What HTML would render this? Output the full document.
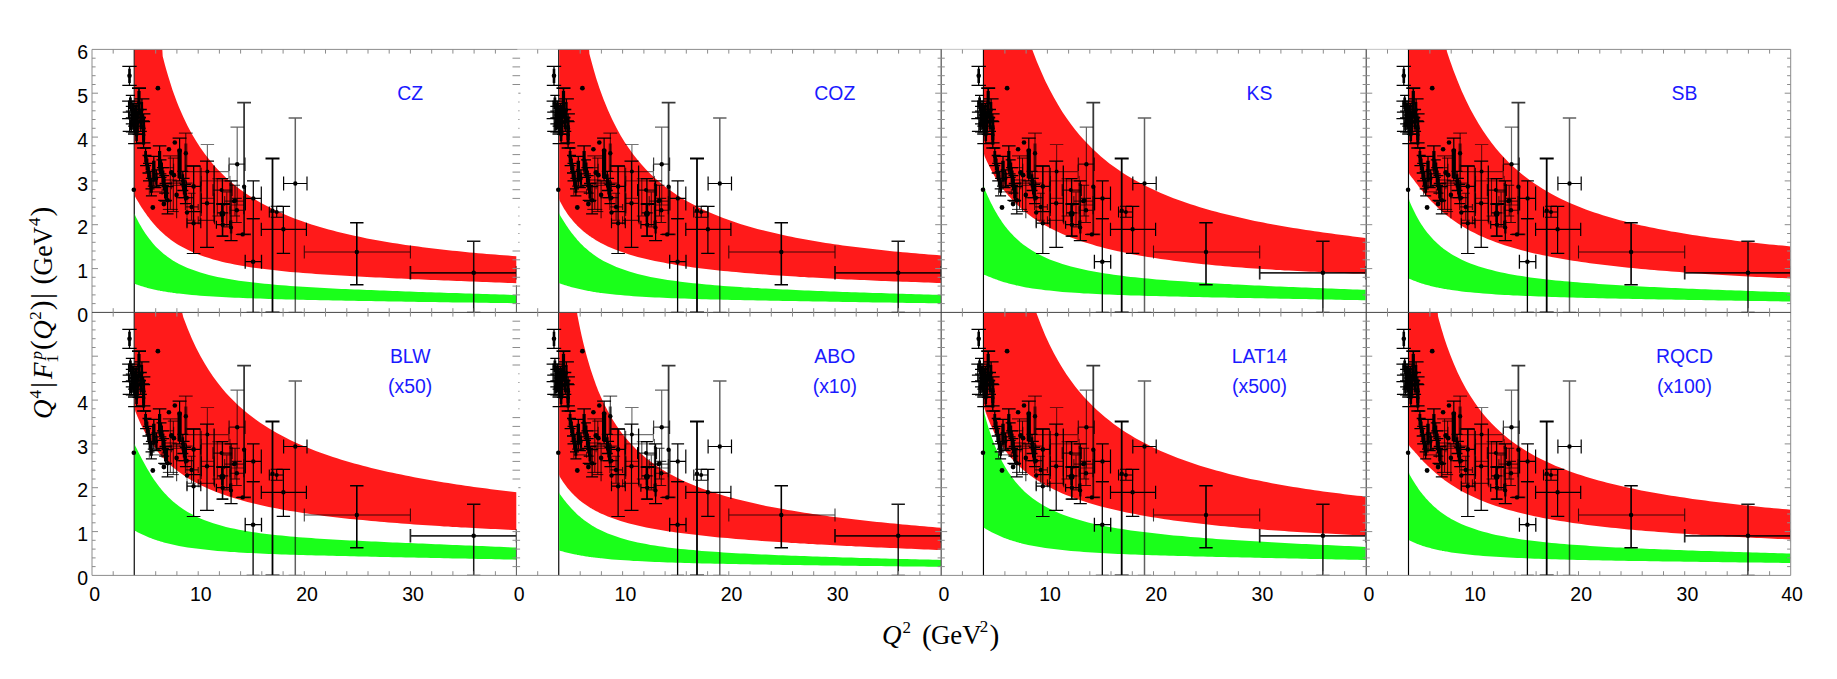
<!DOCTYPE html>
<html><head><meta charset="utf-8"><title>Q4 F1p form factor</title>
<style>html,body{margin:0;padding:0;background:#fff}svg{display:block}text{font-family:"Liberation Sans",sans-serif}.s{font-family:"Liberation Serif",serif}</style></head><body>
<svg width="1837" height="679" viewBox="0 0 1837 679">
<rect width="1837" height="679" fill="#fff"/>
<defs>
<clipPath id="cp00"><rect x="92.0" y="49.4" width="424.50" height="263.00"/></clipPath>
<clipPath id="cp01"><rect x="516.5" y="49.4" width="424.70" height="263.00"/></clipPath>
<clipPath id="cp02"><rect x="941.2" y="49.4" width="424.55" height="263.00"/></clipPath>
<clipPath id="cp03"><rect x="1366.25" y="49.4" width="423.95" height="263.00"/></clipPath>
<clipPath id="cp10"><rect x="92.0" y="312.4" width="424.50" height="263.00"/></clipPath>
<clipPath id="cp11"><rect x="516.5" y="312.4" width="424.70" height="263.00"/></clipPath>
<clipPath id="cp12"><rect x="941.2" y="312.4" width="424.55" height="263.00"/></clipPath>
<clipPath id="cp13"><rect x="1366.25" y="312.4" width="423.95" height="263.00"/></clipPath>
</defs>
<line x1="134.25" y1="49.4" x2="134.25" y2="312.4" stroke="#000" stroke-width="1.15"/>
<line x1="558.75" y1="49.4" x2="558.75" y2="312.4" stroke="#000" stroke-width="1.15"/>
<line x1="983.45" y1="49.4" x2="983.45" y2="312.4" stroke="#000" stroke-width="1.15"/>
<line x1="1408.50" y1="49.4" x2="1408.50" y2="312.4" stroke="#000" stroke-width="1.15"/>
<line x1="134.25" y1="312.4" x2="134.25" y2="575.4" stroke="#000" stroke-width="1.15"/>
<line x1="558.75" y1="312.4" x2="558.75" y2="575.4" stroke="#000" stroke-width="1.15"/>
<line x1="983.45" y1="312.4" x2="983.45" y2="575.4" stroke="#000" stroke-width="1.15"/>
<line x1="1408.50" y1="312.4" x2="1408.50" y2="575.4" stroke="#000" stroke-width="1.15"/>
<g clip-path="url(#cp00)">
<path d="M134.7,213.5 L135.3,215.8 L136.4,218.0 L137.5,220.1 L138.6,222.2 L139.7,224.2 L140.8,226.1 L141.9,228.0 L143.0,229.8 L144.1,231.5 L145.2,233.2 L146.3,234.8 L147.4,236.3 L148.5,237.8 L149.6,239.2 L150.7,240.6 L151.8,242.0 L152.8,243.3 L153.9,244.5 L155.0,245.7 L156.1,246.9 L157.2,248.0 L158.3,249.1 L159.4,250.1 L160.5,251.1 L161.6,252.1 L162.7,253.0 L163.8,253.9 L164.9,254.8 L166.0,255.6 L167.1,256.5 L168.2,257.3 L169.3,258.0 L170.4,258.8 L171.4,259.5 L172.5,260.2 L173.6,260.9 L174.7,261.5 L175.8,262.2 L176.9,262.8 L179.0,263.9 L183.3,266.0 L187.6,267.9 L191.9,269.6 L196.1,271.1 L200.4,272.5 L204.7,273.8 L209.0,274.9 L213.2,275.9 L217.5,276.9 L221.8,277.8 L226.0,278.6 L230.3,279.3 L234.6,280.0 L238.9,280.7 L243.1,281.3 L247.4,281.8 L251.7,282.3 L256.0,282.8 L260.2,283.3 L264.5,283.7 L268.8,284.1 L273.0,284.5 L277.3,284.9 L281.6,285.2 L285.9,285.6 L290.1,285.9 L294.4,286.2 L298.7,286.5 L303.0,286.8 L307.2,287.0 L311.5,287.3 L315.8,287.5 L320.0,287.8 L324.3,288.0 L328.6,288.2 L332.9,288.4 L337.1,288.7 L341.4,288.9 L345.7,289.1 L350.0,289.2 L354.2,289.4 L358.5,289.6 L362.8,289.8 L367.0,290.0 L371.3,290.1 L375.6,290.3 L379.9,290.5 L384.1,290.6 L388.4,290.8 L392.7,291.0 L397.0,291.1 L401.2,291.3 L405.5,291.4 L409.8,291.6 L414.1,291.7 L418.3,291.9 L422.6,292.0 L426.9,292.2 L431.1,292.3 L435.4,292.5 L439.7,292.6 L444.0,292.7 L448.2,292.9 L452.5,293.0 L456.8,293.1 L461.1,293.3 L465.3,293.4 L469.6,293.6 L473.9,293.7 L478.1,293.8 L482.4,294.0 L486.7,294.1 L491.0,294.2 L495.2,294.3 L499.5,294.5 L503.8,294.6 L508.1,294.7 L512.3,294.9 L516.6,295.0 L516.6,303.2 L512.3,303.2 L508.1,303.1 L503.8,303.1 L499.5,303.0 L495.2,302.9 L491.0,302.9 L486.7,302.8 L482.4,302.8 L478.1,302.7 L473.9,302.6 L469.6,302.6 L465.3,302.5 L461.1,302.5 L456.8,302.4 L452.5,302.4 L448.2,302.3 L444.0,302.2 L439.7,302.2 L435.4,302.1 L431.1,302.0 L426.9,302.0 L422.6,301.9 L418.3,301.9 L414.1,301.8 L409.8,301.7 L405.5,301.7 L401.2,301.6 L397.0,301.5 L392.7,301.5 L388.4,301.4 L384.1,301.3 L379.9,301.3 L375.6,301.2 L371.3,301.1 L367.0,301.0 L362.8,301.0 L358.5,300.9 L354.2,300.8 L350.0,300.8 L345.7,300.7 L341.4,300.6 L337.1,300.5 L332.9,300.4 L328.6,300.3 L324.3,300.3 L320.0,300.2 L315.8,300.1 L311.5,300.0 L307.2,299.9 L303.0,299.8 L298.7,299.7 L294.4,299.6 L290.1,299.5 L285.9,299.4 L281.6,299.3 L277.3,299.2 L273.0,299.0 L268.8,298.9 L264.5,298.8 L260.2,298.6 L256.0,298.5 L251.7,298.3 L247.4,298.2 L243.1,298.0 L238.9,297.8 L234.6,297.7 L230.3,297.5 L226.0,297.2 L221.8,297.0 L217.5,296.8 L213.2,296.5 L209.0,296.3 L204.7,296.0 L200.4,295.7 L196.1,295.3 L191.9,294.9 L187.6,294.5 L183.3,294.1 L179.0,293.6 L176.9,293.4 L175.8,293.2 L174.7,293.1 L173.6,292.9 L172.5,292.8 L171.4,292.6 L170.4,292.5 L169.3,292.3 L168.2,292.2 L167.1,292.0 L166.0,291.8 L164.9,291.6 L163.8,291.4 L162.7,291.3 L161.6,291.1 L160.5,290.9 L159.4,290.6 L158.3,290.4 L157.2,290.2 L156.1,290.0 L155.0,289.8 L153.9,289.5 L152.8,289.3 L151.8,289.0 L150.7,288.7 L149.6,288.5 L148.5,288.2 L147.4,287.9 L146.3,287.6 L145.2,287.3 L144.1,287.0 L143.0,286.6 L141.9,286.3 L140.8,285.9 L139.7,285.6 L138.6,285.2 L137.5,284.8 L136.4,284.4 L135.3,284.0 L134.7,283.5Z" fill="#1aff1a"/>
<path d="M134.7,-168.9 L135.3,-152.4 L136.4,-137.0 L137.5,-122.7 L138.6,-109.3 L139.7,-96.8 L140.8,-85.0 L141.9,-73.9 L143.0,-63.5 L144.1,-53.7 L145.2,-44.4 L146.3,-35.6 L147.4,-27.2 L148.5,-19.3 L149.6,-11.8 L150.7,-4.6 L151.8,2.2 L152.8,8.8 L153.9,15.0 L155.0,20.9 L156.1,26.6 L157.2,32.1 L158.3,36.2 L159.4,36.2 L160.5,36.2 L161.6,36.2 L162.7,56.2 L163.8,60.5 L164.9,64.7 L166.0,68.7 L167.1,72.5 L168.2,76.2 L169.3,79.8 L170.4,83.3 L171.4,86.6 L172.5,89.9 L173.6,93.0 L174.7,96.1 L175.8,99.0 L176.9,101.9 L179.0,107.2 L183.3,117.1 L187.6,125.9 L191.9,133.9 L196.1,141.1 L200.4,147.7 L204.7,153.7 L209.0,159.3 L213.2,164.4 L217.5,169.2 L221.8,173.6 L226.0,177.7 L230.3,181.5 L234.6,185.1 L238.9,188.4 L243.1,191.6 L247.4,194.5 L251.7,197.3 L256.0,200.0 L260.2,202.5 L264.5,204.8 L268.8,207.1 L273.0,209.2 L277.3,211.2 L281.6,213.1 L285.9,215.0 L290.1,216.7 L294.4,218.4 L298.7,220.0 L303.0,221.5 L307.2,223.0 L311.5,224.4 L315.8,225.7 L320.0,227.0 L324.3,228.3 L328.6,229.5 L332.9,230.6 L337.1,231.7 L341.4,232.8 L345.7,233.8 L350.0,234.8 L354.2,235.7 L358.5,236.6 L362.8,237.5 L367.0,238.4 L371.3,239.2 L375.6,240.0 L379.9,240.7 L384.1,241.5 L388.4,242.2 L392.7,242.9 L397.0,243.6 L401.2,244.2 L405.5,244.9 L409.8,245.5 L414.1,246.1 L418.3,246.6 L422.6,247.2 L426.9,247.7 L431.1,248.3 L435.4,248.8 L439.7,249.3 L444.0,249.8 L448.2,250.2 L452.5,250.7 L456.8,251.1 L461.1,251.6 L465.3,252.0 L469.6,252.4 L473.9,252.8 L478.1,253.2 L482.4,253.5 L486.7,253.9 L491.0,254.2 L495.2,254.6 L499.5,254.9 L503.8,255.2 L508.1,255.6 L512.3,255.9 L516.6,256.2 L516.6,283.2 L512.3,283.1 L508.1,282.9 L503.8,282.7 L499.5,282.6 L495.2,282.4 L491.0,282.2 L486.7,282.1 L482.4,281.9 L478.1,281.8 L473.9,281.6 L469.6,281.4 L465.3,281.3 L461.1,281.1 L456.8,280.9 L452.5,280.7 L448.2,280.6 L444.0,280.4 L439.7,280.2 L435.4,280.1 L431.1,279.9 L426.9,279.7 L422.6,279.5 L418.3,279.3 L414.1,279.2 L409.8,279.0 L405.5,278.8 L401.2,278.6 L397.0,278.4 L392.7,278.2 L388.4,278.0 L384.1,277.8 L379.9,277.6 L375.6,277.4 L371.3,277.2 L367.0,277.0 L362.8,276.8 L358.5,276.5 L354.2,276.3 L350.0,276.1 L345.7,275.8 L341.4,275.6 L337.1,275.3 L332.9,275.1 L328.6,274.8 L324.3,274.5 L320.0,274.2 L315.8,273.9 L311.5,273.6 L307.2,273.3 L303.0,273.0 L298.7,272.6 L294.4,272.2 L290.1,271.9 L285.9,271.5 L281.6,271.0 L277.3,270.6 L273.0,270.1 L268.8,269.6 L264.5,269.1 L260.2,268.6 L256.0,268.0 L251.7,267.4 L247.4,266.7 L243.1,266.0 L238.9,265.3 L234.6,264.4 L230.3,263.6 L226.0,262.7 L221.8,261.7 L217.5,260.6 L213.2,259.4 L209.0,258.1 L204.7,256.8 L200.4,255.2 L196.1,253.6 L191.9,251.8 L187.6,249.8 L183.3,247.6 L179.0,245.2 L176.9,243.9 L175.8,243.2 L174.7,242.4 L173.6,241.7 L172.5,241.0 L171.4,240.2 L170.4,239.4 L169.3,238.5 L168.2,237.7 L167.1,236.8 L166.0,235.9 L164.9,235.0 L163.8,234.0 L162.7,233.1 L161.6,232.1 L160.5,231.0 L159.4,229.9 L158.3,228.8 L157.2,227.7 L156.1,226.5 L155.0,225.3 L153.9,224.1 L152.8,222.8 L151.8,221.5 L150.7,220.2 L149.6,218.8 L148.5,217.3 L147.4,215.9 L146.3,214.3 L145.2,212.8 L144.1,211.2 L143.0,209.6 L141.9,207.9 L140.8,206.2 L139.7,204.4 L138.6,202.6 L137.5,200.8 L136.4,198.9 L135.3,197.0 L134.7,195.1Z" fill="#ff1a1a"/>
</g>
<g clip-path="url(#cp01)">
<path d="M559.2,212.9 L559.8,214.8 L560.9,216.7 L562.0,218.5 L563.1,220.3 L564.2,222.1 L565.3,223.8 L566.4,225.5 L567.5,227.1 L568.6,228.7 L569.7,230.3 L570.8,231.8 L571.9,233.2 L573.0,234.6 L574.1,236.0 L575.2,237.3 L576.3,238.6 L577.3,239.9 L578.4,241.1 L579.5,242.3 L580.6,243.4 L581.7,244.5 L582.8,245.6 L583.9,246.7 L585.0,247.7 L586.1,248.6 L587.2,249.6 L588.3,250.5 L589.4,251.4 L590.5,252.3 L591.6,253.1 L592.7,253.9 L593.8,254.7 L594.9,255.5 L595.9,256.2 L597.0,257.0 L598.1,257.7 L599.2,258.4 L600.3,259.0 L601.4,259.7 L603.5,260.9 L607.8,263.1 L612.1,265.1 L616.4,267.0 L620.6,268.6 L624.9,270.1 L629.2,271.5 L633.5,272.8 L637.7,273.9 L642.0,275.0 L646.3,276.0 L650.5,276.9 L654.8,277.7 L659.1,278.5 L663.4,279.2 L667.6,279.9 L671.9,280.5 L676.2,281.1 L680.5,281.7 L684.7,282.2 L689.0,282.7 L693.3,283.2 L697.5,283.6 L701.8,284.1 L706.1,284.5 L710.4,284.8 L714.6,285.2 L718.9,285.6 L723.2,285.9 L727.5,286.2 L731.7,286.5 L736.0,286.8 L740.3,287.1 L744.5,287.4 L748.8,287.6 L753.1,287.9 L757.4,288.1 L761.6,288.4 L765.9,288.6 L770.2,288.8 L774.5,289.0 L778.7,289.2 L783.0,289.4 L787.3,289.6 L791.5,289.8 L795.8,290.0 L800.1,290.2 L804.4,290.4 L808.6,290.6 L812.9,290.7 L817.2,290.9 L821.5,291.1 L825.7,291.2 L830.0,291.4 L834.3,291.5 L838.6,291.7 L842.8,291.9 L847.1,292.0 L851.4,292.2 L855.6,292.3 L859.9,292.4 L864.2,292.6 L868.5,292.7 L872.7,292.9 L877.0,293.0 L881.3,293.1 L885.6,293.3 L889.8,293.4 L894.1,293.6 L898.4,293.7 L902.6,293.8 L906.9,293.9 L911.2,294.1 L915.5,294.2 L919.7,294.3 L924.0,294.5 L928.3,294.6 L932.6,294.7 L936.8,294.8 L941.1,295.0 L941.1,303.4 L936.8,303.3 L932.6,303.3 L928.3,303.2 L924.0,303.1 L919.7,303.1 L915.5,303.0 L911.2,303.0 L906.9,302.9 L902.6,302.8 L898.4,302.8 L894.1,302.7 L889.8,302.6 L885.6,302.6 L881.3,302.5 L877.0,302.4 L872.7,302.4 L868.5,302.3 L864.2,302.2 L859.9,302.2 L855.6,302.1 L851.4,302.0 L847.1,302.0 L842.8,301.9 L838.6,301.8 L834.3,301.8 L830.0,301.7 L825.7,301.6 L821.5,301.5 L817.2,301.5 L812.9,301.4 L808.6,301.3 L804.4,301.3 L800.1,301.2 L795.8,301.1 L791.5,301.0 L787.3,301.0 L783.0,300.9 L778.7,300.8 L774.5,300.7 L770.2,300.7 L765.9,300.6 L761.6,300.5 L757.4,300.4 L753.1,300.3 L748.8,300.3 L744.5,300.2 L740.3,300.1 L736.0,300.0 L731.7,299.9 L727.5,299.8 L723.2,299.7 L718.9,299.6 L714.6,299.5 L710.4,299.4 L706.1,299.3 L701.8,299.2 L697.5,299.0 L693.3,298.9 L689.0,298.8 L684.7,298.6 L680.5,298.5 L676.2,298.3 L671.9,298.2 L667.6,298.0 L663.4,297.8 L659.1,297.6 L654.8,297.4 L650.5,297.2 L646.3,297.0 L642.0,296.7 L637.7,296.5 L633.5,296.2 L629.2,295.8 L624.9,295.5 L620.6,295.1 L616.4,294.7 L612.1,294.3 L607.8,293.8 L603.5,293.3 L601.4,293.0 L600.3,292.9 L599.2,292.7 L598.1,292.5 L597.0,292.4 L595.9,292.2 L594.9,292.0 L593.8,291.9 L592.7,291.7 L591.6,291.5 L590.5,291.3 L589.4,291.1 L588.3,290.9 L587.2,290.7 L586.1,290.5 L585.0,290.3 L583.9,290.1 L582.8,289.8 L581.7,289.6 L580.6,289.3 L579.5,289.1 L578.4,288.8 L577.3,288.6 L576.3,288.3 L575.2,288.0 L574.1,287.7 L573.0,287.5 L571.9,287.2 L570.8,286.9 L569.7,286.5 L568.6,286.2 L567.5,285.9 L566.4,285.6 L565.3,285.2 L564.2,284.9 L563.1,284.5 L562.0,284.2 L560.9,283.8 L559.8,283.4 L559.2,283.1Z" fill="#1aff1a"/>
<path d="M559.2,-196.9 L559.8,-179.3 L560.9,-162.9 L562.0,-147.6 L563.1,-133.3 L564.2,-119.9 L565.3,-107.3 L566.4,-95.4 L567.5,-84.2 L568.6,-73.7 L569.7,-63.7 L570.8,-54.2 L571.9,-45.2 L573.0,-36.7 L574.1,-28.6 L575.2,-20.9 L576.3,-13.5 L577.3,-6.5 L578.4,0.2 L579.5,6.6 L580.6,12.7 L581.7,18.6 L582.8,24.2 L583.9,29.7 L585.0,34.8 L586.1,36.2 L587.2,36.2 L588.3,36.2 L589.4,53.7 L590.5,58.0 L591.6,62.1 L592.7,66.1 L593.8,70.0 L594.9,73.7 L595.9,77.3 L597.0,80.8 L598.1,84.1 L599.2,87.4 L600.3,90.6 L601.4,93.6 L603.5,99.3 L607.8,109.8 L612.1,119.3 L616.4,127.8 L620.6,135.4 L624.9,142.4 L629.2,148.8 L633.5,154.7 L637.7,160.1 L642.0,165.1 L646.3,169.7 L650.5,174.0 L654.8,178.0 L659.1,181.8 L663.4,185.3 L667.6,188.6 L671.9,191.6 L676.2,194.5 L680.5,197.3 L684.7,199.9 L689.0,202.3 L693.3,204.6 L697.5,206.8 L701.8,208.9 L706.1,210.9 L710.4,212.8 L714.6,214.6 L718.9,216.3 L723.2,218.0 L727.5,219.6 L731.7,221.1 L736.0,222.5 L740.3,223.9 L744.5,225.2 L748.8,226.5 L753.1,227.7 L757.4,228.9 L761.6,230.0 L765.9,231.1 L770.2,232.1 L774.5,233.1 L778.7,234.1 L783.0,235.1 L787.3,236.0 L791.5,236.8 L795.8,237.7 L800.1,238.5 L804.4,239.3 L808.6,240.1 L812.9,240.8 L817.2,241.5 L821.5,242.2 L825.7,242.9 L830.0,243.6 L834.3,244.2 L838.6,244.8 L842.8,245.4 L847.1,246.0 L851.4,246.5 L855.6,247.1 L859.9,247.6 L864.2,248.1 L868.5,248.6 L872.7,249.1 L877.0,249.6 L881.3,250.1 L885.6,250.5 L889.8,250.9 L894.1,251.4 L898.4,251.8 L902.6,252.2 L906.9,252.6 L911.2,253.0 L915.5,253.3 L919.7,253.7 L924.0,254.1 L928.3,254.4 L932.6,254.7 L936.8,255.1 L941.1,255.4 L941.1,283.0 L936.8,282.9 L932.6,282.7 L928.3,282.6 L924.0,282.4 L919.7,282.3 L915.5,282.1 L911.2,282.0 L906.9,281.8 L902.6,281.7 L898.4,281.5 L894.1,281.4 L889.8,281.2 L885.6,281.0 L881.3,280.9 L877.0,280.7 L872.7,280.5 L868.5,280.3 L864.2,280.1 L859.9,279.9 L855.6,279.8 L851.4,279.6 L847.1,279.4 L842.8,279.2 L838.6,279.0 L834.3,278.7 L830.0,278.5 L825.7,278.3 L821.5,278.1 L817.2,277.8 L812.9,277.6 L808.6,277.4 L804.4,277.1 L800.1,276.9 L795.8,276.6 L791.5,276.3 L787.3,276.1 L783.0,275.8 L778.7,275.5 L774.5,275.2 L770.2,274.9 L765.9,274.6 L761.6,274.3 L757.4,273.9 L753.1,273.6 L748.8,273.2 L744.5,272.9 L740.3,272.5 L736.0,272.1 L731.7,271.7 L727.5,271.3 L723.2,270.9 L718.9,270.4 L714.6,270.0 L710.4,269.5 L706.1,269.0 L701.8,268.5 L697.5,267.9 L693.3,267.4 L689.0,266.8 L684.7,266.2 L680.5,265.5 L676.2,264.9 L671.9,264.1 L667.6,263.4 L663.4,262.6 L659.1,261.8 L654.8,260.9 L650.5,260.0 L646.3,259.0 L642.0,258.0 L637.7,256.9 L633.5,255.7 L629.2,254.4 L624.9,253.0 L620.6,251.6 L616.4,250.0 L612.1,248.3 L607.8,246.4 L603.5,244.3 L601.4,243.2 L600.3,242.7 L599.2,242.1 L598.1,241.4 L597.0,240.8 L595.9,240.2 L594.9,239.5 L593.8,238.8 L592.7,238.1 L591.6,237.4 L590.5,236.6 L589.4,235.9 L588.3,235.1 L587.2,234.3 L586.1,233.4 L585.0,232.6 L583.9,231.7 L582.8,230.8 L581.7,229.8 L580.6,228.8 L579.5,227.8 L578.4,226.8 L577.3,225.7 L576.3,224.6 L575.2,223.4 L574.1,222.2 L573.0,220.9 L571.9,219.6 L570.8,218.3 L569.7,216.9 L568.6,215.4 L567.5,213.9 L566.4,212.3 L565.3,210.6 L564.2,208.9 L563.1,207.0 L562.0,205.1 L560.9,203.1 L559.8,201.0 L559.2,198.8Z" fill="#ff1a1a"/>
</g>
<g clip-path="url(#cp02)">
<path d="M983.9,185.8 L984.5,188.5 L985.6,191.2 L986.7,193.7 L987.8,196.2 L988.9,198.6 L990.0,200.9 L991.1,203.2 L992.2,205.3 L993.3,207.4 L994.4,209.5 L995.5,211.4 L996.6,213.3 L997.7,215.2 L998.8,216.9 L999.9,218.7 L1001.0,220.3 L1002.0,221.9 L1003.1,223.5 L1004.2,225.0 L1005.3,226.4 L1006.4,227.8 L1007.5,229.2 L1008.6,230.5 L1009.7,231.7 L1010.8,233.0 L1011.9,234.1 L1013.0,235.3 L1014.1,236.4 L1015.2,237.5 L1016.3,238.5 L1017.4,239.5 L1018.5,240.5 L1019.6,241.5 L1020.6,242.4 L1021.7,243.3 L1022.8,244.2 L1023.9,245.0 L1025.0,245.8 L1026.1,246.6 L1028.2,248.1 L1032.5,250.8 L1036.8,253.3 L1041.1,255.5 L1045.3,257.6 L1049.6,259.4 L1053.9,261.1 L1058.2,262.6 L1062.4,264.0 L1066.7,265.3 L1071.0,266.5 L1075.2,267.6 L1079.5,268.6 L1083.8,269.6 L1088.1,270.5 L1092.3,271.3 L1096.6,272.1 L1100.9,272.8 L1105.2,273.5 L1109.4,274.1 L1113.7,274.7 L1118.0,275.3 L1122.2,275.8 L1126.5,276.4 L1130.8,276.9 L1135.1,277.3 L1139.3,277.8 L1143.6,278.2 L1147.9,278.6 L1152.2,279.0 L1156.4,279.4 L1160.7,279.7 L1165.0,280.1 L1169.2,280.4 L1173.5,280.7 L1177.8,281.0 L1182.1,281.3 L1186.3,281.6 L1190.6,281.9 L1194.9,282.2 L1199.2,282.5 L1203.4,282.7 L1207.7,283.0 L1212.0,283.2 L1216.2,283.5 L1220.5,283.7 L1224.8,283.9 L1229.1,284.1 L1233.3,284.4 L1237.6,284.6 L1241.9,284.8 L1246.2,285.0 L1250.4,285.2 L1254.7,285.4 L1259.0,285.6 L1263.3,285.8 L1267.5,286.0 L1271.8,286.2 L1276.1,286.4 L1280.3,286.5 L1284.6,286.7 L1288.9,286.9 L1293.2,287.1 L1297.4,287.3 L1301.7,287.4 L1306.0,287.6 L1310.3,287.8 L1314.5,287.9 L1318.8,288.1 L1323.1,288.3 L1327.3,288.4 L1331.6,288.6 L1335.9,288.8 L1340.2,288.9 L1344.4,289.1 L1348.7,289.2 L1353.0,289.4 L1357.3,289.5 L1361.5,289.7 L1365.8,289.8 L1365.8,300.3 L1361.5,300.2 L1357.3,300.1 L1353.0,300.0 L1348.7,299.9 L1344.4,299.9 L1340.2,299.8 L1335.9,299.7 L1331.6,299.6 L1327.3,299.5 L1323.1,299.5 L1318.8,299.4 L1314.5,299.3 L1310.3,299.2 L1306.0,299.1 L1301.7,299.1 L1297.4,299.0 L1293.2,298.9 L1288.9,298.8 L1284.6,298.7 L1280.3,298.7 L1276.1,298.6 L1271.8,298.5 L1267.5,298.4 L1263.3,298.3 L1259.0,298.3 L1254.7,298.2 L1250.4,298.1 L1246.2,298.0 L1241.9,297.9 L1237.6,297.9 L1233.3,297.8 L1229.1,297.7 L1224.8,297.6 L1220.5,297.5 L1216.2,297.4 L1212.0,297.4 L1207.7,297.3 L1203.4,297.2 L1199.2,297.1 L1194.9,297.0 L1190.6,296.9 L1186.3,296.8 L1182.1,296.7 L1177.8,296.6 L1173.5,296.5 L1169.2,296.4 L1165.0,296.3 L1160.7,296.2 L1156.4,296.1 L1152.2,296.0 L1147.9,295.9 L1143.6,295.8 L1139.3,295.6 L1135.1,295.5 L1130.8,295.4 L1126.5,295.2 L1122.2,295.1 L1118.0,294.9 L1113.7,294.8 L1109.4,294.6 L1105.2,294.4 L1100.9,294.2 L1096.6,294.0 L1092.3,293.8 L1088.1,293.6 L1083.8,293.4 L1079.5,293.1 L1075.2,292.8 L1071.0,292.5 L1066.7,292.2 L1062.4,291.9 L1058.2,291.5 L1053.9,291.1 L1049.6,290.6 L1045.3,290.2 L1041.1,289.6 L1036.8,289.1 L1032.5,288.4 L1028.2,287.7 L1026.1,287.4 L1025.0,287.2 L1023.9,286.9 L1022.8,286.7 L1021.7,286.5 L1020.6,286.3 L1019.6,286.1 L1018.5,285.8 L1017.4,285.6 L1016.3,285.4 L1015.2,285.1 L1014.1,284.8 L1013.0,284.6 L1011.9,284.3 L1010.8,284.0 L1009.7,283.7 L1008.6,283.4 L1007.5,283.1 L1006.4,282.8 L1005.3,282.5 L1004.2,282.2 L1003.1,281.9 L1002.0,281.5 L1001.0,281.2 L999.9,280.8 L998.8,280.4 L997.7,280.0 L996.6,279.6 L995.5,279.2 L994.4,278.8 L993.3,278.4 L992.2,278.0 L991.1,277.6 L990.0,277.1 L988.9,276.7 L987.8,276.2 L986.7,275.8 L985.6,275.3 L984.5,274.9 L983.9,274.4Z" fill="#1aff1a"/>
<path d="M983.9,-180.4 L984.5,-173.1 L985.6,-165.8 L986.7,-158.5 L987.8,-151.3 L988.9,-144.1 L990.0,-137.0 L991.1,-130.0 L992.2,-123.1 L993.3,-116.3 L994.4,-109.6 L995.5,-103.1 L996.6,-96.6 L997.7,-90.3 L998.8,-84.2 L999.9,-78.1 L1001.0,-72.2 L1002.0,-66.4 L1003.1,-60.8 L1004.2,-55.3 L1005.3,-49.9 L1006.4,-44.6 L1007.5,-39.4 L1008.6,-34.4 L1009.7,-29.5 L1010.8,-24.7 L1011.9,-20.0 L1013.0,-15.4 L1014.1,-11.0 L1015.2,-6.6 L1016.3,-2.4 L1017.4,1.8 L1018.5,5.8 L1019.6,9.8 L1020.6,13.7 L1021.7,17.4 L1022.8,21.1 L1023.9,24.7 L1025.0,28.3 L1026.1,31.7 L1028.2,36.2 L1032.5,50.3 L1036.8,61.4 L1041.1,71.6 L1045.3,81.0 L1049.6,89.6 L1053.9,97.6 L1058.2,105.0 L1062.4,111.9 L1066.7,118.3 L1071.0,124.2 L1075.2,129.7 L1079.5,134.9 L1083.8,139.8 L1088.1,144.3 L1092.3,148.6 L1096.6,152.6 L1100.9,156.4 L1105.2,160.0 L1109.4,163.4 L1113.7,166.6 L1118.0,169.6 L1122.2,172.5 L1126.5,175.2 L1130.8,177.8 L1135.1,180.3 L1139.3,182.6 L1143.6,184.9 L1147.9,187.0 L1152.2,189.1 L1156.4,191.1 L1160.7,192.9 L1165.0,194.8 L1169.2,196.5 L1173.5,198.2 L1177.8,199.8 L1182.1,201.3 L1186.3,202.8 L1190.6,204.2 L1194.9,205.6 L1199.2,206.9 L1203.4,208.2 L1207.7,209.5 L1212.0,210.7 L1216.2,211.8 L1220.5,213.0 L1224.8,214.1 L1229.1,215.1 L1233.3,216.1 L1237.6,217.1 L1241.9,218.1 L1246.2,219.1 L1250.4,220.0 L1254.7,220.9 L1259.0,221.7 L1263.3,222.6 L1267.5,223.4 L1271.8,224.2 L1276.1,225.0 L1280.3,225.7 L1284.6,226.5 L1288.9,227.2 L1293.2,227.9 L1297.4,228.6 L1301.7,229.3 L1306.0,229.9 L1310.3,230.6 L1314.5,231.2 L1318.8,231.8 L1323.1,232.4 L1327.3,233.0 L1331.6,233.6 L1335.9,234.2 L1340.2,234.7 L1344.4,235.3 L1348.7,235.8 L1353.0,236.4 L1357.3,236.9 L1361.5,237.4 L1365.8,237.9 L1365.8,273.8 L1361.5,273.6 L1357.3,273.5 L1353.0,273.4 L1348.7,273.2 L1344.4,273.1 L1340.2,272.9 L1335.9,272.7 L1331.6,272.6 L1327.3,272.4 L1323.1,272.2 L1318.8,272.0 L1314.5,271.8 L1310.3,271.7 L1306.0,271.5 L1301.7,271.2 L1297.4,271.0 L1293.2,270.8 L1288.9,270.6 L1284.6,270.4 L1280.3,270.1 L1276.1,269.9 L1271.8,269.6 L1267.5,269.3 L1263.3,269.1 L1259.0,268.8 L1254.7,268.5 L1250.4,268.2 L1246.2,267.9 L1241.9,267.6 L1237.6,267.2 L1233.3,266.9 L1229.1,266.5 L1224.8,266.2 L1220.5,265.8 L1216.2,265.4 L1212.0,265.0 L1207.7,264.6 L1203.4,264.2 L1199.2,263.7 L1194.9,263.3 L1190.6,262.8 L1186.3,262.3 L1182.1,261.8 L1177.8,261.3 L1173.5,260.7 L1169.2,260.1 L1165.0,259.5 L1160.7,258.9 L1156.4,258.3 L1152.2,257.6 L1147.9,256.9 L1143.6,256.2 L1139.3,255.5 L1135.1,254.7 L1130.8,253.9 L1126.5,253.0 L1122.2,252.1 L1118.0,251.2 L1113.7,250.2 L1109.4,249.2 L1105.2,248.2 L1100.9,247.0 L1096.6,245.9 L1092.3,244.6 L1088.1,243.3 L1083.8,242.0 L1079.5,240.5 L1075.2,239.0 L1071.0,237.4 L1066.7,235.7 L1062.4,233.9 L1058.2,232.0 L1053.9,230.0 L1049.6,227.8 L1045.3,225.4 L1041.1,223.0 L1036.8,220.3 L1032.5,217.4 L1028.2,214.3 L1026.1,212.6 L1025.0,211.7 L1023.9,210.8 L1022.8,209.9 L1021.7,209.0 L1020.6,208.0 L1019.6,207.1 L1018.5,206.1 L1017.4,205.0 L1016.3,204.0 L1015.2,202.9 L1014.1,201.8 L1013.0,200.7 L1011.9,199.5 L1010.8,198.3 L1009.7,197.1 L1008.6,195.9 L1007.5,194.6 L1006.4,193.3 L1005.3,191.9 L1004.2,190.5 L1003.1,189.1 L1002.0,187.6 L1001.0,186.1 L999.9,184.5 L998.8,182.9 L997.7,181.2 L996.6,179.5 L995.5,177.7 L994.4,175.9 L993.3,174.0 L992.2,172.0 L991.1,169.9 L990.0,167.8 L988.9,165.6 L987.8,163.3 L986.7,160.9 L985.6,158.5 L984.5,155.9 L983.9,153.2Z" fill="#ff1a1a"/>
</g>
<g clip-path="url(#cp03)">
<path d="M1409.0,198.8 L1409.6,201.4 L1410.7,204.0 L1411.8,206.5 L1412.9,208.8 L1414.0,211.1 L1415.1,213.3 L1416.2,215.4 L1417.3,217.4 L1418.3,219.3 L1419.4,221.2 L1420.5,223.0 L1421.6,224.7 L1422.7,226.3 L1423.8,227.9 L1424.9,229.5 L1426.0,230.9 L1427.1,232.4 L1428.2,233.7 L1429.3,235.1 L1430.4,236.3 L1431.5,237.6 L1432.6,238.8 L1433.7,239.9 L1434.8,241.0 L1435.9,242.1 L1436.9,243.1 L1438.0,244.1 L1439.1,245.1 L1440.2,246.0 L1441.3,246.9 L1442.4,247.8 L1443.5,248.7 L1444.6,249.5 L1445.7,250.3 L1446.8,251.1 L1447.9,251.8 L1449.0,252.6 L1450.1,253.3 L1451.2,254.0 L1453.3,255.2 L1457.6,257.6 L1461.8,259.8 L1466.1,261.7 L1470.4,263.4 L1474.7,265.0 L1478.9,266.5 L1483.2,267.8 L1487.5,269.0 L1491.7,270.1 L1496.0,271.2 L1500.3,272.2 L1504.6,273.1 L1508.8,273.9 L1513.1,274.7 L1517.4,275.4 L1521.7,276.1 L1525.9,276.7 L1530.2,277.4 L1534.5,277.9 L1538.8,278.5 L1543.0,279.0 L1547.3,279.5 L1551.6,279.9 L1555.8,280.4 L1560.1,280.8 L1564.4,281.2 L1568.7,281.6 L1572.9,282.0 L1577.2,282.3 L1581.5,282.7 L1585.8,283.0 L1590.0,283.3 L1594.3,283.6 L1598.6,283.9 L1602.8,284.2 L1607.1,284.5 L1611.4,284.8 L1615.7,285.0 L1619.9,285.3 L1624.2,285.5 L1628.5,285.8 L1632.8,286.0 L1637.0,286.2 L1641.3,286.5 L1645.6,286.7 L1649.8,286.9 L1654.1,287.1 L1658.4,287.3 L1662.7,287.5 L1666.9,287.7 L1671.2,287.9 L1675.5,288.1 L1679.8,288.3 L1684.0,288.5 L1688.3,288.7 L1692.6,288.8 L1696.8,289.0 L1701.1,289.2 L1705.4,289.3 L1709.7,289.5 L1713.9,289.7 L1718.2,289.8 L1722.5,290.0 L1726.8,290.2 L1731.0,290.3 L1735.3,290.5 L1739.6,290.6 L1743.8,290.8 L1748.1,290.9 L1752.4,291.1 L1756.7,291.2 L1760.9,291.4 L1765.2,291.5 L1769.5,291.7 L1773.8,291.8 L1778.0,292.0 L1782.3,292.1 L1786.6,292.2 L1790.8,292.4 L1790.8,301.5 L1786.6,301.4 L1782.3,301.4 L1778.0,301.3 L1773.8,301.2 L1769.5,301.2 L1765.2,301.1 L1760.9,301.1 L1756.7,301.0 L1752.4,300.9 L1748.1,300.9 L1743.8,300.8 L1739.6,300.7 L1735.3,300.7 L1731.0,300.6 L1726.8,300.5 L1722.5,300.5 L1718.2,300.4 L1713.9,300.3 L1709.7,300.3 L1705.4,300.2 L1701.1,300.1 L1696.8,300.1 L1692.6,300.0 L1688.3,299.9 L1684.0,299.8 L1679.8,299.8 L1675.5,299.7 L1671.2,299.6 L1666.9,299.6 L1662.7,299.5 L1658.4,299.4 L1654.1,299.3 L1649.8,299.2 L1645.6,299.2 L1641.3,299.1 L1637.0,299.0 L1632.8,298.9 L1628.5,298.8 L1624.2,298.8 L1619.9,298.7 L1615.7,298.6 L1611.4,298.5 L1607.1,298.4 L1602.8,298.3 L1598.6,298.2 L1594.3,298.1 L1590.0,298.0 L1585.8,297.9 L1581.5,297.8 L1577.2,297.7 L1572.9,297.6 L1568.7,297.4 L1564.4,297.3 L1560.1,297.2 L1555.8,297.1 L1551.6,296.9 L1547.3,296.8 L1543.0,296.6 L1538.8,296.5 L1534.5,296.3 L1530.2,296.1 L1525.9,296.0 L1521.7,295.8 L1517.4,295.6 L1513.1,295.4 L1508.8,295.1 L1504.6,294.9 L1500.3,294.7 L1496.0,294.4 L1491.7,294.1 L1487.5,293.8 L1483.2,293.5 L1478.9,293.1 L1474.7,292.7 L1470.4,292.3 L1466.1,291.9 L1461.8,291.4 L1457.6,290.8 L1453.3,290.3 L1451.2,289.9 L1450.1,289.8 L1449.0,289.6 L1447.9,289.4 L1446.8,289.3 L1445.7,289.1 L1444.6,288.9 L1443.5,288.7 L1442.4,288.5 L1441.3,288.3 L1440.2,288.1 L1439.1,287.9 L1438.0,287.6 L1436.9,287.4 L1435.9,287.2 L1434.8,286.9 L1433.7,286.7 L1432.6,286.4 L1431.5,286.2 L1430.4,285.9 L1429.3,285.6 L1428.2,285.3 L1427.1,285.0 L1426.0,284.7 L1424.9,284.4 L1423.8,284.1 L1422.7,283.7 L1421.6,283.4 L1420.5,283.1 L1419.4,282.7 L1418.3,282.3 L1417.3,281.9 L1416.2,281.5 L1415.1,281.1 L1414.0,280.7 L1412.9,280.3 L1411.8,279.8 L1410.7,279.3 L1409.6,278.9 L1409.0,278.4Z" fill="#1aff1a"/>
<path d="M1409.0,-124.1 L1409.6,-118.1 L1410.7,-112.0 L1411.8,-105.8 L1412.9,-99.7 L1414.0,-93.6 L1415.1,-87.5 L1416.2,-81.4 L1417.3,-75.4 L1418.3,-69.4 L1419.4,-63.5 L1420.5,-57.8 L1421.6,-52.1 L1422.7,-46.5 L1423.8,-40.9 L1424.9,-35.5 L1426.0,-30.2 L1427.1,-25.0 L1428.2,-20.0 L1429.3,-15.0 L1430.4,-10.1 L1431.5,-5.3 L1432.6,-0.7 L1433.7,3.9 L1434.8,8.4 L1435.9,12.7 L1436.9,17.0 L1438.0,21.1 L1439.1,25.2 L1440.2,29.2 L1441.3,33.0 L1442.4,36.2 L1443.5,36.2 L1444.6,36.2 L1445.7,36.2 L1446.8,51.1 L1447.9,54.5 L1449.0,57.8 L1450.1,61.0 L1451.2,64.1 L1453.3,70.0 L1457.6,81.1 L1461.8,91.3 L1466.1,100.6 L1470.4,109.2 L1474.7,117.1 L1478.9,124.3 L1483.2,131.0 L1487.5,137.3 L1491.7,143.0 L1496.0,148.4 L1500.3,153.4 L1504.6,158.1 L1508.8,162.4 L1513.1,166.5 L1517.4,170.3 L1521.7,173.9 L1525.9,177.3 L1530.2,180.5 L1534.5,183.5 L1538.8,186.3 L1543.0,189.0 L1547.3,191.5 L1551.6,193.9 L1555.8,196.2 L1560.1,198.4 L1564.4,200.4 L1568.7,202.4 L1572.9,204.3 L1577.2,206.0 L1581.5,207.7 L1585.8,209.4 L1590.0,210.9 L1594.3,212.4 L1598.6,213.8 L1602.8,215.2 L1607.1,216.5 L1611.4,217.8 L1615.7,219.0 L1619.9,220.2 L1624.2,221.3 L1628.5,222.4 L1632.8,223.4 L1637.0,224.4 L1641.3,225.4 L1645.6,226.3 L1649.8,227.3 L1654.1,228.1 L1658.4,229.0 L1662.7,229.8 L1666.9,230.6 L1671.2,231.4 L1675.5,232.1 L1679.8,232.8 L1684.0,233.6 L1688.3,234.2 L1692.6,234.9 L1696.8,235.5 L1701.1,236.2 L1705.4,236.8 L1709.7,237.4 L1713.9,238.0 L1718.2,238.5 L1722.5,239.1 L1726.8,239.6 L1731.0,240.1 L1735.3,240.7 L1739.6,241.2 L1743.8,241.6 L1748.1,242.1 L1752.4,242.6 L1756.7,243.0 L1760.9,243.5 L1765.2,243.9 L1769.5,244.4 L1773.8,244.8 L1778.0,245.2 L1782.3,245.6 L1786.6,246.0 L1790.8,246.4 L1790.8,278.5 L1786.6,278.3 L1782.3,278.1 L1778.0,277.9 L1773.8,277.7 L1769.5,277.5 L1765.2,277.3 L1760.9,277.1 L1756.7,276.9 L1752.4,276.7 L1748.1,276.4 L1743.8,276.2 L1739.6,276.0 L1735.3,275.7 L1731.0,275.5 L1726.8,275.2 L1722.5,275.0 L1718.2,274.7 L1713.9,274.4 L1709.7,274.2 L1705.4,273.9 L1701.1,273.6 L1696.8,273.3 L1692.6,273.0 L1688.3,272.7 L1684.0,272.4 L1679.8,272.1 L1675.5,271.8 L1671.2,271.5 L1666.9,271.1 L1662.7,270.8 L1658.4,270.4 L1654.1,270.1 L1649.8,269.7 L1645.6,269.3 L1641.3,268.9 L1637.0,268.5 L1632.8,268.1 L1628.5,267.7 L1624.2,267.2 L1619.9,266.8 L1615.7,266.3 L1611.4,265.8 L1607.1,265.3 L1602.8,264.8 L1598.6,264.3 L1594.3,263.7 L1590.0,263.2 L1585.8,262.6 L1581.5,262.0 L1577.2,261.3 L1572.9,260.7 L1568.7,260.0 L1564.4,259.3 L1560.1,258.5 L1555.8,257.8 L1551.6,257.0 L1547.3,256.1 L1543.0,255.3 L1538.8,254.3 L1534.5,253.4 L1530.2,252.4 L1525.9,251.3 L1521.7,250.2 L1517.4,249.1 L1513.1,247.8 L1508.8,246.6 L1504.6,245.2 L1500.3,243.8 L1496.0,242.2 L1491.7,240.6 L1487.5,238.9 L1483.2,237.1 L1478.9,235.2 L1474.7,233.1 L1470.4,230.9 L1466.1,228.5 L1461.8,226.0 L1457.6,223.2 L1453.3,220.3 L1451.2,218.8 L1450.1,218.0 L1449.0,217.1 L1447.9,216.3 L1446.8,215.4 L1445.7,214.5 L1444.6,213.6 L1443.5,212.7 L1442.4,211.8 L1441.3,210.8 L1440.2,209.9 L1439.1,208.9 L1438.0,207.9 L1436.9,206.8 L1435.9,205.8 L1434.8,204.7 L1433.7,203.6 L1432.6,202.5 L1431.5,201.4 L1430.4,200.2 L1429.3,199.0 L1428.2,197.8 L1427.1,196.6 L1426.0,195.4 L1424.9,194.1 L1423.8,192.8 L1422.7,191.5 L1421.6,190.2 L1420.5,188.8 L1419.4,187.4 L1418.3,186.0 L1417.3,184.6 L1416.2,183.2 L1415.1,181.8 L1414.0,180.3 L1412.9,178.8 L1411.8,177.4 L1410.7,175.9 L1409.6,174.4 L1409.0,172.9Z" fill="#ff1a1a"/>
</g>
<g clip-path="url(#cp10)">
<path d="M134.7,443.8 L135.3,446.0 L136.4,448.1 L137.5,450.3 L138.6,452.5 L139.7,454.7 L140.8,456.8 L141.9,458.9 L143.0,461.0 L144.1,463.1 L145.2,465.1 L146.3,467.0 L147.4,468.9 L148.5,470.8 L149.6,472.6 L150.7,474.4 L151.8,476.2 L152.8,477.8 L153.9,479.5 L155.0,481.1 L156.1,482.6 L157.2,484.1 L158.3,485.6 L159.4,487.0 L160.5,488.3 L161.6,489.7 L162.7,491.0 L163.8,492.2 L164.9,493.4 L166.0,494.6 L167.1,495.7 L168.2,496.9 L169.3,497.9 L170.4,499.0 L171.4,500.0 L172.5,501.0 L173.6,501.9 L174.7,502.8 L175.8,503.7 L176.9,504.6 L179.0,506.2 L183.3,509.2 L187.6,511.9 L191.9,514.3 L196.1,516.5 L200.4,518.4 L204.7,520.2 L209.0,521.8 L213.2,523.2 L217.5,524.6 L221.8,525.8 L226.0,526.9 L230.3,527.9 L234.6,528.8 L238.9,529.7 L243.1,530.5 L247.4,531.3 L251.7,531.9 L256.0,532.6 L260.2,533.2 L264.5,533.7 L268.8,534.3 L273.0,534.8 L277.3,535.2 L281.6,535.6 L285.9,536.1 L290.1,536.4 L294.4,536.8 L298.7,537.2 L303.0,537.5 L307.2,537.8 L311.5,538.1 L315.8,538.4 L320.0,538.7 L324.3,538.9 L328.6,539.2 L332.9,539.5 L337.1,539.7 L341.4,539.9 L345.7,540.2 L350.0,540.4 L354.2,540.6 L358.5,540.8 L362.8,541.0 L367.0,541.2 L371.3,541.4 L375.6,541.6 L379.9,541.8 L384.1,542.0 L388.4,542.2 L392.7,542.4 L397.0,542.5 L401.2,542.7 L405.5,542.9 L409.8,543.1 L414.1,543.3 L418.3,543.4 L422.6,543.6 L426.9,543.8 L431.1,544.0 L435.4,544.2 L439.7,544.3 L444.0,544.5 L448.2,544.7 L452.5,544.9 L456.8,545.0 L461.1,545.2 L465.3,545.4 L469.6,545.6 L473.9,545.8 L478.1,545.9 L482.4,546.1 L486.7,546.3 L491.0,546.5 L495.2,546.7 L499.5,546.8 L503.8,547.0 L508.1,547.2 L512.3,547.4 L516.6,547.6 L516.6,559.7 L512.3,559.6 L508.1,559.5 L503.8,559.4 L499.5,559.3 L495.2,559.2 L491.0,559.1 L486.7,559.1 L482.4,559.0 L478.1,558.9 L473.9,558.8 L469.6,558.7 L465.3,558.6 L461.1,558.5 L456.8,558.4 L452.5,558.4 L448.2,558.3 L444.0,558.2 L439.7,558.1 L435.4,558.0 L431.1,557.9 L426.9,557.8 L422.6,557.8 L418.3,557.7 L414.1,557.6 L409.8,557.5 L405.5,557.4 L401.2,557.3 L397.0,557.2 L392.7,557.2 L388.4,557.1 L384.1,557.0 L379.9,556.9 L375.6,556.8 L371.3,556.7 L367.0,556.6 L362.8,556.5 L358.5,556.4 L354.2,556.3 L350.0,556.2 L345.7,556.1 L341.4,556.0 L337.1,555.9 L332.9,555.8 L328.6,555.7 L324.3,555.6 L320.0,555.5 L315.8,555.4 L311.5,555.3 L307.2,555.2 L303.0,555.0 L298.7,554.9 L294.4,554.8 L290.1,554.7 L285.9,554.5 L281.6,554.4 L277.3,554.2 L273.0,554.1 L268.8,553.9 L264.5,553.7 L260.2,553.5 L256.0,553.3 L251.7,553.1 L247.4,552.9 L243.1,552.7 L238.9,552.4 L234.6,552.1 L230.3,551.9 L226.0,551.6 L221.8,551.2 L217.5,550.9 L213.2,550.5 L209.0,550.1 L204.7,549.6 L200.4,549.1 L196.1,548.6 L191.9,548.0 L187.6,547.4 L183.3,546.7 L179.0,545.9 L176.9,545.5 L175.8,545.3 L174.7,545.1 L173.6,544.8 L172.5,544.6 L171.4,544.3 L170.4,544.1 L169.3,543.8 L168.2,543.6 L167.1,543.3 L166.0,543.0 L164.9,542.7 L163.8,542.4 L162.7,542.1 L161.6,541.8 L160.5,541.5 L159.4,541.1 L158.3,540.8 L157.2,540.4 L156.1,540.1 L155.0,539.7 L153.9,539.3 L152.8,538.9 L151.8,538.5 L150.7,538.1 L149.6,537.7 L148.5,537.2 L147.4,536.8 L146.3,536.3 L145.2,535.8 L144.1,535.3 L143.0,534.8 L141.9,534.3 L140.8,533.8 L139.7,533.3 L138.6,532.7 L137.5,532.2 L136.4,531.6 L135.3,531.0 L134.7,530.4Z" fill="#1aff1a"/>
<path d="M134.7,-98.0 L135.3,-72.0 L136.4,-48.0 L137.5,-25.8 L138.6,-5.1 L139.7,14.1 L140.8,32.0 L141.9,48.7 L143.0,64.4 L144.1,79.1 L145.2,92.9 L146.3,105.9 L147.4,118.1 L148.5,129.7 L149.6,140.6 L150.7,151.0 L151.8,160.8 L152.8,170.1 L153.9,178.9 L155.0,187.3 L156.1,195.4 L157.2,203.0 L158.3,210.3 L159.4,217.3 L160.5,223.9 L161.6,230.3 L162.7,236.4 L163.8,242.3 L164.9,247.9 L166.0,253.3 L167.1,258.5 L168.2,263.5 L169.3,268.3 L170.4,273.0 L171.4,277.5 L172.5,281.8 L173.6,285.9 L174.7,289.9 L175.8,293.8 L176.9,297.6 L179.0,299.2 L183.3,317.2 L187.6,328.6 L191.9,338.7 L196.1,347.8 L200.4,356.1 L204.7,363.6 L209.0,370.4 L213.2,376.7 L217.5,382.5 L221.8,387.9 L226.0,392.9 L230.3,397.5 L234.6,401.8 L238.9,405.9 L243.1,409.6 L247.4,413.2 L251.7,416.6 L256.0,419.7 L260.2,422.7 L264.5,425.6 L268.8,428.3 L273.0,430.8 L277.3,433.2 L281.6,435.6 L285.9,437.8 L290.1,439.9 L294.4,441.9 L298.7,443.9 L303.0,445.7 L307.2,447.5 L311.5,449.2 L315.8,450.9 L320.0,452.5 L324.3,454.0 L328.6,455.5 L332.9,456.9 L337.1,458.3 L341.4,459.7 L345.7,460.9 L350.0,462.2 L354.2,463.4 L358.5,464.6 L362.8,465.7 L367.0,466.8 L371.3,467.9 L375.6,468.9 L379.9,470.0 L384.1,470.9 L388.4,471.9 L392.7,472.8 L397.0,473.7 L401.2,474.6 L405.5,475.5 L409.8,476.3 L414.1,477.2 L418.3,478.0 L422.6,478.7 L426.9,479.5 L431.1,480.2 L435.4,481.0 L439.7,481.7 L444.0,482.4 L448.2,483.1 L452.5,483.7 L456.8,484.4 L461.1,485.0 L465.3,485.7 L469.6,486.3 L473.9,486.9 L478.1,487.5 L482.4,488.0 L486.7,488.6 L491.0,489.2 L495.2,489.7 L499.5,490.3 L503.8,490.8 L508.1,491.3 L512.3,491.8 L516.6,492.3 L516.6,530.1 L512.3,529.9 L508.1,529.7 L503.8,529.5 L499.5,529.3 L495.2,529.1 L491.0,528.9 L486.7,528.7 L482.4,528.5 L478.1,528.3 L473.9,528.1 L469.6,527.8 L465.3,527.6 L461.1,527.4 L456.8,527.1 L452.5,526.9 L448.2,526.6 L444.0,526.4 L439.7,526.1 L435.4,525.8 L431.1,525.6 L426.9,525.3 L422.6,525.0 L418.3,524.7 L414.1,524.4 L409.8,524.1 L405.5,523.8 L401.2,523.5 L397.0,523.1 L392.7,522.8 L388.4,522.4 L384.1,522.1 L379.9,521.7 L375.6,521.3 L371.3,520.9 L367.0,520.6 L362.8,520.1 L358.5,519.7 L354.2,519.3 L350.0,518.9 L345.7,518.4 L341.4,517.9 L337.1,517.4 L332.9,516.9 L328.6,516.4 L324.3,515.9 L320.0,515.3 L315.8,514.8 L311.5,514.2 L307.2,513.6 L303.0,512.9 L298.7,512.3 L294.4,511.6 L290.1,510.9 L285.9,510.2 L281.6,509.4 L277.3,508.6 L273.0,507.8 L268.8,506.9 L264.5,506.0 L260.2,505.1 L256.0,504.1 L251.7,503.0 L247.4,501.9 L243.1,500.8 L238.9,499.6 L234.6,498.3 L230.3,497.0 L226.0,495.6 L221.8,494.1 L217.5,492.5 L213.2,490.8 L209.0,489.0 L204.7,487.1 L200.4,485.0 L196.1,482.8 L191.9,480.4 L187.6,477.9 L183.3,475.1 L179.0,472.0 L176.9,470.4 L175.8,469.6 L174.7,468.7 L173.6,467.8 L172.5,466.9 L171.4,465.9 L170.4,464.9 L169.3,463.9 L168.2,462.9 L167.1,461.9 L166.0,460.8 L164.9,459.7 L163.8,458.6 L162.7,457.4 L161.6,456.2 L160.5,454.9 L159.4,453.7 L158.3,452.3 L157.2,451.0 L156.1,449.6 L155.0,448.2 L153.9,446.7 L152.8,445.1 L151.8,443.5 L150.7,441.9 L149.6,440.2 L148.5,438.5 L147.4,436.6 L146.3,434.7 L145.2,432.8 L144.1,430.8 L143.0,428.6 L141.9,426.4 L140.8,424.2 L139.7,421.8 L138.6,419.3 L137.5,416.7 L136.4,414.0 L135.3,411.2 L134.7,408.2Z" fill="#ff1a1a"/>
</g>
<g clip-path="url(#cp11)">
<path d="M559.2,492.6 L559.8,494.1 L560.9,495.6 L562.0,497.1 L563.1,498.5 L564.2,499.9 L565.3,501.3 L566.4,502.7 L567.5,504.0 L568.6,505.3 L569.7,506.5 L570.8,507.8 L571.9,509.0 L573.0,510.1 L574.1,511.2 L575.2,512.3 L576.3,513.4 L577.3,514.4 L578.4,515.4 L579.5,516.3 L580.6,517.3 L581.7,518.2 L582.8,519.0 L583.9,519.9 L585.0,520.7 L586.1,521.5 L587.2,522.3 L588.3,523.1 L589.4,523.8 L590.5,524.5 L591.6,525.2 L592.7,525.9 L593.8,526.5 L594.9,527.2 L595.9,527.8 L597.0,528.4 L598.1,529.0 L599.2,529.5 L600.3,530.1 L601.4,530.6 L603.5,531.6 L607.8,533.4 L612.1,535.1 L616.4,536.6 L620.6,538.0 L624.9,539.3 L629.2,540.4 L633.5,541.4 L637.7,542.4 L642.0,543.3 L646.3,544.1 L650.5,544.9 L654.8,545.6 L659.1,546.2 L663.4,546.8 L667.6,547.4 L671.9,547.9 L676.2,548.4 L680.5,548.9 L684.7,549.3 L689.0,549.7 L693.3,550.1 L697.5,550.5 L701.8,550.9 L706.1,551.2 L710.4,551.5 L714.6,551.8 L718.9,552.1 L723.2,552.4 L727.5,552.7 L731.7,552.9 L736.0,553.2 L740.3,553.4 L744.5,553.6 L748.8,553.8 L753.1,554.0 L757.4,554.2 L761.6,554.4 L765.9,554.6 L770.2,554.8 L774.5,555.0 L778.7,555.2 L783.0,555.3 L787.3,555.5 L791.5,555.7 L795.8,555.8 L800.1,556.0 L804.4,556.1 L808.6,556.3 L812.9,556.4 L817.2,556.6 L821.5,556.7 L825.7,556.8 L830.0,557.0 L834.3,557.1 L838.6,557.2 L842.8,557.4 L847.1,557.5 L851.4,557.6 L855.6,557.7 L859.9,557.9 L864.2,558.0 L868.5,558.1 L872.7,558.2 L877.0,558.3 L881.3,558.4 L885.6,558.6 L889.8,558.7 L894.1,558.8 L898.4,558.9 L902.6,559.0 L906.9,559.1 L911.2,559.2 L915.5,559.3 L919.7,559.4 L924.0,559.5 L928.3,559.6 L932.6,559.7 L936.8,559.8 L941.1,560.0 L941.1,566.8 L936.8,566.8 L932.6,566.7 L928.3,566.7 L924.0,566.6 L919.7,566.6 L915.5,566.5 L911.2,566.5 L906.9,566.4 L902.6,566.4 L898.4,566.3 L894.1,566.3 L889.8,566.2 L885.6,566.2 L881.3,566.1 L877.0,566.1 L872.7,566.0 L868.5,566.0 L864.2,565.9 L859.9,565.9 L855.6,565.8 L851.4,565.8 L847.1,565.7 L842.8,565.7 L838.6,565.6 L834.3,565.6 L830.0,565.5 L825.7,565.4 L821.5,565.4 L817.2,565.3 L812.9,565.3 L808.6,565.2 L804.4,565.2 L800.1,565.1 L795.8,565.0 L791.5,565.0 L787.3,564.9 L783.0,564.9 L778.7,564.8 L774.5,564.7 L770.2,564.7 L765.9,564.6 L761.6,564.5 L757.4,564.5 L753.1,564.4 L748.8,564.3 L744.5,564.2 L740.3,564.2 L736.0,564.1 L731.7,564.0 L727.5,563.9 L723.2,563.8 L718.9,563.8 L714.6,563.7 L710.4,563.6 L706.1,563.5 L701.8,563.4 L697.5,563.3 L693.3,563.2 L689.0,563.1 L684.7,562.9 L680.5,562.8 L676.2,562.7 L671.9,562.5 L667.6,562.4 L663.4,562.2 L659.1,562.1 L654.8,561.9 L650.5,561.7 L646.3,561.5 L642.0,561.3 L637.7,561.1 L633.5,560.9 L629.2,560.6 L624.9,560.3 L620.6,560.0 L616.4,559.7 L612.1,559.4 L607.8,559.0 L603.5,558.6 L601.4,558.3 L600.3,558.2 L599.2,558.1 L598.1,558.0 L597.0,557.8 L595.9,557.7 L594.9,557.6 L593.8,557.4 L592.7,557.3 L591.6,557.2 L590.5,557.0 L589.4,556.9 L588.3,556.7 L587.2,556.5 L586.1,556.4 L585.0,556.2 L583.9,556.0 L582.8,555.8 L581.7,555.7 L580.6,555.5 L579.5,555.3 L578.4,555.1 L577.3,554.9 L576.3,554.6 L575.2,554.4 L574.1,554.2 L573.0,554.0 L571.9,553.7 L570.8,553.5 L569.7,553.2 L568.6,553.0 L567.5,552.7 L566.4,552.4 L565.3,552.2 L564.2,551.9 L563.1,551.6 L562.0,551.3 L560.9,551.0 L559.8,550.7 L559.2,550.3Z" fill="#1aff1a"/>
<path d="M559.2,146.0 L559.8,161.9 L560.9,176.7 L562.0,190.4 L563.1,203.3 L564.2,215.3 L565.3,226.5 L566.4,237.0 L567.5,246.9 L568.6,256.2 L569.7,265.0 L570.8,273.3 L571.9,281.1 L573.0,288.5 L574.1,295.5 L575.2,299.2 L576.3,299.2 L577.3,314.5 L578.4,320.3 L579.5,325.7 L580.6,330.9 L581.7,335.9 L582.8,340.7 L583.9,345.2 L585.0,349.6 L586.1,353.8 L587.2,357.8 L588.3,361.6 L589.4,365.3 L590.5,368.9 L591.6,372.3 L592.7,375.6 L593.8,378.7 L594.9,381.8 L595.9,384.8 L597.0,387.6 L598.1,390.4 L599.2,393.0 L600.3,395.6 L601.4,398.1 L603.5,402.7 L607.8,411.1 L612.1,418.7 L616.4,425.4 L620.6,431.5 L624.9,437.0 L629.2,442.0 L633.5,446.6 L637.7,450.8 L642.0,454.6 L646.3,458.2 L650.5,461.5 L654.8,464.6 L659.1,467.5 L663.4,470.2 L667.6,472.7 L671.9,475.1 L676.2,477.3 L680.5,479.4 L684.7,481.4 L689.0,483.3 L693.3,485.1 L697.5,486.8 L701.8,488.4 L706.1,489.9 L710.4,491.4 L714.6,492.8 L718.9,494.1 L723.2,495.4 L727.5,496.7 L731.7,497.8 L736.0,499.0 L740.3,500.1 L744.5,501.1 L748.8,502.1 L753.1,503.1 L757.4,504.1 L761.6,505.0 L765.9,505.9 L770.2,506.7 L774.5,507.5 L778.7,508.3 L783.0,509.1 L787.3,509.9 L791.5,510.6 L795.8,511.3 L800.1,512.0 L804.4,512.7 L808.6,513.3 L812.9,514.0 L817.2,514.6 L821.5,515.2 L825.7,515.8 L830.0,516.4 L834.3,516.9 L838.6,517.5 L842.8,518.0 L847.1,518.5 L851.4,519.1 L855.6,519.6 L859.9,520.0 L864.2,520.5 L868.5,521.0 L872.7,521.4 L877.0,521.9 L881.3,522.3 L885.6,522.8 L889.8,523.2 L894.1,523.6 L898.4,524.0 L902.6,524.4 L906.9,524.8 L911.2,525.2 L915.5,525.6 L919.7,525.9 L924.0,526.3 L928.3,526.7 L932.6,527.0 L936.8,527.4 L941.1,527.7 L941.1,550.0 L936.8,549.9 L932.6,549.7 L928.3,549.5 L924.0,549.4 L919.7,549.2 L915.5,549.0 L911.2,548.8 L906.9,548.7 L902.6,548.5 L898.4,548.3 L894.1,548.1 L889.8,547.9 L885.6,547.7 L881.3,547.5 L877.0,547.4 L872.7,547.2 L868.5,547.0 L864.2,546.8 L859.9,546.6 L855.6,546.4 L851.4,546.1 L847.1,545.9 L842.8,545.7 L838.6,545.5 L834.3,545.3 L830.0,545.1 L825.7,544.8 L821.5,544.6 L817.2,544.4 L812.9,544.1 L808.6,543.9 L804.4,543.6 L800.1,543.4 L795.8,543.1 L791.5,542.9 L787.3,542.6 L783.0,542.3 L778.7,542.0 L774.5,541.8 L770.2,541.5 L765.9,541.2 L761.6,540.9 L757.4,540.6 L753.1,540.2 L748.8,539.9 L744.5,539.6 L740.3,539.2 L736.0,538.9 L731.7,538.5 L727.5,538.1 L723.2,537.8 L718.9,537.4 L714.6,536.9 L710.4,536.5 L706.1,536.1 L701.8,535.6 L697.5,535.1 L693.3,534.6 L689.0,534.1 L684.7,533.6 L680.5,533.0 L676.2,532.4 L671.9,531.8 L667.6,531.2 L663.4,530.5 L659.1,529.8 L654.8,529.0 L650.5,528.2 L646.3,527.4 L642.0,526.5 L637.7,525.5 L633.5,524.5 L629.2,523.4 L624.9,522.2 L620.6,521.0 L616.4,519.6 L612.1,518.1 L607.8,516.4 L603.5,514.6 L601.4,513.7 L600.3,513.2 L599.2,512.7 L598.1,512.1 L597.0,511.6 L595.9,511.0 L594.9,510.4 L593.8,509.8 L592.7,509.2 L591.6,508.6 L590.5,507.9 L589.4,507.2 L588.3,506.5 L587.2,505.8 L586.1,505.1 L585.0,504.3 L583.9,503.6 L582.8,502.7 L581.7,501.9 L580.6,501.0 L579.5,500.2 L578.4,499.2 L577.3,498.3 L576.3,497.3 L575.2,496.3 L574.1,495.2 L573.0,494.1 L571.9,492.9 L570.8,491.7 L569.7,490.5 L568.6,489.2 L567.5,487.9 L566.4,486.5 L565.3,485.0 L564.2,483.5 L563.1,481.9 L562.0,480.2 L560.9,478.5 L559.8,476.7 L559.2,474.8Z" fill="#ff1a1a"/>
</g>
<g clip-path="url(#cp12)">
<path d="M983.9,409.5 L984.5,413.8 L985.6,417.8 L986.7,421.7 L987.8,425.4 L988.9,428.9 L990.0,432.3 L991.1,435.6 L992.2,438.6 L993.3,441.6 L994.4,444.4 L995.5,447.2 L996.6,449.8 L997.7,452.3 L998.8,454.7 L999.9,457.0 L1001.0,459.2 L1002.0,461.3 L1003.1,463.3 L1004.2,465.3 L1005.3,467.2 L1006.4,469.0 L1007.5,470.8 L1008.6,472.4 L1009.7,474.1 L1010.8,475.6 L1011.9,477.2 L1013.0,478.6 L1014.1,480.0 L1015.2,481.4 L1016.3,482.7 L1017.4,484.0 L1018.5,485.3 L1019.6,486.5 L1020.6,487.6 L1021.7,488.7 L1022.8,489.8 L1023.9,490.9 L1025.0,491.9 L1026.1,492.9 L1028.2,494.7 L1032.5,498.2 L1036.8,501.2 L1041.1,504.0 L1045.3,506.5 L1049.6,508.7 L1053.9,510.8 L1058.2,512.7 L1062.4,514.4 L1066.7,516.0 L1071.0,517.5 L1075.2,518.8 L1079.5,520.1 L1083.8,521.3 L1088.1,522.4 L1092.3,523.4 L1096.6,524.4 L1100.9,525.3 L1105.2,526.2 L1109.4,527.0 L1113.7,527.7 L1118.0,528.5 L1122.2,529.1 L1126.5,529.8 L1130.8,530.4 L1135.1,531.0 L1139.3,531.6 L1143.6,532.1 L1147.9,532.6 L1152.2,533.1 L1156.4,533.6 L1160.7,534.1 L1165.0,534.5 L1169.2,534.9 L1173.5,535.4 L1177.8,535.8 L1182.1,536.1 L1186.3,536.5 L1190.6,536.9 L1194.9,537.2 L1199.2,537.6 L1203.4,537.9 L1207.7,538.2 L1212.0,538.5 L1216.2,538.9 L1220.5,539.2 L1224.8,539.5 L1229.1,539.7 L1233.3,540.0 L1237.6,540.3 L1241.9,540.6 L1246.2,540.8 L1250.4,541.1 L1254.7,541.3 L1259.0,541.6 L1263.3,541.8 L1267.5,542.1 L1271.8,542.3 L1276.1,542.6 L1280.3,542.8 L1284.6,543.0 L1288.9,543.2 L1293.2,543.5 L1297.4,543.7 L1301.7,543.9 L1306.0,544.1 L1310.3,544.3 L1314.5,544.5 L1318.8,544.7 L1323.1,544.9 L1327.3,545.1 L1331.6,545.3 L1335.9,545.5 L1340.2,545.7 L1344.4,545.9 L1348.7,546.1 L1353.0,546.3 L1357.3,546.5 L1361.5,546.7 L1365.8,546.9 L1365.8,560.0 L1361.5,559.9 L1357.3,559.8 L1353.0,559.8 L1348.7,559.7 L1344.4,559.6 L1340.2,559.5 L1335.9,559.4 L1331.6,559.3 L1327.3,559.2 L1323.1,559.1 L1318.8,559.1 L1314.5,559.0 L1310.3,558.9 L1306.0,558.8 L1301.7,558.7 L1297.4,558.6 L1293.2,558.5 L1288.9,558.4 L1284.6,558.3 L1280.3,558.3 L1276.1,558.2 L1271.8,558.1 L1267.5,558.0 L1263.3,557.9 L1259.0,557.8 L1254.7,557.7 L1250.4,557.6 L1246.2,557.5 L1241.9,557.4 L1237.6,557.3 L1233.3,557.3 L1229.1,557.2 L1224.8,557.1 L1220.5,557.0 L1216.2,556.9 L1212.0,556.8 L1207.7,556.7 L1203.4,556.6 L1199.2,556.5 L1194.9,556.4 L1190.6,556.2 L1186.3,556.1 L1182.1,556.0 L1177.8,555.9 L1173.5,555.8 L1169.2,555.7 L1165.0,555.5 L1160.7,555.4 L1156.4,555.3 L1152.2,555.2 L1147.9,555.0 L1143.6,554.9 L1139.3,554.7 L1135.1,554.6 L1130.8,554.4 L1126.5,554.2 L1122.2,554.0 L1118.0,553.9 L1113.7,553.7 L1109.4,553.4 L1105.2,553.2 L1100.9,553.0 L1096.6,552.7 L1092.3,552.5 L1088.1,552.2 L1083.8,551.9 L1079.5,551.6 L1075.2,551.2 L1071.0,550.9 L1066.7,550.5 L1062.4,550.0 L1058.2,549.6 L1053.9,549.1 L1049.6,548.5 L1045.3,547.9 L1041.1,547.3 L1036.8,546.6 L1032.5,545.8 L1028.2,544.9 L1026.1,544.4 L1025.0,544.2 L1023.9,543.9 L1022.8,543.7 L1021.7,543.4 L1020.6,543.1 L1019.6,542.9 L1018.5,542.6 L1017.4,542.3 L1016.3,542.0 L1015.2,541.6 L1014.1,541.3 L1013.0,541.0 L1011.9,540.6 L1010.8,540.3 L1009.7,539.9 L1008.6,539.5 L1007.5,539.1 L1006.4,538.8 L1005.3,538.3 L1004.2,537.9 L1003.1,537.5 L1002.0,537.0 L1001.0,536.6 L999.9,536.1 L998.8,535.6 L997.7,535.1 L996.6,534.6 L995.5,534.1 L994.4,533.6 L993.3,533.0 L992.2,532.4 L991.1,531.9 L990.0,531.3 L988.9,530.7 L987.8,530.0 L986.7,529.4 L985.6,528.7 L984.5,528.1 L983.9,527.4Z" fill="#1aff1a"/>
<path d="M983.9,-143.5 L984.5,-116.1 L985.6,-90.7 L986.7,-67.2 L987.8,-45.4 L988.9,-25.0 L990.0,-6.1 L991.1,11.7 L992.2,28.3 L993.3,43.9 L994.4,58.6 L995.5,72.5 L996.6,85.5 L997.7,97.9 L998.8,109.6 L999.9,120.6 L1001.0,131.1 L1002.0,141.1 L1003.1,150.6 L1004.2,159.7 L1005.3,168.3 L1006.4,176.6 L1007.5,184.5 L1008.6,192.0 L1009.7,199.2 L1010.8,206.1 L1011.9,212.8 L1013.0,219.1 L1014.1,225.3 L1015.2,231.2 L1016.3,236.8 L1017.4,242.3 L1018.5,247.5 L1019.6,252.6 L1020.6,257.5 L1021.7,262.2 L1022.8,266.8 L1023.9,271.2 L1025.0,275.5 L1026.1,279.6 L1028.2,287.3 L1032.5,299.2 L1036.8,314.0 L1041.1,325.3 L1045.3,335.5 L1049.6,344.8 L1053.9,353.2 L1058.2,361.0 L1062.4,368.1 L1066.7,374.7 L1071.0,380.8 L1075.2,386.5 L1079.5,391.8 L1083.8,396.7 L1088.1,401.3 L1092.3,405.6 L1096.6,409.7 L1100.9,413.6 L1105.2,417.2 L1109.4,420.6 L1113.7,423.9 L1118.0,427.0 L1122.2,429.9 L1126.5,432.7 L1130.8,435.3 L1135.1,437.9 L1139.3,440.3 L1143.6,442.6 L1147.9,444.8 L1152.2,446.9 L1156.4,448.9 L1160.7,450.9 L1165.0,452.8 L1169.2,454.6 L1173.5,456.3 L1177.8,457.9 L1182.1,459.5 L1186.3,461.1 L1190.6,462.6 L1194.9,464.0 L1199.2,465.4 L1203.4,466.7 L1207.7,468.0 L1212.0,469.2 L1216.2,470.5 L1220.5,471.6 L1224.8,472.8 L1229.1,473.9 L1233.3,474.9 L1237.6,475.9 L1241.9,476.9 L1246.2,477.9 L1250.4,478.9 L1254.7,479.8 L1259.0,480.6 L1263.3,481.5 L1267.5,482.3 L1271.8,483.2 L1276.1,484.0 L1280.3,484.7 L1284.6,485.5 L1288.9,486.2 L1293.2,486.9 L1297.4,487.6 L1301.7,488.3 L1306.0,488.9 L1310.3,489.6 L1314.5,490.2 L1318.8,490.8 L1323.1,491.4 L1327.3,492.0 L1331.6,492.5 L1335.9,493.1 L1340.2,493.6 L1344.4,494.2 L1348.7,494.7 L1353.0,495.2 L1357.3,495.7 L1361.5,496.1 L1365.8,496.6 L1365.8,535.4 L1361.5,535.2 L1357.3,535.1 L1353.0,534.9 L1348.7,534.7 L1344.4,534.5 L1340.2,534.3 L1335.9,534.1 L1331.6,533.8 L1327.3,533.6 L1323.1,533.4 L1318.8,533.2 L1314.5,532.9 L1310.3,532.7 L1306.0,532.5 L1301.7,532.2 L1297.4,531.9 L1293.2,531.7 L1288.9,531.4 L1284.6,531.1 L1280.3,530.8 L1276.1,530.5 L1271.8,530.2 L1267.5,529.9 L1263.3,529.6 L1259.0,529.3 L1254.7,528.9 L1250.4,528.6 L1246.2,528.3 L1241.9,527.9 L1237.6,527.5 L1233.3,527.1 L1229.1,526.7 L1224.8,526.3 L1220.5,525.9 L1216.2,525.5 L1212.0,525.0 L1207.7,524.6 L1203.4,524.1 L1199.2,523.6 L1194.9,523.1 L1190.6,522.6 L1186.3,522.1 L1182.1,521.5 L1177.8,521.0 L1173.5,520.4 L1169.2,519.8 L1165.0,519.2 L1160.7,518.5 L1156.4,517.8 L1152.2,517.2 L1147.9,516.4 L1143.6,515.7 L1139.3,514.9 L1135.1,514.1 L1130.8,513.3 L1126.5,512.4 L1122.2,511.5 L1118.0,510.6 L1113.7,509.6 L1109.4,508.6 L1105.2,507.5 L1100.9,506.4 L1096.6,505.2 L1092.3,504.0 L1088.1,502.7 L1083.8,501.3 L1079.5,499.9 L1075.2,498.4 L1071.0,496.8 L1066.7,495.2 L1062.4,493.4 L1058.2,491.5 L1053.9,489.5 L1049.6,487.3 L1045.3,485.0 L1041.1,482.6 L1036.8,479.9 L1032.5,477.0 L1028.2,473.9 L1026.1,472.2 L1025.0,471.3 L1023.9,470.4 L1022.8,469.5 L1021.7,468.5 L1020.6,467.6 L1019.6,466.6 L1018.5,465.5 L1017.4,464.5 L1016.3,463.4 L1015.2,462.3 L1014.1,461.2 L1013.0,460.0 L1011.9,458.8 L1010.8,457.5 L1009.7,456.2 L1008.6,454.9 L1007.5,453.5 L1006.4,452.1 L1005.3,450.7 L1004.2,449.2 L1003.1,447.6 L1002.0,446.0 L1001.0,444.3 L999.9,442.6 L998.8,440.8 L997.7,438.9 L996.6,437.0 L995.5,435.0 L994.4,432.9 L993.3,430.6 L992.2,428.3 L991.1,425.9 L990.0,423.4 L988.9,420.8 L987.8,418.0 L986.7,415.1 L985.6,412.0 L984.5,408.7 L983.9,405.3Z" fill="#ff1a1a"/>
</g>
<g clip-path="url(#cp13)">
<path d="M1409.0,472.8 L1409.6,474.7 L1410.7,476.6 L1411.8,478.5 L1412.9,480.3 L1414.0,482.1 L1415.1,483.8 L1416.2,485.5 L1417.3,487.1 L1418.3,488.7 L1419.4,490.2 L1420.5,491.7 L1421.6,493.1 L1422.7,494.5 L1423.8,495.8 L1424.9,497.1 L1426.0,498.4 L1427.1,499.6 L1428.2,500.8 L1429.3,501.9 L1430.4,503.1 L1431.5,504.1 L1432.6,505.2 L1433.7,506.2 L1434.8,507.2 L1435.9,508.1 L1436.9,509.0 L1438.0,509.9 L1439.1,510.8 L1440.2,511.7 L1441.3,512.5 L1442.4,513.3 L1443.5,514.0 L1444.6,514.8 L1445.7,515.5 L1446.8,516.2 L1447.9,516.9 L1449.0,517.6 L1450.1,518.2 L1451.2,518.9 L1453.3,520.0 L1457.6,522.2 L1461.8,524.2 L1466.1,526.0 L1470.4,527.6 L1474.7,529.1 L1478.9,530.5 L1483.2,531.7 L1487.5,532.8 L1491.7,533.9 L1496.0,534.9 L1500.3,535.8 L1504.6,536.6 L1508.8,537.4 L1513.1,538.1 L1517.4,538.8 L1521.7,539.4 L1525.9,540.0 L1530.2,540.6 L1534.5,541.1 L1538.8,541.6 L1543.0,542.1 L1547.3,542.5 L1551.6,542.9 L1555.8,543.3 L1560.1,543.7 L1564.4,544.1 L1568.7,544.4 L1572.9,544.7 L1577.2,545.0 L1581.5,545.3 L1585.8,545.6 L1590.0,545.9 L1594.3,546.2 L1598.6,546.4 L1602.8,546.7 L1607.1,546.9 L1611.4,547.2 L1615.7,547.4 L1619.9,547.6 L1624.2,547.8 L1628.5,548.0 L1632.8,548.2 L1637.0,548.4 L1641.3,548.6 L1645.6,548.8 L1649.8,549.0 L1654.1,549.1 L1658.4,549.3 L1662.7,549.5 L1666.9,549.6 L1671.2,549.8 L1675.5,550.0 L1679.8,550.1 L1684.0,550.3 L1688.3,550.4 L1692.6,550.6 L1696.8,550.7 L1701.1,550.9 L1705.4,551.0 L1709.7,551.1 L1713.9,551.3 L1718.2,551.4 L1722.5,551.6 L1726.8,551.7 L1731.0,551.8 L1735.3,551.9 L1739.6,552.1 L1743.8,552.2 L1748.1,552.3 L1752.4,552.5 L1756.7,552.6 L1760.9,552.7 L1765.2,552.8 L1769.5,552.9 L1773.8,553.1 L1778.0,553.2 L1782.3,553.3 L1786.6,553.4 L1790.8,553.5 L1790.8,563.0 L1786.6,562.9 L1782.3,562.9 L1778.0,562.8 L1773.8,562.8 L1769.5,562.7 L1765.2,562.7 L1760.9,562.6 L1756.7,562.6 L1752.4,562.5 L1748.1,562.5 L1743.8,562.4 L1739.6,562.4 L1735.3,562.3 L1731.0,562.3 L1726.8,562.2 L1722.5,562.2 L1718.2,562.1 L1713.9,562.1 L1709.7,562.0 L1705.4,562.0 L1701.1,561.9 L1696.8,561.8 L1692.6,561.8 L1688.3,561.7 L1684.0,561.7 L1679.8,561.6 L1675.5,561.6 L1671.2,561.5 L1666.9,561.4 L1662.7,561.4 L1658.4,561.3 L1654.1,561.3 L1649.8,561.2 L1645.6,561.1 L1641.3,561.1 L1637.0,561.0 L1632.8,560.9 L1628.5,560.9 L1624.2,560.8 L1619.9,560.7 L1615.7,560.7 L1611.4,560.6 L1607.1,560.5 L1602.8,560.4 L1598.6,560.3 L1594.3,560.3 L1590.0,560.2 L1585.8,560.1 L1581.5,560.0 L1577.2,559.9 L1572.9,559.8 L1568.7,559.7 L1564.4,559.6 L1560.1,559.5 L1555.8,559.3 L1551.6,559.2 L1547.3,559.1 L1543.0,558.9 L1538.8,558.8 L1534.5,558.7 L1530.2,558.5 L1525.9,558.3 L1521.7,558.1 L1517.4,558.0 L1513.1,557.8 L1508.8,557.5 L1504.6,557.3 L1500.3,557.1 L1496.0,556.8 L1491.7,556.5 L1487.5,556.2 L1483.2,555.9 L1478.9,555.6 L1474.7,555.2 L1470.4,554.8 L1466.1,554.3 L1461.8,553.8 L1457.6,553.3 L1453.3,552.7 L1451.2,552.4 L1450.1,552.2 L1449.0,552.0 L1447.9,551.8 L1446.8,551.6 L1445.7,551.5 L1444.6,551.3 L1443.5,551.1 L1442.4,550.9 L1441.3,550.6 L1440.2,550.4 L1439.1,550.2 L1438.0,550.0 L1436.9,549.7 L1435.9,549.5 L1434.8,549.2 L1433.7,549.0 L1432.6,548.7 L1431.5,548.4 L1430.4,548.1 L1429.3,547.8 L1428.2,547.5 L1427.1,547.2 L1426.0,546.9 L1424.9,546.6 L1423.8,546.2 L1422.7,545.9 L1421.6,545.5 L1420.5,545.1 L1419.4,544.7 L1418.3,544.3 L1417.3,543.9 L1416.2,543.5 L1415.1,543.0 L1414.0,542.6 L1412.9,542.1 L1411.8,541.6 L1410.7,541.1 L1409.6,540.6 L1409.0,540.0Z" fill="#1aff1a"/>
<path d="M1409.0,96.4 L1409.6,111.5 L1410.7,125.7 L1411.8,139.0 L1412.9,151.5 L1414.0,163.3 L1415.1,174.4 L1416.2,185.0 L1417.3,194.9 L1418.3,204.4 L1419.4,213.3 L1420.5,221.8 L1421.6,229.9 L1422.7,237.6 L1423.8,245.0 L1424.9,252.0 L1426.0,258.7 L1427.1,265.1 L1428.2,271.2 L1429.3,277.1 L1430.4,282.7 L1431.5,288.1 L1432.6,293.2 L1433.7,298.2 L1434.8,299.2 L1435.9,299.2 L1436.9,299.2 L1438.0,316.3 L1439.1,320.4 L1440.2,324.3 L1441.3,328.2 L1442.4,331.8 L1443.5,335.4 L1444.6,338.9 L1445.7,342.2 L1446.8,345.4 L1447.9,348.5 L1449.0,351.6 L1450.1,354.5 L1451.2,357.3 L1453.3,362.6 L1457.6,372.4 L1461.8,381.1 L1466.1,389.0 L1470.4,396.1 L1474.7,402.6 L1478.9,408.5 L1483.2,413.9 L1487.5,418.9 L1491.7,423.6 L1496.0,427.8 L1500.3,431.8 L1504.6,435.5 L1508.8,438.9 L1513.1,442.2 L1517.4,445.2 L1521.7,448.1 L1525.9,450.7 L1530.2,453.3 L1534.5,455.7 L1538.8,457.9 L1543.0,460.1 L1547.3,462.1 L1551.6,464.0 L1555.8,465.9 L1560.1,467.6 L1564.4,469.3 L1568.7,470.9 L1572.9,472.5 L1577.2,473.9 L1581.5,475.3 L1585.8,476.7 L1590.0,478.0 L1594.3,479.2 L1598.6,480.4 L1602.8,481.6 L1607.1,482.7 L1611.4,483.8 L1615.7,484.8 L1619.9,485.8 L1624.2,486.8 L1628.5,487.7 L1632.8,488.6 L1637.0,489.5 L1641.3,490.4 L1645.6,491.2 L1649.8,492.0 L1654.1,492.8 L1658.4,493.5 L1662.7,494.3 L1666.9,495.0 L1671.2,495.7 L1675.5,496.3 L1679.8,497.0 L1684.0,497.6 L1688.3,498.3 L1692.6,498.9 L1696.8,499.5 L1701.1,500.1 L1705.4,500.6 L1709.7,501.2 L1713.9,501.7 L1718.2,502.2 L1722.5,502.8 L1726.8,503.3 L1731.0,503.8 L1735.3,504.2 L1739.6,504.7 L1743.8,505.2 L1748.1,505.6 L1752.4,506.1 L1756.7,506.5 L1760.9,506.9 L1765.2,507.4 L1769.5,507.8 L1773.8,508.2 L1778.0,508.6 L1782.3,509.0 L1786.6,509.3 L1790.8,509.7 L1790.8,539.4 L1786.6,539.3 L1782.3,539.1 L1778.0,538.9 L1773.8,538.7 L1769.5,538.5 L1765.2,538.3 L1760.9,538.1 L1756.7,537.9 L1752.4,537.7 L1748.1,537.5 L1743.8,537.3 L1739.6,537.1 L1735.3,536.8 L1731.0,536.6 L1726.8,536.4 L1722.5,536.1 L1718.2,535.9 L1713.9,535.7 L1709.7,535.4 L1705.4,535.1 L1701.1,534.9 L1696.8,534.6 L1692.6,534.4 L1688.3,534.1 L1684.0,533.8 L1679.8,533.5 L1675.5,533.2 L1671.2,532.9 L1666.9,532.6 L1662.7,532.3 L1658.4,531.9 L1654.1,531.6 L1649.8,531.3 L1645.6,530.9 L1641.3,530.5 L1637.0,530.2 L1632.8,529.8 L1628.5,529.4 L1624.2,529.0 L1619.9,528.5 L1615.7,528.1 L1611.4,527.7 L1607.1,527.2 L1602.8,526.7 L1598.6,526.2 L1594.3,525.7 L1590.0,525.2 L1585.8,524.7 L1581.5,524.1 L1577.2,523.5 L1572.9,522.9 L1568.7,522.3 L1564.4,521.6 L1560.1,520.9 L1555.8,520.2 L1551.6,519.5 L1547.3,518.7 L1543.0,517.9 L1538.8,517.1 L1534.5,516.2 L1530.2,515.3 L1525.9,514.3 L1521.7,513.3 L1517.4,512.2 L1513.1,511.1 L1508.8,509.9 L1504.6,508.7 L1500.3,507.3 L1496.0,505.9 L1491.7,504.5 L1487.5,502.9 L1483.2,501.3 L1478.9,499.5 L1474.7,497.6 L1470.4,495.6 L1466.1,493.5 L1461.8,491.2 L1457.6,488.7 L1453.3,486.1 L1451.2,484.7 L1450.1,484.0 L1449.0,483.3 L1447.9,482.5 L1446.8,481.7 L1445.7,481.0 L1444.6,480.2 L1443.5,479.3 L1442.4,478.5 L1441.3,477.7 L1440.2,476.8 L1439.1,475.9 L1438.0,475.0 L1436.9,474.1 L1435.9,473.2 L1434.8,472.2 L1433.7,471.3 L1432.6,470.3 L1431.5,469.3 L1430.4,468.3 L1429.3,467.3 L1428.2,466.2 L1427.1,465.2 L1426.0,464.1 L1424.9,463.0 L1423.8,461.9 L1422.7,460.7 L1421.6,459.6 L1420.5,458.4 L1419.4,457.2 L1418.3,456.0 L1417.3,454.8 L1416.2,453.6 L1415.1,452.4 L1414.0,451.1 L1412.9,449.9 L1411.8,448.7 L1410.7,447.4 L1409.6,446.2 L1409.0,445.0Z" fill="#ff1a1a"/>
</g>
<g clip-path="url(#cp00)">
<path d="M410.4,272.8H516.6M410.4,266.1v13.4M516.6,266.1v13.4" stroke="#000" stroke-width="1.7" stroke-opacity="0.85" fill="none"/>
<circle cx="473.7" cy="272.8" r="2.3" fill="#000"/>
<path d="M473.7,312.4V241.2M467.0,241.2h13.4M467.0,312.4h13.4" stroke="#000" stroke-width="1.5" stroke-opacity="0.9" fill="none"/>
<path d="M356.8,284.8V222.7M350.1,222.7h13.4M350.1,284.8h13.4" stroke="#000" stroke-width="1.6" fill="none"/>
<circle cx="356.8" cy="252.0" r="2.2" fill="#000"/>
<path d="M304.3,252.0H410.4M304.3,245.4v13.2M410.4,245.4v13.2" stroke="#000" stroke-width="1.1" stroke-opacity="0.75" fill="none"/>
<path d="M283.4,253.4V206.3M276.7,206.3h13.4M276.7,253.4h13.4" stroke="#000" stroke-width="1.2" fill="none"/>
<path d="M261.3,229.3H306.4M261.3,222.7v13.2M306.4,222.7v13.2" stroke="#000" stroke-width="1.2" fill="none"/>
<circle cx="283.4" cy="229.3" r="2.2" fill="#000"/>
<path d="M272.5,312.4V158.5M265.5,158.5h14.0M265.5,312.4h14.0" stroke="#000" stroke-width="1.8" fill="none"/>
<circle cx="272.5" cy="210.8" r="2.2" fill="#000"/>
<path d="M276.7,217.3V206.3M270.7,206.3h12.0M270.7,217.3h12.0" stroke="#000" stroke-width="1.1" fill="none"/>
<path d="M269.3,212.0H283.4M269.3,206.5v11.0M283.4,206.5v11.0" stroke="#000" stroke-width="1.1" fill="none"/>
<circle cx="276.7" cy="212.0" r="2.0" fill="#000"/>
<path d="M283.6,183.5H307.0M283.6,176.5v14.0M307.0,176.5v14.0" stroke="#000" stroke-width="1.2" fill="none"/>
<circle cx="295.3" cy="183.5" r="2.2" fill="#000"/>
<path d="M295.3,312.4V118.0M288.6,118.0h13.4M288.6,312.4h13.4" stroke="#000" stroke-width="1.5" stroke-opacity="0.62" fill="none"/>
<path d="M253.1,312.4V218.6M246.6,218.6h13.0M246.6,312.4h13.0" stroke="#000" stroke-width="1.3" fill="none"/>
<path d="M245.2,261.7H261.5M245.2,254.7v14.0M261.5,254.7v14.0" stroke="#000" stroke-width="1.3" fill="none"/>
<circle cx="253.1" cy="261.7" r="2.3" fill="#000"/>
<path d="M253.3,218.6V180.9M247.0,180.9h12.6M247.0,218.6h12.6" stroke="#000" stroke-width="1.2" fill="none"/>
<path d="M245.4,198.4H261.3M245.4,186.4v24.0M261.3,186.4v24.0" stroke="#000" stroke-width="1.2" fill="none"/>
<circle cx="253.3" cy="198.4" r="2.2" fill="#000"/>
<path d="M244.1,234.4V102.7M237.2,102.7h13.8M237.2,234.4h13.8" stroke="#000" stroke-width="1.8" stroke-opacity="0.78" fill="none"/>
<circle cx="244.1" cy="186.8" r="2.2" fill="#000"/>
<path d="M229.1,164.2H245.1M229.1,157.4v13.6M245.1,157.4v13.6" stroke="#000" stroke-width="1.2" stroke-opacity="0.75" fill="none"/>
<circle cx="237.2" cy="164.2" r="2.2" fill="#000"/>
<path d="M237.2,205.0V127.1M230.5,127.1h13.4M230.5,205.0h13.4" stroke="#000" stroke-width="1.2" stroke-opacity="0.6" fill="none"/>
<path d="M207.4,198.4V144.5M200.7,144.5h13.4M200.7,198.4h13.4" stroke="#000" stroke-width="1.2" stroke-opacity="0.55" fill="none"/>
<path d="M185.9,171.6H228.9M185.9,164.6v14.0M228.9,164.6v14.0" stroke="#000" stroke-width="1.2" stroke-opacity="0.55" fill="none"/>
<circle cx="207.4" cy="171.6" r="2.0" fill="#000"/>
<path d="M235.8,234.4H249.6M235.8,234.4v0.0M249.6,234.4v0.0" stroke="#000" stroke-width="1.0" fill="none"/>
<circle cx="242.7" cy="234.4" r="2.2" fill="#000"/>
<path d="M193.6,253.5V166.0M186.8,166.0h13.6M186.8,253.5h13.6" stroke="#000" stroke-width="1.2" fill="none"/>
<path d="M187.0,223.2H200.8M187.0,218.2v10.0M200.8,218.2v10.0" stroke="#000" stroke-width="1.2" fill="none"/>
<circle cx="193.6" cy="223.2" r="2.2" fill="#000"/>
<path d="M207.0,247.3V161.2M200.0,161.2h14.0M200.0,247.3h14.0" stroke="#000" stroke-width="1.2" fill="none"/>
<circle cx="207.0" cy="203.3" r="2.2" fill="#000"/>
<circle cx="222.4" cy="213.8" r="3.0" fill="#000"/>
<path d="M222.7,236.1V212.9M217.2,212.9h11.0M217.2,236.1h11.0" stroke="#000" stroke-width="1.2" fill="none"/>
<path d="M216.4,224.7H229.6M216.4,220.7v8.0M229.6,220.7v8.0" stroke="#000" stroke-width="1.2" fill="none"/>
<circle cx="222.7" cy="224.7" r="2.2" fill="#000"/>
<circle cx="235.0" cy="200.6" r="2.2" fill="#000"/>
<circle cx="236.8" cy="210.3" r="2.2" fill="#000"/>
<circle cx="231.1" cy="227.4" r="2.0" fill="#000"/>
<circle cx="221.5" cy="190.1" r="2.0" fill="#000"/>
<path d="M187.0,226.9V198.4M187.0,198.4h0.0M187.0,226.9h0.0" stroke="#000" stroke-width="1.0" stroke-opacity="0.6" fill="none"/>
<circle cx="187.0" cy="212.5" r="2.2" fill="#000"/>
<circle cx="191.6" cy="206.9" r="2.2" fill="#000"/>
<path d="M167.6,213.8V186.6M161.6,186.6h12.0M161.6,213.8h12.0" stroke="#000" stroke-width="1.2" fill="none"/>
<path d="M158.2,200.3H171.9M158.2,200.3v0.0M171.9,200.3v0.0" stroke="#000" stroke-width="1.2" fill="none"/>
<circle cx="167.6" cy="200.3" r="2.3" fill="#000"/>
<circle cx="163.9" cy="204.0" r="2.4" fill="#000"/>
<circle cx="152.8" cy="207.5" r="2.4" fill="#000"/>
<circle cx="133.8" cy="189.7" r="2.3" fill="#000"/>
<circle cx="157.9" cy="88.2" r="2.4" fill="#000"/>
<circle cx="174.8" cy="142.5" r="2.3" fill="#000"/>
<circle cx="168.9" cy="149.2" r="2.3" fill="#000"/>
<path d="M129.5,85.3V66.3M122.3,66.3h14.4M122.3,85.3h14.4" stroke="#000" stroke-width="1.35" fill="none"/>
<path d="M129.5,82.9V68.7" stroke="#000" stroke-width="2.6" stroke-opacity="1" fill="none"/>
<circle cx="129.5" cy="75.7" r="2.3" fill="#000"/>
<path d="M130.4,111.2V95.4M125.8,95.4h9.2M125.8,111.2h9.2" stroke="#000" stroke-width="1.3" fill="none"/>
<path d="M130.4,109.0V97.6" stroke="#000" stroke-width="2.8" stroke-opacity="1" fill="none"/>
<circle cx="130.4" cy="103.3" r="2.0" fill="#000"/>
<path d="M139.0,117.6V88.2M132.0,88.2h14.0M132.0,117.6h14.0" stroke="#000" stroke-width="1.7" fill="none"/>
<path d="M139.0,114.7V91.0" stroke="#000" stroke-width="3.2" stroke-opacity="1" fill="none"/>
<circle cx="139.0" cy="102.9" r="2.0" fill="#000"/>
<path d="M133.8,132.2V105.1M128.3,105.1h11.0M128.3,132.2h11.0" stroke="#000" stroke-width="1.3" fill="none"/>
<path d="M133.8,129.6V107.7" stroke="#000" stroke-width="3.4" stroke-opacity="1" fill="none"/>
<circle cx="133.8" cy="118.7" r="2.0" fill="#000"/>
<path d="M136.1,122.6V103.3M129.6,103.3h13.0M129.6,122.6h13.0" stroke="#000" stroke-width="1.3" fill="none"/>
<path d="M136.1,120.8V105.1" stroke="#000" stroke-width="3.0" stroke-opacity="1" fill="none"/>
<circle cx="136.1" cy="113.0" r="2.0" fill="#000"/>
<path d="M131.8,123.9V106.4M125.8,106.4h12.0M125.8,123.9h12.0" stroke="#000" stroke-width="1.3" fill="none"/>
<path d="M131.8,121.7V108.6" stroke="#000" stroke-width="2.6" stroke-opacity="1" fill="none"/>
<circle cx="131.8" cy="115.1" r="2.0" fill="#000"/>
<path d="M131.3,131.8V117.8M125.8,117.8h11.0M125.8,131.8h11.0" stroke="#000" stroke-width="1.3" fill="none"/>
<path d="M131.3,130.1V119.5" stroke="#000" stroke-width="2.6" stroke-opacity="1" fill="none"/>
<circle cx="131.3" cy="124.8" r="2.0" fill="#000"/>
<path d="M143.6,142.8V113.8M136.8,113.8h13.6M136.8,142.8h13.6" stroke="#000" stroke-width="1.3" fill="none"/>
<path d="M143.6,140.1V116.5" stroke="#000" stroke-width="3.0" stroke-opacity="1" fill="none"/>
<circle cx="143.6" cy="128.3" r="2.0" fill="#000"/>
<path d="M140.8,131.4V109.5M134.8,109.5h12.0M134.8,131.4h12.0" stroke="#000" stroke-width="1.3" fill="none"/>
<path d="M140.8,129.2V111.6" stroke="#000" stroke-width="2.8" stroke-opacity="1" fill="none"/>
<circle cx="140.8" cy="120.4" r="2.0" fill="#000"/>
<path d="M135.0,134.0V118.2M128.0,118.2h14.0M128.0,134.0h14.0" stroke="#000" stroke-width="1.3" fill="none"/>
<path d="M135.0,132.2V120.0" stroke="#000" stroke-width="3.0" stroke-opacity="1" fill="none"/>
<circle cx="135.0" cy="126.1" r="2.0" fill="#000"/>
<path d="M137.6,134.4V111.6M132.6,111.6h10.0M132.6,134.4h10.0" stroke="#000" stroke-width="1.3" fill="none"/>
<path d="M137.6,131.8V114.3" stroke="#000" stroke-width="2.6" stroke-opacity="1" fill="none"/>
<circle cx="137.6" cy="123.0" r="2.0" fill="#000"/>
<path d="M145.6,165.6V148.0M140.1,148.0h11.0M140.1,165.6h11.0" stroke="#000" stroke-width="1.3" fill="none"/>
<path d="M145.6,162.5V151.1" stroke="#000" stroke-width="2.8" stroke-opacity="1" fill="none"/>
<circle cx="145.6" cy="156.8" r="1.8" fill="#000"/>
<path d="M147.0,173.0V155.5M142.5,155.5h9.0M142.5,173.0h9.0" stroke="#000" stroke-width="1.3" fill="none"/>
<path d="M147.0,169.9V158.5" stroke="#000" stroke-width="2.8" stroke-opacity="1" fill="none"/>
<circle cx="147.0" cy="164.2" r="1.8" fill="#000"/>
<path d="M148.5,180.9V163.4M143.0,163.4h11.0M143.0,180.9h11.0" stroke="#000" stroke-width="1.3" fill="none"/>
<path d="M148.5,177.8V166.4" stroke="#000" stroke-width="2.8" stroke-opacity="1" fill="none"/>
<circle cx="148.5" cy="172.1" r="1.8" fill="#000"/>
<path d="M150.0,188.8V171.3M145.5,171.3h9.0M145.5,188.8h9.0" stroke="#000" stroke-width="1.3" fill="none"/>
<path d="M150.0,185.7V174.3" stroke="#000" stroke-width="2.8" stroke-opacity="1" fill="none"/>
<circle cx="150.0" cy="180.0" r="1.8" fill="#000"/>
<path d="M151.4,195.8V178.3M145.9,178.3h11.0M145.9,195.8h11.0" stroke="#000" stroke-width="1.3" fill="none"/>
<path d="M151.4,192.7V181.3" stroke="#000" stroke-width="2.8" stroke-opacity="1" fill="none"/>
<circle cx="151.4" cy="187.0" r="1.8" fill="#000"/>
<path d="M153.8,186.2V156.4M147.8,156.4h12.0M147.8,186.2h12.0" stroke="#000" stroke-width="1.3" fill="none"/>
<path d="M153.8,181.8V160.7" stroke="#000" stroke-width="3.4" stroke-opacity="1" fill="none"/>
<circle cx="153.8" cy="171.3" r="1.8" fill="#000"/>
<path d="M156.4,187.5V169.9M151.4,169.9h10.0M151.4,187.5h10.0" stroke="#000" stroke-width="1.3" fill="none"/>
<path d="M156.4,184.8V172.6" stroke="#000" stroke-width="2.4" stroke-opacity="1" fill="none"/>
<circle cx="156.4" cy="178.7" r="1.8" fill="#000"/>
<path d="M159.6,173.9V145.8M152.8,145.8h13.6M152.8,173.9h13.6" stroke="#000" stroke-width="1.3" fill="none"/>
<path d="M159.6,168.6V151.1" stroke="#000" stroke-width="3.2" stroke-opacity="1" fill="none"/>
<circle cx="159.6" cy="159.9" r="1.8" fill="#000"/>
<path d="M161.5,177.4V159.9M156.5,159.9h10.0M156.5,177.4h10.0" stroke="#000" stroke-width="1.3" fill="none"/>
<path d="M161.5,174.8V162.5" stroke="#000" stroke-width="3.0" stroke-opacity="1" fill="none"/>
<circle cx="161.5" cy="168.6" r="1.8" fill="#000"/>
<path d="M162.9,185.3V167.7M156.9,167.7h12.0M156.9,185.3h12.0" stroke="#000" stroke-width="1.3" fill="none"/>
<path d="M162.9,182.7V170.4" stroke="#000" stroke-width="3.0" stroke-opacity="1" fill="none"/>
<circle cx="162.9" cy="176.5" r="1.8" fill="#000"/>
<path d="M164.2,193.2V175.6M159.2,175.6h10.0M159.2,193.2h10.0" stroke="#000" stroke-width="1.3" fill="none"/>
<path d="M164.2,190.5V178.3" stroke="#000" stroke-width="3.0" stroke-opacity="1" fill="none"/>
<circle cx="164.2" cy="184.4" r="1.8" fill="#000"/>
<path d="M165.5,201.1V183.5M159.5,183.5h12.0M159.5,201.1h12.0" stroke="#000" stroke-width="1.3" fill="none"/>
<path d="M165.5,198.4V186.2" stroke="#000" stroke-width="3.0" stroke-opacity="1" fill="none"/>
<circle cx="165.5" cy="192.3" r="1.8" fill="#000"/>
<path d="M170.3,209.4V155.9M162.8,155.9h15.0M162.8,209.4h15.0" stroke="#000" stroke-width="1.0" stroke-opacity="0.8" fill="none"/>
<path d="M163.1,180.0H176.9M163.1,180.0v0.0M176.9,180.0v0.0" stroke="#000" stroke-width="1.0" stroke-opacity="0.8" fill="none"/>
<path d="M173.3,211.6V158.1M167.8,158.1h11.0M167.8,211.6h11.0" stroke="#000" stroke-width="1.0" stroke-opacity="0.8" fill="none"/>
<path d="M166.3,183.1H181.2M166.3,183.1v0.0M181.2,183.1v0.0" stroke="#000" stroke-width="1.0" stroke-opacity="0.8" fill="none"/>
<circle cx="171.6" cy="172.6" r="2.6" fill="#000"/>
<circle cx="173.9" cy="175.2" r="2.4" fill="#000"/>
<path d="M179.6,180.9V138.1M172.6,138.1h14.0M172.6,180.9h14.0" stroke="#000" stroke-width="1.2" fill="none"/>
<path d="M179.6,178.3V149.3" stroke="#000" stroke-width="4.2" stroke-opacity="1" fill="none"/>
<circle cx="179.6" cy="150.7" r="2.4" fill="#000"/>
<path d="M185.8,183.1V133.1M178.9,133.1h13.8M178.9,183.1h13.8" stroke="#000" stroke-width="1.0" stroke-opacity="0.8" fill="none"/>
<path d="M185.8,172.1V143.6" stroke="#000" stroke-width="3.2" stroke-opacity="0.55" fill="none"/>
<circle cx="185.8" cy="153.3" r="2.2" fill="#000"/>
<path d="M182.8,190.5V171.3M177.3,171.3h11.0M177.3,190.5h11.0" stroke="#000" stroke-width="1.3" fill="none"/>
<path d="M182.8,187.5V174.3" stroke="#000" stroke-width="2.6" stroke-opacity="1" fill="none"/>
<circle cx="182.8" cy="180.9" r="1.8" fill="#000"/>
<path d="M184.1,197.6V178.3M178.6,178.3h11.0M178.6,197.6h11.0" stroke="#000" stroke-width="1.3" fill="none"/>
<path d="M184.1,194.5V181.3" stroke="#000" stroke-width="2.6" stroke-opacity="1" fill="none"/>
<circle cx="184.1" cy="187.9" r="1.8" fill="#000"/>
<path d="M185.4,203.7V184.4M179.9,184.4h11.0M179.9,203.7h11.0" stroke="#000" stroke-width="1.3" fill="none"/>
<path d="M185.4,200.6V187.5" stroke="#000" stroke-width="2.6" stroke-opacity="1" fill="none"/>
<circle cx="185.4" cy="194.0" r="1.8" fill="#000"/>
<path d="M176.6,218.2V180.9M176.6,180.9h0.0M176.6,218.2h0.0" stroke="#000" stroke-width="1.2" stroke-opacity="0.7" fill="none"/>
<circle cx="176.6" cy="194.9" r="2.3" fill="#000"/>
<path d="M175.9,197.8H193.9M175.9,197.8v0.0M193.9,197.8v0.0" stroke="#000" stroke-width="1.1" fill="none"/>
<circle cx="186.6" cy="197.8" r="2.3" fill="#000"/>
<path d="M193.6,211.6V166.0M186.8,166.0h13.6M186.8,211.6h13.6" stroke="#000" stroke-width="1.1" fill="none"/>
<path d="M186.5,186.4H200.8M186.5,181.4v10.0M200.8,181.4v10.0" stroke="#000" stroke-width="1.1" fill="none"/>
<circle cx="193.6" cy="186.4" r="2.3" fill="#000"/>
<path d="M224.7,201.1H243.8M224.7,196.1v10.0M243.8,196.1v10.0" stroke="#000" stroke-width="1.0" stroke-opacity="0.8" fill="none"/>
<circle cx="234.0" cy="201.1" r="2.2" fill="#000"/>
<path d="M201.3,203.3H214.1M201.3,193.3v20.0M214.1,193.3v20.0" stroke="#000" stroke-width="1.0" fill="none"/>
<path d="M214.1,222.5V165.6M214.1,165.6h0.0M214.1,222.5h0.0" stroke="#000" stroke-width="1.3" fill="none"/>
<path d="M201.2,216.0V167.7M201.2,167.7h0.0M201.2,216.0h0.0" stroke="#000" stroke-width="1.0" stroke-opacity="0.8" fill="none"/>
<path d="M216.2,204.1H230.0M216.2,204.1v0.0M230.0,204.1v0.0" stroke="#000" stroke-width="2.0" fill="none"/>
<path d="M222.4,236.1V178.7M216.4,178.7h12.0M216.4,236.1h12.0" stroke="#000" stroke-width="1.3" fill="none"/>
<path d="M222.4,222.5V205.0" stroke="#000" stroke-width="2.6" stroke-opacity="1" fill="none"/>
<path d="M231.1,240.7V180.9M224.6,180.9h13.0M224.6,240.7h13.0" stroke="#000" stroke-width="1.2" fill="none"/>
<path d="M231.1,233.5V220.3" stroke="#000" stroke-width="2.6" stroke-opacity="0.7" fill="none"/>
<path d="M213.0,190.1H232.1M213.0,184.1v12.0M232.1,184.1v12.0" stroke="#000" stroke-width="1.0" fill="none"/>
<path d="M198.2,220.3H214.6M198.2,216.3v8.0M214.6,216.3v8.0" stroke="#000" stroke-width="1.0" stroke-opacity="0.8" fill="none"/>
<path d="M201.3,180.9H230.0M201.3,175.9v10.0M230.0,175.9v10.0" stroke="#000" stroke-width="1.0" stroke-opacity="0.6" fill="none"/>
<path d="M186.5,166.0H200.3M186.5,166.0v0.0M200.3,166.0v0.0" stroke="#000" stroke-width="1.0" stroke-opacity="0.8" fill="none"/>
<path d="M200.2,224.7V166.0M200.2,166.0h0.0M200.2,224.7h0.0" stroke="#000" stroke-width="1.0" stroke-opacity="0.8" fill="none"/>
<path d="M128.6,118.7V101.1M122.1,101.1h13.0M122.1,118.7h13.0" stroke="#000" stroke-width="1.3" fill="none"/>
<path d="M128.6,109.9V109.9" stroke="#000" stroke-width="0" stroke-opacity="1" fill="none"/>
<path d="M129.7,131.4V112.1M122.7,112.1h14.0M122.7,131.4h14.0" stroke="#000" stroke-width="1.3" fill="none"/>
<path d="M129.7,121.7V121.7" stroke="#000" stroke-width="0" stroke-opacity="1" fill="none"/>
<path d="M141.9,120.8V98.9M134.4,98.9h15.0M134.4,120.8h15.0" stroke="#000" stroke-width="1.3" fill="none"/>
<path d="M141.9,117.8V102.0" stroke="#000" stroke-width="2.4" stroke-opacity="1" fill="none"/>
<circle cx="141.9" cy="109.9" r="1.8" fill="#000"/>
<path d="M136.6,143.6V126.1M128.1,126.1h17.0M128.1,143.6h17.0" stroke="#000" stroke-width="1.3" fill="none"/>
<path d="M136.6,141.0V128.7" stroke="#000" stroke-width="2.6" stroke-opacity="1" fill="none"/>
<circle cx="136.6" cy="134.9" r="1.8" fill="#000"/>
<path d="M143.6,148.0V121.7M137.1,121.7h13.0M137.1,148.0h13.0" stroke="#000" stroke-width="1.3" fill="none"/>
<path d="M143.6,144.5V125.2" stroke="#000" stroke-width="3.0" stroke-opacity="1" fill="none"/>
<circle cx="143.6" cy="134.9" r="1.8" fill="#000"/>
<path d="M132.9,118.7V101.1M127.9,101.1h10.0M127.9,118.7h10.0" stroke="#000" stroke-width="1.3" fill="none"/>
<path d="M132.9,116.9V102.9" stroke="#000" stroke-width="3.0" stroke-opacity="1" fill="none"/>
<circle cx="132.9" cy="109.9" r="1.8" fill="#000"/>
<path d="M230.0,224.7V183.1M230.0,183.1h0.0M230.0,224.7h0.0" stroke="#000" stroke-width="1.2" stroke-opacity="0.85" fill="none"/>
<path d="M235.0,216.0V185.3M230.0,185.3h10.0M230.0,216.0h10.0" stroke="#000" stroke-width="1.1" stroke-opacity="0.8" fill="none"/>
<path d="M236.8,222.5V198.4M231.8,198.4h10.0M231.8,222.5h10.0" stroke="#000" stroke-width="1.1" stroke-opacity="0.8" fill="none"/>
<path d="M230.0,210.3H243.8M230.0,206.3v8.0M243.8,206.3v8.0" stroke="#000" stroke-width="1.1" stroke-opacity="0.8" fill="none"/>
<path d="M191.6,220.3V193.2M187.6,193.2h8.0M187.6,220.3h8.0" stroke="#000" stroke-width="1.1" stroke-opacity="0.75" fill="none"/>
<path d="M185.4,206.9H198.2M185.4,203.9v6.0M198.2,203.9v6.0" stroke="#000" stroke-width="1.1" stroke-opacity="0.75" fill="none"/>
<path d="M217.3,216.0V178.7M212.3,178.7h10.0M212.3,216.0h10.0" stroke="#000" stroke-width="1.1" stroke-opacity="0.7" fill="none"/>
<path d="M226.8,226.9V191.9M221.8,191.9h10.0M221.8,226.9h10.0" stroke="#000" stroke-width="1.1" stroke-opacity="0.7" fill="none"/>
<path d="M171.6,185.3H186.5M171.6,181.3v8.0M186.5,181.3v8.0" stroke="#000" stroke-width="1.0" stroke-opacity="0.7" fill="none"/>
<path d="M158.9,167.7H173.7M158.9,163.7v8.0M173.7,163.7v8.0" stroke="#000" stroke-width="1.0" stroke-opacity="0.7" fill="none"/>
<path d="M149.3,191.9H162.1M149.3,188.9v6.0M162.1,188.9v6.0" stroke="#000" stroke-width="1.0" stroke-opacity="0.7" fill="none"/>
</g>
<g clip-path="url(#cp01)">
<path d="M835.0,272.8H941.1M835.0,266.1v13.4M941.1,266.1v13.4" stroke="#000" stroke-width="1.7" stroke-opacity="0.85" fill="none"/>
<circle cx="898.2" cy="272.8" r="2.3" fill="#000"/>
<path d="M898.2,312.4V241.2M891.5,241.2h13.4M891.5,312.4h13.4" stroke="#000" stroke-width="1.5" stroke-opacity="0.9" fill="none"/>
<path d="M781.3,284.8V222.7M774.6,222.7h13.4M774.6,284.8h13.4" stroke="#000" stroke-width="1.6" fill="none"/>
<circle cx="781.3" cy="252.0" r="2.2" fill="#000"/>
<path d="M728.8,252.0H835.0M728.8,245.4v13.2M835.0,245.4v13.2" stroke="#000" stroke-width="1.1" stroke-opacity="0.75" fill="none"/>
<path d="M707.9,253.4V206.3M701.2,206.3h13.4M701.2,253.4h13.4" stroke="#000" stroke-width="1.2" fill="none"/>
<path d="M685.8,229.3H730.9M685.8,222.7v13.2M730.9,222.7v13.2" stroke="#000" stroke-width="1.2" fill="none"/>
<circle cx="707.9" cy="229.3" r="2.2" fill="#000"/>
<path d="M697.0,312.4V158.5M690.0,158.5h14.0M690.0,312.4h14.0" stroke="#000" stroke-width="1.8" fill="none"/>
<circle cx="697.0" cy="210.8" r="2.2" fill="#000"/>
<path d="M701.2,217.3V206.3M695.2,206.3h12.0M695.2,217.3h12.0" stroke="#000" stroke-width="1.1" fill="none"/>
<path d="M693.8,212.0H707.9M693.8,206.5v11.0M707.9,206.5v11.0" stroke="#000" stroke-width="1.1" fill="none"/>
<circle cx="701.2" cy="212.0" r="2.0" fill="#000"/>
<path d="M708.1,183.5H731.5M708.1,176.5v14.0M731.5,176.5v14.0" stroke="#000" stroke-width="1.2" fill="none"/>
<circle cx="719.8" cy="183.5" r="2.2" fill="#000"/>
<path d="M719.8,312.4V118.0M713.1,118.0h13.4M713.1,312.4h13.4" stroke="#000" stroke-width="1.5" stroke-opacity="0.62" fill="none"/>
<path d="M677.6,312.4V218.6M671.1,218.6h13.0M671.1,312.4h13.0" stroke="#000" stroke-width="1.3" fill="none"/>
<path d="M669.7,261.7H686.0M669.7,254.7v14.0M686.0,254.7v14.0" stroke="#000" stroke-width="1.3" fill="none"/>
<circle cx="677.6" cy="261.7" r="2.3" fill="#000"/>
<path d="M677.8,218.6V180.9M671.5,180.9h12.6M671.5,218.6h12.6" stroke="#000" stroke-width="1.2" fill="none"/>
<path d="M669.9,198.4H685.8M669.9,186.4v24.0M685.8,186.4v24.0" stroke="#000" stroke-width="1.2" fill="none"/>
<circle cx="677.8" cy="198.4" r="2.2" fill="#000"/>
<path d="M668.6,234.4V102.7M661.7,102.7h13.8M661.7,234.4h13.8" stroke="#000" stroke-width="1.8" stroke-opacity="0.78" fill="none"/>
<circle cx="668.6" cy="186.8" r="2.2" fill="#000"/>
<path d="M653.6,164.2H669.6M653.6,157.4v13.6M669.6,157.4v13.6" stroke="#000" stroke-width="1.2" stroke-opacity="0.75" fill="none"/>
<circle cx="661.7" cy="164.2" r="2.2" fill="#000"/>
<path d="M661.7,205.0V127.1M655.0,127.1h13.4M655.0,205.0h13.4" stroke="#000" stroke-width="1.2" stroke-opacity="0.6" fill="none"/>
<path d="M631.9,198.4V144.5M625.2,144.5h13.4M625.2,198.4h13.4" stroke="#000" stroke-width="1.2" stroke-opacity="0.55" fill="none"/>
<path d="M610.4,171.6H653.4M610.4,164.6v14.0M653.4,164.6v14.0" stroke="#000" stroke-width="1.2" stroke-opacity="0.55" fill="none"/>
<circle cx="631.9" cy="171.6" r="2.0" fill="#000"/>
<path d="M660.3,234.4H674.1M660.3,234.4v0.0M674.1,234.4v0.0" stroke="#000" stroke-width="1.0" fill="none"/>
<circle cx="667.2" cy="234.4" r="2.2" fill="#000"/>
<path d="M618.1,253.5V166.0M611.3,166.0h13.6M611.3,253.5h13.6" stroke="#000" stroke-width="1.2" fill="none"/>
<path d="M611.5,223.2H625.3M611.5,218.2v10.0M625.3,218.2v10.0" stroke="#000" stroke-width="1.2" fill="none"/>
<circle cx="618.1" cy="223.2" r="2.2" fill="#000"/>
<path d="M631.5,247.3V161.2M624.5,161.2h14.0M624.5,247.3h14.0" stroke="#000" stroke-width="1.2" fill="none"/>
<circle cx="631.5" cy="203.3" r="2.2" fill="#000"/>
<circle cx="646.9" cy="213.8" r="3.0" fill="#000"/>
<path d="M647.2,236.1V212.9M641.7,212.9h11.0M641.7,236.1h11.0" stroke="#000" stroke-width="1.2" fill="none"/>
<path d="M640.9,224.7H654.1M640.9,220.7v8.0M654.1,220.7v8.0" stroke="#000" stroke-width="1.2" fill="none"/>
<circle cx="647.2" cy="224.7" r="2.2" fill="#000"/>
<circle cx="659.5" cy="200.6" r="2.2" fill="#000"/>
<circle cx="661.3" cy="210.3" r="2.2" fill="#000"/>
<circle cx="655.6" cy="227.4" r="2.0" fill="#000"/>
<circle cx="646.0" cy="190.1" r="2.0" fill="#000"/>
<path d="M611.5,226.9V198.4M611.5,198.4h0.0M611.5,226.9h0.0" stroke="#000" stroke-width="1.0" stroke-opacity="0.6" fill="none"/>
<circle cx="611.5" cy="212.5" r="2.2" fill="#000"/>
<circle cx="616.1" cy="206.9" r="2.2" fill="#000"/>
<path d="M592.1,213.8V186.6M586.1,186.6h12.0M586.1,213.8h12.0" stroke="#000" stroke-width="1.2" fill="none"/>
<path d="M582.7,200.3H596.4M582.7,200.3v0.0M596.4,200.3v0.0" stroke="#000" stroke-width="1.2" fill="none"/>
<circle cx="592.1" cy="200.3" r="2.3" fill="#000"/>
<circle cx="588.4" cy="204.0" r="2.4" fill="#000"/>
<circle cx="577.3" cy="207.5" r="2.4" fill="#000"/>
<circle cx="558.3" cy="189.7" r="2.3" fill="#000"/>
<circle cx="582.4" cy="88.2" r="2.4" fill="#000"/>
<circle cx="599.3" cy="142.5" r="2.3" fill="#000"/>
<circle cx="593.4" cy="149.2" r="2.3" fill="#000"/>
<path d="M554.0,85.3V66.3M546.8,66.3h14.4M546.8,85.3h14.4" stroke="#000" stroke-width="1.35" fill="none"/>
<path d="M554.0,82.9V68.7" stroke="#000" stroke-width="2.6" stroke-opacity="1" fill="none"/>
<circle cx="554.0" cy="75.7" r="2.3" fill="#000"/>
<path d="M554.9,111.2V95.4M550.3,95.4h9.2M550.3,111.2h9.2" stroke="#000" stroke-width="1.3" fill="none"/>
<path d="M554.9,109.0V97.6" stroke="#000" stroke-width="2.8" stroke-opacity="1" fill="none"/>
<circle cx="554.9" cy="103.3" r="2.0" fill="#000"/>
<path d="M563.5,117.6V88.2M556.5,88.2h14.0M556.5,117.6h14.0" stroke="#000" stroke-width="1.7" fill="none"/>
<path d="M563.5,114.7V91.0" stroke="#000" stroke-width="3.2" stroke-opacity="1" fill="none"/>
<circle cx="563.5" cy="102.9" r="2.0" fill="#000"/>
<path d="M558.3,132.2V105.1M552.8,105.1h11.0M552.8,132.2h11.0" stroke="#000" stroke-width="1.3" fill="none"/>
<path d="M558.3,129.6V107.7" stroke="#000" stroke-width="3.4" stroke-opacity="1" fill="none"/>
<circle cx="558.3" cy="118.7" r="2.0" fill="#000"/>
<path d="M560.6,122.6V103.3M554.1,103.3h13.0M554.1,122.6h13.0" stroke="#000" stroke-width="1.3" fill="none"/>
<path d="M560.6,120.8V105.1" stroke="#000" stroke-width="3.0" stroke-opacity="1" fill="none"/>
<circle cx="560.6" cy="113.0" r="2.0" fill="#000"/>
<path d="M556.3,123.9V106.4M550.3,106.4h12.0M550.3,123.9h12.0" stroke="#000" stroke-width="1.3" fill="none"/>
<path d="M556.3,121.7V108.6" stroke="#000" stroke-width="2.6" stroke-opacity="1" fill="none"/>
<circle cx="556.3" cy="115.1" r="2.0" fill="#000"/>
<path d="M555.8,131.8V117.8M550.3,117.8h11.0M550.3,131.8h11.0" stroke="#000" stroke-width="1.3" fill="none"/>
<path d="M555.8,130.1V119.5" stroke="#000" stroke-width="2.6" stroke-opacity="1" fill="none"/>
<circle cx="555.8" cy="124.8" r="2.0" fill="#000"/>
<path d="M568.1,142.8V113.8M561.3,113.8h13.6M561.3,142.8h13.6" stroke="#000" stroke-width="1.3" fill="none"/>
<path d="M568.1,140.1V116.5" stroke="#000" stroke-width="3.0" stroke-opacity="1" fill="none"/>
<circle cx="568.1" cy="128.3" r="2.0" fill="#000"/>
<path d="M565.3,131.4V109.5M559.3,109.5h12.0M559.3,131.4h12.0" stroke="#000" stroke-width="1.3" fill="none"/>
<path d="M565.3,129.2V111.6" stroke="#000" stroke-width="2.8" stroke-opacity="1" fill="none"/>
<circle cx="565.3" cy="120.4" r="2.0" fill="#000"/>
<path d="M559.5,134.0V118.2M552.5,118.2h14.0M552.5,134.0h14.0" stroke="#000" stroke-width="1.3" fill="none"/>
<path d="M559.5,132.2V120.0" stroke="#000" stroke-width="3.0" stroke-opacity="1" fill="none"/>
<circle cx="559.5" cy="126.1" r="2.0" fill="#000"/>
<path d="M562.1,134.4V111.6M557.1,111.6h10.0M557.1,134.4h10.0" stroke="#000" stroke-width="1.3" fill="none"/>
<path d="M562.1,131.8V114.3" stroke="#000" stroke-width="2.6" stroke-opacity="1" fill="none"/>
<circle cx="562.1" cy="123.0" r="2.0" fill="#000"/>
<path d="M570.1,165.6V148.0M564.6,148.0h11.0M564.6,165.6h11.0" stroke="#000" stroke-width="1.3" fill="none"/>
<path d="M570.1,162.5V151.1" stroke="#000" stroke-width="2.8" stroke-opacity="1" fill="none"/>
<circle cx="570.1" cy="156.8" r="1.8" fill="#000"/>
<path d="M571.5,173.0V155.5M567.0,155.5h9.0M567.0,173.0h9.0" stroke="#000" stroke-width="1.3" fill="none"/>
<path d="M571.5,169.9V158.5" stroke="#000" stroke-width="2.8" stroke-opacity="1" fill="none"/>
<circle cx="571.5" cy="164.2" r="1.8" fill="#000"/>
<path d="M573.0,180.9V163.4M567.5,163.4h11.0M567.5,180.9h11.0" stroke="#000" stroke-width="1.3" fill="none"/>
<path d="M573.0,177.8V166.4" stroke="#000" stroke-width="2.8" stroke-opacity="1" fill="none"/>
<circle cx="573.0" cy="172.1" r="1.8" fill="#000"/>
<path d="M574.5,188.8V171.3M570.0,171.3h9.0M570.0,188.8h9.0" stroke="#000" stroke-width="1.3" fill="none"/>
<path d="M574.5,185.7V174.3" stroke="#000" stroke-width="2.8" stroke-opacity="1" fill="none"/>
<circle cx="574.5" cy="180.0" r="1.8" fill="#000"/>
<path d="M575.9,195.8V178.3M570.4,178.3h11.0M570.4,195.8h11.0" stroke="#000" stroke-width="1.3" fill="none"/>
<path d="M575.9,192.7V181.3" stroke="#000" stroke-width="2.8" stroke-opacity="1" fill="none"/>
<circle cx="575.9" cy="187.0" r="1.8" fill="#000"/>
<path d="M578.3,186.2V156.4M572.3,156.4h12.0M572.3,186.2h12.0" stroke="#000" stroke-width="1.3" fill="none"/>
<path d="M578.3,181.8V160.7" stroke="#000" stroke-width="3.4" stroke-opacity="1" fill="none"/>
<circle cx="578.3" cy="171.3" r="1.8" fill="#000"/>
<path d="M580.9,187.5V169.9M575.9,169.9h10.0M575.9,187.5h10.0" stroke="#000" stroke-width="1.3" fill="none"/>
<path d="M580.9,184.8V172.6" stroke="#000" stroke-width="2.4" stroke-opacity="1" fill="none"/>
<circle cx="580.9" cy="178.7" r="1.8" fill="#000"/>
<path d="M584.1,173.9V145.8M577.3,145.8h13.6M577.3,173.9h13.6" stroke="#000" stroke-width="1.3" fill="none"/>
<path d="M584.1,168.6V151.1" stroke="#000" stroke-width="3.2" stroke-opacity="1" fill="none"/>
<circle cx="584.1" cy="159.9" r="1.8" fill="#000"/>
<path d="M586.0,177.4V159.9M581.0,159.9h10.0M581.0,177.4h10.0" stroke="#000" stroke-width="1.3" fill="none"/>
<path d="M586.0,174.8V162.5" stroke="#000" stroke-width="3.0" stroke-opacity="1" fill="none"/>
<circle cx="586.0" cy="168.6" r="1.8" fill="#000"/>
<path d="M587.4,185.3V167.7M581.4,167.7h12.0M581.4,185.3h12.0" stroke="#000" stroke-width="1.3" fill="none"/>
<path d="M587.4,182.7V170.4" stroke="#000" stroke-width="3.0" stroke-opacity="1" fill="none"/>
<circle cx="587.4" cy="176.5" r="1.8" fill="#000"/>
<path d="M588.7,193.2V175.6M583.7,175.6h10.0M583.7,193.2h10.0" stroke="#000" stroke-width="1.3" fill="none"/>
<path d="M588.7,190.5V178.3" stroke="#000" stroke-width="3.0" stroke-opacity="1" fill="none"/>
<circle cx="588.7" cy="184.4" r="1.8" fill="#000"/>
<path d="M590.0,201.1V183.5M584.0,183.5h12.0M584.0,201.1h12.0" stroke="#000" stroke-width="1.3" fill="none"/>
<path d="M590.0,198.4V186.2" stroke="#000" stroke-width="3.0" stroke-opacity="1" fill="none"/>
<circle cx="590.0" cy="192.3" r="1.8" fill="#000"/>
<path d="M594.8,209.4V155.9M587.3,155.9h15.0M587.3,209.4h15.0" stroke="#000" stroke-width="1.0" stroke-opacity="0.8" fill="none"/>
<path d="M587.6,180.0H601.4M587.6,180.0v0.0M601.4,180.0v0.0" stroke="#000" stroke-width="1.0" stroke-opacity="0.8" fill="none"/>
<path d="M597.8,211.6V158.1M592.3,158.1h11.0M592.3,211.6h11.0" stroke="#000" stroke-width="1.0" stroke-opacity="0.8" fill="none"/>
<path d="M590.8,183.1H605.7M590.8,183.1v0.0M605.7,183.1v0.0" stroke="#000" stroke-width="1.0" stroke-opacity="0.8" fill="none"/>
<circle cx="596.1" cy="172.6" r="2.6" fill="#000"/>
<circle cx="598.4" cy="175.2" r="2.4" fill="#000"/>
<path d="M604.1,180.9V138.1M597.1,138.1h14.0M597.1,180.9h14.0" stroke="#000" stroke-width="1.2" fill="none"/>
<path d="M604.1,178.3V149.3" stroke="#000" stroke-width="4.2" stroke-opacity="1" fill="none"/>
<circle cx="604.1" cy="150.7" r="2.4" fill="#000"/>
<path d="M610.3,183.1V133.1M603.4,133.1h13.8M603.4,183.1h13.8" stroke="#000" stroke-width="1.0" stroke-opacity="0.8" fill="none"/>
<path d="M610.3,172.1V143.6" stroke="#000" stroke-width="3.2" stroke-opacity="0.55" fill="none"/>
<circle cx="610.3" cy="153.3" r="2.2" fill="#000"/>
<path d="M607.3,190.5V171.3M601.8,171.3h11.0M601.8,190.5h11.0" stroke="#000" stroke-width="1.3" fill="none"/>
<path d="M607.3,187.5V174.3" stroke="#000" stroke-width="2.6" stroke-opacity="1" fill="none"/>
<circle cx="607.3" cy="180.9" r="1.8" fill="#000"/>
<path d="M608.6,197.6V178.3M603.1,178.3h11.0M603.1,197.6h11.0" stroke="#000" stroke-width="1.3" fill="none"/>
<path d="M608.6,194.5V181.3" stroke="#000" stroke-width="2.6" stroke-opacity="1" fill="none"/>
<circle cx="608.6" cy="187.9" r="1.8" fill="#000"/>
<path d="M609.9,203.7V184.4M604.4,184.4h11.0M604.4,203.7h11.0" stroke="#000" stroke-width="1.3" fill="none"/>
<path d="M609.9,200.6V187.5" stroke="#000" stroke-width="2.6" stroke-opacity="1" fill="none"/>
<circle cx="609.9" cy="194.0" r="1.8" fill="#000"/>
<path d="M601.1,218.2V180.9M601.1,180.9h0.0M601.1,218.2h0.0" stroke="#000" stroke-width="1.2" stroke-opacity="0.7" fill="none"/>
<circle cx="601.1" cy="194.9" r="2.3" fill="#000"/>
<path d="M600.4,197.8H618.4M600.4,197.8v0.0M618.4,197.8v0.0" stroke="#000" stroke-width="1.1" fill="none"/>
<circle cx="611.1" cy="197.8" r="2.3" fill="#000"/>
<path d="M618.1,211.6V166.0M611.3,166.0h13.6M611.3,211.6h13.6" stroke="#000" stroke-width="1.1" fill="none"/>
<path d="M611.0,186.4H625.3M611.0,181.4v10.0M625.3,181.4v10.0" stroke="#000" stroke-width="1.1" fill="none"/>
<circle cx="618.1" cy="186.4" r="2.3" fill="#000"/>
<path d="M649.2,201.1H668.3M649.2,196.1v10.0M668.3,196.1v10.0" stroke="#000" stroke-width="1.0" stroke-opacity="0.8" fill="none"/>
<circle cx="658.5" cy="201.1" r="2.2" fill="#000"/>
<path d="M625.8,203.3H638.6M625.8,193.3v20.0M638.6,193.3v20.0" stroke="#000" stroke-width="1.0" fill="none"/>
<path d="M638.6,222.5V165.6M638.6,165.6h0.0M638.6,222.5h0.0" stroke="#000" stroke-width="1.3" fill="none"/>
<path d="M625.7,216.0V167.7M625.7,167.7h0.0M625.7,216.0h0.0" stroke="#000" stroke-width="1.0" stroke-opacity="0.8" fill="none"/>
<path d="M640.7,204.1H654.5M640.7,204.1v0.0M654.5,204.1v0.0" stroke="#000" stroke-width="2.0" fill="none"/>
<path d="M646.9,236.1V178.7M640.9,178.7h12.0M640.9,236.1h12.0" stroke="#000" stroke-width="1.3" fill="none"/>
<path d="M646.9,222.5V205.0" stroke="#000" stroke-width="2.6" stroke-opacity="1" fill="none"/>
<path d="M655.6,240.7V180.9M649.1,180.9h13.0M649.1,240.7h13.0" stroke="#000" stroke-width="1.2" fill="none"/>
<path d="M655.6,233.5V220.3" stroke="#000" stroke-width="2.6" stroke-opacity="0.7" fill="none"/>
<path d="M637.5,190.1H656.6M637.5,184.1v12.0M656.6,184.1v12.0" stroke="#000" stroke-width="1.0" fill="none"/>
<path d="M622.6,220.3H639.1M622.6,216.3v8.0M639.1,216.3v8.0" stroke="#000" stroke-width="1.0" stroke-opacity="0.8" fill="none"/>
<path d="M625.8,180.9H654.5M625.8,175.9v10.0M654.5,175.9v10.0" stroke="#000" stroke-width="1.0" stroke-opacity="0.6" fill="none"/>
<path d="M611.0,166.0H624.8M611.0,166.0v0.0M624.8,166.0v0.0" stroke="#000" stroke-width="1.0" stroke-opacity="0.8" fill="none"/>
<path d="M624.7,224.7V166.0M624.7,166.0h0.0M624.7,224.7h0.0" stroke="#000" stroke-width="1.0" stroke-opacity="0.8" fill="none"/>
<path d="M553.1,118.7V101.1M546.6,101.1h13.0M546.6,118.7h13.0" stroke="#000" stroke-width="1.3" fill="none"/>
<path d="M553.1,109.9V109.9" stroke="#000" stroke-width="0" stroke-opacity="1" fill="none"/>
<path d="M554.2,131.4V112.1M547.2,112.1h14.0M547.2,131.4h14.0" stroke="#000" stroke-width="1.3" fill="none"/>
<path d="M554.2,121.7V121.7" stroke="#000" stroke-width="0" stroke-opacity="1" fill="none"/>
<path d="M566.4,120.8V98.9M558.9,98.9h15.0M558.9,120.8h15.0" stroke="#000" stroke-width="1.3" fill="none"/>
<path d="M566.4,117.8V102.0" stroke="#000" stroke-width="2.4" stroke-opacity="1" fill="none"/>
<circle cx="566.4" cy="109.9" r="1.8" fill="#000"/>
<path d="M561.1,143.6V126.1M552.6,126.1h17.0M552.6,143.6h17.0" stroke="#000" stroke-width="1.3" fill="none"/>
<path d="M561.1,141.0V128.7" stroke="#000" stroke-width="2.6" stroke-opacity="1" fill="none"/>
<circle cx="561.1" cy="134.9" r="1.8" fill="#000"/>
<path d="M568.1,148.0V121.7M561.6,121.7h13.0M561.6,148.0h13.0" stroke="#000" stroke-width="1.3" fill="none"/>
<path d="M568.1,144.5V125.2" stroke="#000" stroke-width="3.0" stroke-opacity="1" fill="none"/>
<circle cx="568.1" cy="134.9" r="1.8" fill="#000"/>
<path d="M557.4,118.7V101.1M552.4,101.1h10.0M552.4,118.7h10.0" stroke="#000" stroke-width="1.3" fill="none"/>
<path d="M557.4,116.9V102.9" stroke="#000" stroke-width="3.0" stroke-opacity="1" fill="none"/>
<circle cx="557.4" cy="109.9" r="1.8" fill="#000"/>
<path d="M654.5,224.7V183.1M654.5,183.1h0.0M654.5,224.7h0.0" stroke="#000" stroke-width="1.2" stroke-opacity="0.85" fill="none"/>
<path d="M659.5,216.0V185.3M654.5,185.3h10.0M654.5,216.0h10.0" stroke="#000" stroke-width="1.1" stroke-opacity="0.8" fill="none"/>
<path d="M661.3,222.5V198.4M656.3,198.4h10.0M656.3,222.5h10.0" stroke="#000" stroke-width="1.1" stroke-opacity="0.8" fill="none"/>
<path d="M654.5,210.3H668.3M654.5,206.3v8.0M668.3,206.3v8.0" stroke="#000" stroke-width="1.1" stroke-opacity="0.8" fill="none"/>
<path d="M616.1,220.3V193.2M612.1,193.2h8.0M612.1,220.3h8.0" stroke="#000" stroke-width="1.1" stroke-opacity="0.75" fill="none"/>
<path d="M609.9,206.9H622.6M609.9,203.9v6.0M622.6,203.9v6.0" stroke="#000" stroke-width="1.1" stroke-opacity="0.75" fill="none"/>
<path d="M641.8,216.0V178.7M636.8,178.7h10.0M636.8,216.0h10.0" stroke="#000" stroke-width="1.1" stroke-opacity="0.7" fill="none"/>
<path d="M651.3,226.9V191.9M646.3,191.9h10.0M646.3,226.9h10.0" stroke="#000" stroke-width="1.1" stroke-opacity="0.7" fill="none"/>
<path d="M596.1,185.3H611.0M596.1,181.3v8.0M611.0,181.3v8.0" stroke="#000" stroke-width="1.0" stroke-opacity="0.7" fill="none"/>
<path d="M583.4,167.7H598.2M583.4,163.7v8.0M598.2,163.7v8.0" stroke="#000" stroke-width="1.0" stroke-opacity="0.7" fill="none"/>
<path d="M573.8,191.9H586.6M573.8,188.9v6.0M586.6,188.9v6.0" stroke="#000" stroke-width="1.0" stroke-opacity="0.7" fill="none"/>
</g>
<g clip-path="url(#cp02)">
<path d="M1259.7,272.8H1365.8M1259.7,266.1v13.4M1365.8,266.1v13.4" stroke="#000" stroke-width="1.7" stroke-opacity="0.85" fill="none"/>
<circle cx="1322.9" cy="272.8" r="2.3" fill="#000"/>
<path d="M1322.9,312.4V241.2M1316.2,241.2h13.4M1316.2,312.4h13.4" stroke="#000" stroke-width="1.5" stroke-opacity="0.9" fill="none"/>
<path d="M1206.0,284.8V222.7M1199.3,222.7h13.4M1199.3,284.8h13.4" stroke="#000" stroke-width="1.6" fill="none"/>
<circle cx="1206.0" cy="252.0" r="2.2" fill="#000"/>
<path d="M1153.5,252.0H1259.7M1153.5,245.4v13.2M1259.7,245.4v13.2" stroke="#000" stroke-width="1.1" stroke-opacity="0.75" fill="none"/>
<path d="M1132.6,253.4V206.3M1125.9,206.3h13.4M1125.9,253.4h13.4" stroke="#000" stroke-width="1.2" fill="none"/>
<path d="M1110.5,229.3H1155.6M1110.5,222.7v13.2M1155.6,222.7v13.2" stroke="#000" stroke-width="1.2" fill="none"/>
<circle cx="1132.6" cy="229.3" r="2.2" fill="#000"/>
<path d="M1121.7,312.4V158.5M1114.7,158.5h14.0M1114.7,312.4h14.0" stroke="#000" stroke-width="1.8" fill="none"/>
<circle cx="1121.7" cy="210.8" r="2.2" fill="#000"/>
<path d="M1125.9,217.3V206.3M1119.9,206.3h12.0M1119.9,217.3h12.0" stroke="#000" stroke-width="1.1" fill="none"/>
<path d="M1118.5,212.0H1132.6M1118.5,206.5v11.0M1132.6,206.5v11.0" stroke="#000" stroke-width="1.1" fill="none"/>
<circle cx="1125.9" cy="212.0" r="2.0" fill="#000"/>
<path d="M1132.8,183.5H1156.2M1132.8,176.5v14.0M1156.2,176.5v14.0" stroke="#000" stroke-width="1.2" fill="none"/>
<circle cx="1144.5" cy="183.5" r="2.2" fill="#000"/>
<path d="M1144.5,312.4V118.0M1137.8,118.0h13.4M1137.8,312.4h13.4" stroke="#000" stroke-width="1.5" stroke-opacity="0.62" fill="none"/>
<path d="M1102.3,312.4V218.6M1095.8,218.6h13.0M1095.8,312.4h13.0" stroke="#000" stroke-width="1.3" fill="none"/>
<path d="M1094.4,261.7H1110.7M1094.4,254.7v14.0M1110.7,254.7v14.0" stroke="#000" stroke-width="1.3" fill="none"/>
<circle cx="1102.3" cy="261.7" r="2.3" fill="#000"/>
<path d="M1102.5,218.6V180.9M1096.2,180.9h12.6M1096.2,218.6h12.6" stroke="#000" stroke-width="1.2" fill="none"/>
<path d="M1094.6,198.4H1110.5M1094.6,186.4v24.0M1110.5,186.4v24.0" stroke="#000" stroke-width="1.2" fill="none"/>
<circle cx="1102.5" cy="198.4" r="2.2" fill="#000"/>
<path d="M1093.3,234.4V102.7M1086.4,102.7h13.8M1086.4,234.4h13.8" stroke="#000" stroke-width="1.8" stroke-opacity="0.78" fill="none"/>
<circle cx="1093.3" cy="186.8" r="2.2" fill="#000"/>
<path d="M1078.3,164.2H1094.3M1078.3,157.4v13.6M1094.3,157.4v13.6" stroke="#000" stroke-width="1.2" stroke-opacity="0.75" fill="none"/>
<circle cx="1086.4" cy="164.2" r="2.2" fill="#000"/>
<path d="M1086.4,205.0V127.1M1079.7,127.1h13.4M1079.7,205.0h13.4" stroke="#000" stroke-width="1.2" stroke-opacity="0.6" fill="none"/>
<path d="M1056.6,198.4V144.5M1049.9,144.5h13.4M1049.9,198.4h13.4" stroke="#000" stroke-width="1.2" stroke-opacity="0.55" fill="none"/>
<path d="M1035.1,171.6H1078.1M1035.1,164.6v14.0M1078.1,164.6v14.0" stroke="#000" stroke-width="1.2" stroke-opacity="0.55" fill="none"/>
<circle cx="1056.6" cy="171.6" r="2.0" fill="#000"/>
<path d="M1085.0,234.4H1098.8M1085.0,234.4v0.0M1098.8,234.4v0.0" stroke="#000" stroke-width="1.0" fill="none"/>
<circle cx="1091.9" cy="234.4" r="2.2" fill="#000"/>
<path d="M1042.8,253.5V166.0M1036.0,166.0h13.6M1036.0,253.5h13.6" stroke="#000" stroke-width="1.2" fill="none"/>
<path d="M1036.2,223.2H1050.0M1036.2,218.2v10.0M1050.0,218.2v10.0" stroke="#000" stroke-width="1.2" fill="none"/>
<circle cx="1042.8" cy="223.2" r="2.2" fill="#000"/>
<path d="M1056.2,247.3V161.2M1049.2,161.2h14.0M1049.2,247.3h14.0" stroke="#000" stroke-width="1.2" fill="none"/>
<circle cx="1056.2" cy="203.3" r="2.2" fill="#000"/>
<circle cx="1071.6" cy="213.8" r="3.0" fill="#000"/>
<path d="M1071.9,236.1V212.9M1066.4,212.9h11.0M1066.4,236.1h11.0" stroke="#000" stroke-width="1.2" fill="none"/>
<path d="M1065.6,224.7H1078.8M1065.6,220.7v8.0M1078.8,220.7v8.0" stroke="#000" stroke-width="1.2" fill="none"/>
<circle cx="1071.9" cy="224.7" r="2.2" fill="#000"/>
<circle cx="1084.2" cy="200.6" r="2.2" fill="#000"/>
<circle cx="1086.0" cy="210.3" r="2.2" fill="#000"/>
<circle cx="1080.3" cy="227.4" r="2.0" fill="#000"/>
<circle cx="1070.7" cy="190.1" r="2.0" fill="#000"/>
<path d="M1036.2,226.9V198.4M1036.2,198.4h0.0M1036.2,226.9h0.0" stroke="#000" stroke-width="1.0" stroke-opacity="0.6" fill="none"/>
<circle cx="1036.2" cy="212.5" r="2.2" fill="#000"/>
<circle cx="1040.8" cy="206.9" r="2.2" fill="#000"/>
<path d="M1016.8,213.8V186.6M1010.8,186.6h12.0M1010.8,213.8h12.0" stroke="#000" stroke-width="1.2" fill="none"/>
<path d="M1007.4,200.3H1021.1M1007.4,200.3v0.0M1021.1,200.3v0.0" stroke="#000" stroke-width="1.2" fill="none"/>
<circle cx="1016.8" cy="200.3" r="2.3" fill="#000"/>
<circle cx="1013.1" cy="204.0" r="2.4" fill="#000"/>
<circle cx="1002.0" cy="207.5" r="2.4" fill="#000"/>
<circle cx="983.0" cy="189.7" r="2.3" fill="#000"/>
<circle cx="1007.1" cy="88.2" r="2.4" fill="#000"/>
<circle cx="1024.0" cy="142.5" r="2.3" fill="#000"/>
<circle cx="1018.1" cy="149.2" r="2.3" fill="#000"/>
<path d="M978.7,85.3V66.3M971.5,66.3h14.4M971.5,85.3h14.4" stroke="#000" stroke-width="1.35" fill="none"/>
<path d="M978.7,82.9V68.7" stroke="#000" stroke-width="2.6" stroke-opacity="1" fill="none"/>
<circle cx="978.7" cy="75.7" r="2.3" fill="#000"/>
<path d="M979.6,111.2V95.4M975.0,95.4h9.2M975.0,111.2h9.2" stroke="#000" stroke-width="1.3" fill="none"/>
<path d="M979.6,109.0V97.6" stroke="#000" stroke-width="2.8" stroke-opacity="1" fill="none"/>
<circle cx="979.6" cy="103.3" r="2.0" fill="#000"/>
<path d="M988.2,117.6V88.2M981.2,88.2h14.0M981.2,117.6h14.0" stroke="#000" stroke-width="1.7" fill="none"/>
<path d="M988.2,114.7V91.0" stroke="#000" stroke-width="3.2" stroke-opacity="1" fill="none"/>
<circle cx="988.2" cy="102.9" r="2.0" fill="#000"/>
<path d="M983.0,132.2V105.1M977.5,105.1h11.0M977.5,132.2h11.0" stroke="#000" stroke-width="1.3" fill="none"/>
<path d="M983.0,129.6V107.7" stroke="#000" stroke-width="3.4" stroke-opacity="1" fill="none"/>
<circle cx="983.0" cy="118.7" r="2.0" fill="#000"/>
<path d="M985.3,122.6V103.3M978.8,103.3h13.0M978.8,122.6h13.0" stroke="#000" stroke-width="1.3" fill="none"/>
<path d="M985.3,120.8V105.1" stroke="#000" stroke-width="3.0" stroke-opacity="1" fill="none"/>
<circle cx="985.3" cy="113.0" r="2.0" fill="#000"/>
<path d="M981.0,123.9V106.4M975.0,106.4h12.0M975.0,123.9h12.0" stroke="#000" stroke-width="1.3" fill="none"/>
<path d="M981.0,121.7V108.6" stroke="#000" stroke-width="2.6" stroke-opacity="1" fill="none"/>
<circle cx="981.0" cy="115.1" r="2.0" fill="#000"/>
<path d="M980.5,131.8V117.8M975.0,117.8h11.0M975.0,131.8h11.0" stroke="#000" stroke-width="1.3" fill="none"/>
<path d="M980.5,130.1V119.5" stroke="#000" stroke-width="2.6" stroke-opacity="1" fill="none"/>
<circle cx="980.5" cy="124.8" r="2.0" fill="#000"/>
<path d="M992.8,142.8V113.8M986.0,113.8h13.6M986.0,142.8h13.6" stroke="#000" stroke-width="1.3" fill="none"/>
<path d="M992.8,140.1V116.5" stroke="#000" stroke-width="3.0" stroke-opacity="1" fill="none"/>
<circle cx="992.8" cy="128.3" r="2.0" fill="#000"/>
<path d="M990.0,131.4V109.5M984.0,109.5h12.0M984.0,131.4h12.0" stroke="#000" stroke-width="1.3" fill="none"/>
<path d="M990.0,129.2V111.6" stroke="#000" stroke-width="2.8" stroke-opacity="1" fill="none"/>
<circle cx="990.0" cy="120.4" r="2.0" fill="#000"/>
<path d="M984.2,134.0V118.2M977.2,118.2h14.0M977.2,134.0h14.0" stroke="#000" stroke-width="1.3" fill="none"/>
<path d="M984.2,132.2V120.0" stroke="#000" stroke-width="3.0" stroke-opacity="1" fill="none"/>
<circle cx="984.2" cy="126.1" r="2.0" fill="#000"/>
<path d="M986.8,134.4V111.6M981.8,111.6h10.0M981.8,134.4h10.0" stroke="#000" stroke-width="1.3" fill="none"/>
<path d="M986.8,131.8V114.3" stroke="#000" stroke-width="2.6" stroke-opacity="1" fill="none"/>
<circle cx="986.8" cy="123.0" r="2.0" fill="#000"/>
<path d="M994.8,165.6V148.0M989.3,148.0h11.0M989.3,165.6h11.0" stroke="#000" stroke-width="1.3" fill="none"/>
<path d="M994.8,162.5V151.1" stroke="#000" stroke-width="2.8" stroke-opacity="1" fill="none"/>
<circle cx="994.8" cy="156.8" r="1.8" fill="#000"/>
<path d="M996.2,173.0V155.5M991.7,155.5h9.0M991.7,173.0h9.0" stroke="#000" stroke-width="1.3" fill="none"/>
<path d="M996.2,169.9V158.5" stroke="#000" stroke-width="2.8" stroke-opacity="1" fill="none"/>
<circle cx="996.2" cy="164.2" r="1.8" fill="#000"/>
<path d="M997.7,180.9V163.4M992.2,163.4h11.0M992.2,180.9h11.0" stroke="#000" stroke-width="1.3" fill="none"/>
<path d="M997.7,177.8V166.4" stroke="#000" stroke-width="2.8" stroke-opacity="1" fill="none"/>
<circle cx="997.7" cy="172.1" r="1.8" fill="#000"/>
<path d="M999.2,188.8V171.3M994.7,171.3h9.0M994.7,188.8h9.0" stroke="#000" stroke-width="1.3" fill="none"/>
<path d="M999.2,185.7V174.3" stroke="#000" stroke-width="2.8" stroke-opacity="1" fill="none"/>
<circle cx="999.2" cy="180.0" r="1.8" fill="#000"/>
<path d="M1000.6,195.8V178.3M995.1,178.3h11.0M995.1,195.8h11.0" stroke="#000" stroke-width="1.3" fill="none"/>
<path d="M1000.6,192.7V181.3" stroke="#000" stroke-width="2.8" stroke-opacity="1" fill="none"/>
<circle cx="1000.6" cy="187.0" r="1.8" fill="#000"/>
<path d="M1003.0,186.2V156.4M997.0,156.4h12.0M997.0,186.2h12.0" stroke="#000" stroke-width="1.3" fill="none"/>
<path d="M1003.0,181.8V160.7" stroke="#000" stroke-width="3.4" stroke-opacity="1" fill="none"/>
<circle cx="1003.0" cy="171.3" r="1.8" fill="#000"/>
<path d="M1005.6,187.5V169.9M1000.6,169.9h10.0M1000.6,187.5h10.0" stroke="#000" stroke-width="1.3" fill="none"/>
<path d="M1005.6,184.8V172.6" stroke="#000" stroke-width="2.4" stroke-opacity="1" fill="none"/>
<circle cx="1005.6" cy="178.7" r="1.8" fill="#000"/>
<path d="M1008.8,173.9V145.8M1002.0,145.8h13.6M1002.0,173.9h13.6" stroke="#000" stroke-width="1.3" fill="none"/>
<path d="M1008.8,168.6V151.1" stroke="#000" stroke-width="3.2" stroke-opacity="1" fill="none"/>
<circle cx="1008.8" cy="159.9" r="1.8" fill="#000"/>
<path d="M1010.7,177.4V159.9M1005.7,159.9h10.0M1005.7,177.4h10.0" stroke="#000" stroke-width="1.3" fill="none"/>
<path d="M1010.7,174.8V162.5" stroke="#000" stroke-width="3.0" stroke-opacity="1" fill="none"/>
<circle cx="1010.7" cy="168.6" r="1.8" fill="#000"/>
<path d="M1012.1,185.3V167.7M1006.1,167.7h12.0M1006.1,185.3h12.0" stroke="#000" stroke-width="1.3" fill="none"/>
<path d="M1012.1,182.7V170.4" stroke="#000" stroke-width="3.0" stroke-opacity="1" fill="none"/>
<circle cx="1012.1" cy="176.5" r="1.8" fill="#000"/>
<path d="M1013.4,193.2V175.6M1008.4,175.6h10.0M1008.4,193.2h10.0" stroke="#000" stroke-width="1.3" fill="none"/>
<path d="M1013.4,190.5V178.3" stroke="#000" stroke-width="3.0" stroke-opacity="1" fill="none"/>
<circle cx="1013.4" cy="184.4" r="1.8" fill="#000"/>
<path d="M1014.7,201.1V183.5M1008.7,183.5h12.0M1008.7,201.1h12.0" stroke="#000" stroke-width="1.3" fill="none"/>
<path d="M1014.7,198.4V186.2" stroke="#000" stroke-width="3.0" stroke-opacity="1" fill="none"/>
<circle cx="1014.7" cy="192.3" r="1.8" fill="#000"/>
<path d="M1019.5,209.4V155.9M1012.0,155.9h15.0M1012.0,209.4h15.0" stroke="#000" stroke-width="1.0" stroke-opacity="0.8" fill="none"/>
<path d="M1012.3,180.0H1026.1M1012.3,180.0v0.0M1026.1,180.0v0.0" stroke="#000" stroke-width="1.0" stroke-opacity="0.8" fill="none"/>
<path d="M1022.5,211.6V158.1M1017.0,158.1h11.0M1017.0,211.6h11.0" stroke="#000" stroke-width="1.0" stroke-opacity="0.8" fill="none"/>
<path d="M1015.5,183.1H1030.4M1015.5,183.1v0.0M1030.4,183.1v0.0" stroke="#000" stroke-width="1.0" stroke-opacity="0.8" fill="none"/>
<circle cx="1020.8" cy="172.6" r="2.6" fill="#000"/>
<circle cx="1023.1" cy="175.2" r="2.4" fill="#000"/>
<path d="M1028.8,180.9V138.1M1021.8,138.1h14.0M1021.8,180.9h14.0" stroke="#000" stroke-width="1.2" fill="none"/>
<path d="M1028.8,178.3V149.3" stroke="#000" stroke-width="4.2" stroke-opacity="1" fill="none"/>
<circle cx="1028.8" cy="150.7" r="2.4" fill="#000"/>
<path d="M1035.0,183.1V133.1M1028.1,133.1h13.8M1028.1,183.1h13.8" stroke="#000" stroke-width="1.0" stroke-opacity="0.8" fill="none"/>
<path d="M1035.0,172.1V143.6" stroke="#000" stroke-width="3.2" stroke-opacity="0.55" fill="none"/>
<circle cx="1035.0" cy="153.3" r="2.2" fill="#000"/>
<path d="M1032.0,190.5V171.3M1026.5,171.3h11.0M1026.5,190.5h11.0" stroke="#000" stroke-width="1.3" fill="none"/>
<path d="M1032.0,187.5V174.3" stroke="#000" stroke-width="2.6" stroke-opacity="1" fill="none"/>
<circle cx="1032.0" cy="180.9" r="1.8" fill="#000"/>
<path d="M1033.3,197.6V178.3M1027.8,178.3h11.0M1027.8,197.6h11.0" stroke="#000" stroke-width="1.3" fill="none"/>
<path d="M1033.3,194.5V181.3" stroke="#000" stroke-width="2.6" stroke-opacity="1" fill="none"/>
<circle cx="1033.3" cy="187.9" r="1.8" fill="#000"/>
<path d="M1034.6,203.7V184.4M1029.1,184.4h11.0M1029.1,203.7h11.0" stroke="#000" stroke-width="1.3" fill="none"/>
<path d="M1034.6,200.6V187.5" stroke="#000" stroke-width="2.6" stroke-opacity="1" fill="none"/>
<circle cx="1034.6" cy="194.0" r="1.8" fill="#000"/>
<path d="M1025.8,218.2V180.9M1025.8,180.9h0.0M1025.8,218.2h0.0" stroke="#000" stroke-width="1.2" stroke-opacity="0.7" fill="none"/>
<circle cx="1025.8" cy="194.9" r="2.3" fill="#000"/>
<path d="M1025.1,197.8H1043.1M1025.1,197.8v0.0M1043.1,197.8v0.0" stroke="#000" stroke-width="1.1" fill="none"/>
<circle cx="1035.8" cy="197.8" r="2.3" fill="#000"/>
<path d="M1042.8,211.6V166.0M1036.0,166.0h13.6M1036.0,211.6h13.6" stroke="#000" stroke-width="1.1" fill="none"/>
<path d="M1035.7,186.4H1050.0M1035.7,181.4v10.0M1050.0,181.4v10.0" stroke="#000" stroke-width="1.1" fill="none"/>
<circle cx="1042.8" cy="186.4" r="2.3" fill="#000"/>
<path d="M1073.9,201.1H1093.0M1073.9,196.1v10.0M1093.0,196.1v10.0" stroke="#000" stroke-width="1.0" stroke-opacity="0.8" fill="none"/>
<circle cx="1083.2" cy="201.1" r="2.2" fill="#000"/>
<path d="M1050.5,203.3H1063.3M1050.5,193.3v20.0M1063.3,193.3v20.0" stroke="#000" stroke-width="1.0" fill="none"/>
<path d="M1063.3,222.5V165.6M1063.3,165.6h0.0M1063.3,222.5h0.0" stroke="#000" stroke-width="1.3" fill="none"/>
<path d="M1050.4,216.0V167.7M1050.4,167.7h0.0M1050.4,216.0h0.0" stroke="#000" stroke-width="1.0" stroke-opacity="0.8" fill="none"/>
<path d="M1065.4,204.1H1079.2M1065.4,204.1v0.0M1079.2,204.1v0.0" stroke="#000" stroke-width="2.0" fill="none"/>
<path d="M1071.6,236.1V178.7M1065.6,178.7h12.0M1065.6,236.1h12.0" stroke="#000" stroke-width="1.3" fill="none"/>
<path d="M1071.6,222.5V205.0" stroke="#000" stroke-width="2.6" stroke-opacity="1" fill="none"/>
<path d="M1080.3,240.7V180.9M1073.8,180.9h13.0M1073.8,240.7h13.0" stroke="#000" stroke-width="1.2" fill="none"/>
<path d="M1080.3,233.5V220.3" stroke="#000" stroke-width="2.6" stroke-opacity="0.7" fill="none"/>
<path d="M1062.2,190.1H1081.3M1062.2,184.1v12.0M1081.3,184.1v12.0" stroke="#000" stroke-width="1.0" fill="none"/>
<path d="M1047.4,220.3H1063.8M1047.4,216.3v8.0M1063.8,216.3v8.0" stroke="#000" stroke-width="1.0" stroke-opacity="0.8" fill="none"/>
<path d="M1050.5,180.9H1079.2M1050.5,175.9v10.0M1079.2,175.9v10.0" stroke="#000" stroke-width="1.0" stroke-opacity="0.6" fill="none"/>
<path d="M1035.7,166.0H1049.5M1035.7,166.0v0.0M1049.5,166.0v0.0" stroke="#000" stroke-width="1.0" stroke-opacity="0.8" fill="none"/>
<path d="M1049.4,224.7V166.0M1049.4,166.0h0.0M1049.4,224.7h0.0" stroke="#000" stroke-width="1.0" stroke-opacity="0.8" fill="none"/>
<path d="M977.8,118.7V101.1M971.3,101.1h13.0M971.3,118.7h13.0" stroke="#000" stroke-width="1.3" fill="none"/>
<path d="M977.8,109.9V109.9" stroke="#000" stroke-width="0" stroke-opacity="1" fill="none"/>
<path d="M978.9,131.4V112.1M971.9,112.1h14.0M971.9,131.4h14.0" stroke="#000" stroke-width="1.3" fill="none"/>
<path d="M978.9,121.7V121.7" stroke="#000" stroke-width="0" stroke-opacity="1" fill="none"/>
<path d="M991.1,120.8V98.9M983.6,98.9h15.0M983.6,120.8h15.0" stroke="#000" stroke-width="1.3" fill="none"/>
<path d="M991.1,117.8V102.0" stroke="#000" stroke-width="2.4" stroke-opacity="1" fill="none"/>
<circle cx="991.1" cy="109.9" r="1.8" fill="#000"/>
<path d="M985.8,143.6V126.1M977.3,126.1h17.0M977.3,143.6h17.0" stroke="#000" stroke-width="1.3" fill="none"/>
<path d="M985.8,141.0V128.7" stroke="#000" stroke-width="2.6" stroke-opacity="1" fill="none"/>
<circle cx="985.8" cy="134.9" r="1.8" fill="#000"/>
<path d="M992.8,148.0V121.7M986.3,121.7h13.0M986.3,148.0h13.0" stroke="#000" stroke-width="1.3" fill="none"/>
<path d="M992.8,144.5V125.2" stroke="#000" stroke-width="3.0" stroke-opacity="1" fill="none"/>
<circle cx="992.8" cy="134.9" r="1.8" fill="#000"/>
<path d="M982.1,118.7V101.1M977.1,101.1h10.0M977.1,118.7h10.0" stroke="#000" stroke-width="1.3" fill="none"/>
<path d="M982.1,116.9V102.9" stroke="#000" stroke-width="3.0" stroke-opacity="1" fill="none"/>
<circle cx="982.1" cy="109.9" r="1.8" fill="#000"/>
<path d="M1079.2,224.7V183.1M1079.2,183.1h0.0M1079.2,224.7h0.0" stroke="#000" stroke-width="1.2" stroke-opacity="0.85" fill="none"/>
<path d="M1084.2,216.0V185.3M1079.2,185.3h10.0M1079.2,216.0h10.0" stroke="#000" stroke-width="1.1" stroke-opacity="0.8" fill="none"/>
<path d="M1086.0,222.5V198.4M1081.0,198.4h10.0M1081.0,222.5h10.0" stroke="#000" stroke-width="1.1" stroke-opacity="0.8" fill="none"/>
<path d="M1079.2,210.3H1093.0M1079.2,206.3v8.0M1093.0,206.3v8.0" stroke="#000" stroke-width="1.1" stroke-opacity="0.8" fill="none"/>
<path d="M1040.8,220.3V193.2M1036.8,193.2h8.0M1036.8,220.3h8.0" stroke="#000" stroke-width="1.1" stroke-opacity="0.75" fill="none"/>
<path d="M1034.6,206.9H1047.4M1034.6,203.9v6.0M1047.4,203.9v6.0" stroke="#000" stroke-width="1.1" stroke-opacity="0.75" fill="none"/>
<path d="M1066.5,216.0V178.7M1061.5,178.7h10.0M1061.5,216.0h10.0" stroke="#000" stroke-width="1.1" stroke-opacity="0.7" fill="none"/>
<path d="M1076.0,226.9V191.9M1071.0,191.9h10.0M1071.0,226.9h10.0" stroke="#000" stroke-width="1.1" stroke-opacity="0.7" fill="none"/>
<path d="M1020.8,185.3H1035.7M1020.8,181.3v8.0M1035.7,181.3v8.0" stroke="#000" stroke-width="1.0" stroke-opacity="0.7" fill="none"/>
<path d="M1008.1,167.7H1022.9M1008.1,163.7v8.0M1022.9,163.7v8.0" stroke="#000" stroke-width="1.0" stroke-opacity="0.7" fill="none"/>
<path d="M998.5,191.9H1011.3M998.5,188.9v6.0M1011.3,188.9v6.0" stroke="#000" stroke-width="1.0" stroke-opacity="0.7" fill="none"/>
</g>
<g clip-path="url(#cp03)">
<path d="M1684.7,272.8H1790.8M1684.7,266.1v13.4M1790.8,266.1v13.4" stroke="#000" stroke-width="1.7" stroke-opacity="0.85" fill="none"/>
<circle cx="1748.0" cy="272.8" r="2.3" fill="#000"/>
<path d="M1748.0,312.4V241.2M1741.3,241.2h13.4M1741.3,312.4h13.4" stroke="#000" stroke-width="1.5" stroke-opacity="0.9" fill="none"/>
<path d="M1631.1,284.8V222.7M1624.4,222.7h13.4M1624.4,284.8h13.4" stroke="#000" stroke-width="1.6" fill="none"/>
<circle cx="1631.1" cy="252.0" r="2.2" fill="#000"/>
<path d="M1578.5,252.0H1684.7M1578.5,245.4v13.2M1684.7,245.4v13.2" stroke="#000" stroke-width="1.1" stroke-opacity="0.75" fill="none"/>
<path d="M1557.6,253.4V206.3M1550.9,206.3h13.4M1550.9,253.4h13.4" stroke="#000" stroke-width="1.2" fill="none"/>
<path d="M1535.6,229.3H1580.7M1535.6,222.7v13.2M1580.7,222.7v13.2" stroke="#000" stroke-width="1.2" fill="none"/>
<circle cx="1557.6" cy="229.3" r="2.2" fill="#000"/>
<path d="M1546.7,312.4V158.5M1539.7,158.5h14.0M1539.7,312.4h14.0" stroke="#000" stroke-width="1.8" fill="none"/>
<circle cx="1546.7" cy="210.8" r="2.2" fill="#000"/>
<path d="M1551.0,217.3V206.3M1545.0,206.3h12.0M1545.0,217.3h12.0" stroke="#000" stroke-width="1.1" fill="none"/>
<path d="M1543.5,212.0H1557.6M1543.5,206.5v11.0M1557.6,206.5v11.0" stroke="#000" stroke-width="1.1" fill="none"/>
<circle cx="1551.0" cy="212.0" r="2.0" fill="#000"/>
<path d="M1557.9,183.5H1581.2M1557.9,176.5v14.0M1581.2,176.5v14.0" stroke="#000" stroke-width="1.2" fill="none"/>
<circle cx="1569.5" cy="183.5" r="2.2" fill="#000"/>
<path d="M1569.5,312.4V118.0M1562.8,118.0h13.4M1562.8,312.4h13.4" stroke="#000" stroke-width="1.5" stroke-opacity="0.62" fill="none"/>
<path d="M1527.4,312.4V218.6M1520.9,218.6h13.0M1520.9,312.4h13.0" stroke="#000" stroke-width="1.3" fill="none"/>
<path d="M1519.4,261.7H1535.8M1519.4,254.7v14.0M1535.8,254.7v14.0" stroke="#000" stroke-width="1.3" fill="none"/>
<circle cx="1527.4" cy="261.7" r="2.3" fill="#000"/>
<path d="M1527.6,218.6V180.9M1521.3,180.9h12.6M1521.3,218.6h12.6" stroke="#000" stroke-width="1.2" fill="none"/>
<path d="M1519.6,198.4H1535.6M1519.6,186.4v24.0M1535.6,186.4v24.0" stroke="#000" stroke-width="1.2" fill="none"/>
<circle cx="1527.6" cy="198.4" r="2.2" fill="#000"/>
<path d="M1518.4,234.4V102.7M1511.5,102.7h13.8M1511.5,234.4h13.8" stroke="#000" stroke-width="1.8" stroke-opacity="0.78" fill="none"/>
<circle cx="1518.4" cy="186.8" r="2.2" fill="#000"/>
<path d="M1503.4,164.2H1519.3M1503.4,157.4v13.6M1519.3,157.4v13.6" stroke="#000" stroke-width="1.2" stroke-opacity="0.75" fill="none"/>
<circle cx="1511.5" cy="164.2" r="2.2" fill="#000"/>
<path d="M1511.5,205.0V127.1M1504.8,127.1h13.4M1504.8,205.0h13.4" stroke="#000" stroke-width="1.2" stroke-opacity="0.6" fill="none"/>
<path d="M1481.6,198.4V144.5M1474.9,144.5h13.4M1474.9,198.4h13.4" stroke="#000" stroke-width="1.2" stroke-opacity="0.55" fill="none"/>
<path d="M1460.2,171.6H1503.2M1460.2,164.6v14.0M1503.2,164.6v14.0" stroke="#000" stroke-width="1.2" stroke-opacity="0.55" fill="none"/>
<circle cx="1481.6" cy="171.6" r="2.0" fill="#000"/>
<path d="M1510.1,234.4H1523.9M1510.1,234.4v0.0M1523.9,234.4v0.0" stroke="#000" stroke-width="1.0" fill="none"/>
<circle cx="1517.0" cy="234.4" r="2.2" fill="#000"/>
<path d="M1467.8,253.5V166.0M1461.0,166.0h13.6M1461.0,253.5h13.6" stroke="#000" stroke-width="1.2" fill="none"/>
<path d="M1461.3,223.2H1475.1M1461.3,218.2v10.0M1475.1,218.2v10.0" stroke="#000" stroke-width="1.2" fill="none"/>
<circle cx="1467.8" cy="223.2" r="2.2" fill="#000"/>
<path d="M1481.2,247.3V161.2M1474.2,161.2h14.0M1474.2,247.3h14.0" stroke="#000" stroke-width="1.2" fill="none"/>
<circle cx="1481.2" cy="203.3" r="2.2" fill="#000"/>
<circle cx="1496.6" cy="213.8" r="3.0" fill="#000"/>
<path d="M1496.9,236.1V212.9M1491.4,212.9h11.0M1491.4,236.1h11.0" stroke="#000" stroke-width="1.2" fill="none"/>
<path d="M1490.7,224.7H1503.8M1490.7,220.7v8.0M1503.8,220.7v8.0" stroke="#000" stroke-width="1.2" fill="none"/>
<circle cx="1496.9" cy="224.7" r="2.2" fill="#000"/>
<circle cx="1509.2" cy="200.6" r="2.2" fill="#000"/>
<circle cx="1511.0" cy="210.3" r="2.2" fill="#000"/>
<circle cx="1505.3" cy="227.4" r="2.0" fill="#000"/>
<circle cx="1495.8" cy="190.1" r="2.0" fill="#000"/>
<path d="M1461.3,226.9V198.4M1461.3,198.4h0.0M1461.3,226.9h0.0" stroke="#000" stroke-width="1.0" stroke-opacity="0.6" fill="none"/>
<circle cx="1461.3" cy="212.5" r="2.2" fill="#000"/>
<circle cx="1465.8" cy="206.9" r="2.2" fill="#000"/>
<path d="M1441.8,213.8V186.6M1435.8,186.6h12.0M1435.8,213.8h12.0" stroke="#000" stroke-width="1.2" fill="none"/>
<path d="M1432.5,200.3H1446.2M1432.5,200.3v0.0M1446.2,200.3v0.0" stroke="#000" stroke-width="1.2" fill="none"/>
<circle cx="1441.8" cy="200.3" r="2.3" fill="#000"/>
<circle cx="1438.1" cy="204.0" r="2.4" fill="#000"/>
<circle cx="1427.1" cy="207.5" r="2.4" fill="#000"/>
<circle cx="1408.1" cy="189.7" r="2.3" fill="#000"/>
<circle cx="1432.2" cy="88.2" r="2.4" fill="#000"/>
<circle cx="1449.0" cy="142.5" r="2.3" fill="#000"/>
<circle cx="1443.1" cy="149.2" r="2.3" fill="#000"/>
<path d="M1403.8,85.3V66.3M1396.6,66.3h14.4M1396.6,85.3h14.4" stroke="#000" stroke-width="1.35" fill="none"/>
<path d="M1403.8,82.9V68.7" stroke="#000" stroke-width="2.6" stroke-opacity="1" fill="none"/>
<circle cx="1403.8" cy="75.7" r="2.3" fill="#000"/>
<path d="M1404.7,111.2V95.4M1400.1,95.4h9.2M1400.1,111.2h9.2" stroke="#000" stroke-width="1.3" fill="none"/>
<path d="M1404.7,109.0V97.6" stroke="#000" stroke-width="2.8" stroke-opacity="1" fill="none"/>
<circle cx="1404.7" cy="103.3" r="2.0" fill="#000"/>
<path d="M1413.3,117.6V88.2M1406.3,88.2h14.0M1406.3,117.6h14.0" stroke="#000" stroke-width="1.7" fill="none"/>
<path d="M1413.3,114.7V91.0" stroke="#000" stroke-width="3.2" stroke-opacity="1" fill="none"/>
<circle cx="1413.3" cy="102.9" r="2.0" fill="#000"/>
<path d="M1408.1,132.2V105.1M1402.6,105.1h11.0M1402.6,132.2h11.0" stroke="#000" stroke-width="1.3" fill="none"/>
<path d="M1408.1,129.6V107.7" stroke="#000" stroke-width="3.4" stroke-opacity="1" fill="none"/>
<circle cx="1408.1" cy="118.7" r="2.0" fill="#000"/>
<path d="M1410.3,122.6V103.3M1403.8,103.3h13.0M1403.8,122.6h13.0" stroke="#000" stroke-width="1.3" fill="none"/>
<path d="M1410.3,120.8V105.1" stroke="#000" stroke-width="3.0" stroke-opacity="1" fill="none"/>
<circle cx="1410.3" cy="113.0" r="2.0" fill="#000"/>
<path d="M1406.1,123.9V106.4M1400.1,106.4h12.0M1400.1,123.9h12.0" stroke="#000" stroke-width="1.3" fill="none"/>
<path d="M1406.1,121.7V108.6" stroke="#000" stroke-width="2.6" stroke-opacity="1" fill="none"/>
<circle cx="1406.1" cy="115.1" r="2.0" fill="#000"/>
<path d="M1405.5,131.8V117.8M1400.0,117.8h11.0M1400.0,131.8h11.0" stroke="#000" stroke-width="1.3" fill="none"/>
<path d="M1405.5,130.1V119.5" stroke="#000" stroke-width="2.6" stroke-opacity="1" fill="none"/>
<circle cx="1405.5" cy="124.8" r="2.0" fill="#000"/>
<path d="M1417.8,142.8V113.8M1411.0,113.8h13.6M1411.0,142.8h13.6" stroke="#000" stroke-width="1.3" fill="none"/>
<path d="M1417.8,140.1V116.5" stroke="#000" stroke-width="3.0" stroke-opacity="1" fill="none"/>
<circle cx="1417.8" cy="128.3" r="2.0" fill="#000"/>
<path d="M1415.1,131.4V109.5M1409.1,109.5h12.0M1409.1,131.4h12.0" stroke="#000" stroke-width="1.3" fill="none"/>
<path d="M1415.1,129.2V111.6" stroke="#000" stroke-width="2.8" stroke-opacity="1" fill="none"/>
<circle cx="1415.1" cy="120.4" r="2.0" fill="#000"/>
<path d="M1409.2,134.0V118.2M1402.2,118.2h14.0M1402.2,134.0h14.0" stroke="#000" stroke-width="1.3" fill="none"/>
<path d="M1409.2,132.2V120.0" stroke="#000" stroke-width="3.0" stroke-opacity="1" fill="none"/>
<circle cx="1409.2" cy="126.1" r="2.0" fill="#000"/>
<path d="M1411.9,134.4V111.6M1406.9,111.6h10.0M1406.9,134.4h10.0" stroke="#000" stroke-width="1.3" fill="none"/>
<path d="M1411.9,131.8V114.3" stroke="#000" stroke-width="2.6" stroke-opacity="1" fill="none"/>
<circle cx="1411.9" cy="123.0" r="2.0" fill="#000"/>
<path d="M1419.9,165.6V148.0M1414.4,148.0h11.0M1414.4,165.6h11.0" stroke="#000" stroke-width="1.3" fill="none"/>
<path d="M1419.9,162.5V151.1" stroke="#000" stroke-width="2.8" stroke-opacity="1" fill="none"/>
<circle cx="1419.9" cy="156.8" r="1.8" fill="#000"/>
<path d="M1421.2,173.0V155.5M1416.7,155.5h9.0M1416.7,173.0h9.0" stroke="#000" stroke-width="1.3" fill="none"/>
<path d="M1421.2,169.9V158.5" stroke="#000" stroke-width="2.8" stroke-opacity="1" fill="none"/>
<circle cx="1421.2" cy="164.2" r="1.8" fill="#000"/>
<path d="M1422.7,180.9V163.4M1417.2,163.4h11.0M1417.2,180.9h11.0" stroke="#000" stroke-width="1.3" fill="none"/>
<path d="M1422.7,177.8V166.4" stroke="#000" stroke-width="2.8" stroke-opacity="1" fill="none"/>
<circle cx="1422.7" cy="172.1" r="1.8" fill="#000"/>
<path d="M1424.2,188.8V171.3M1419.7,171.3h9.0M1419.7,188.8h9.0" stroke="#000" stroke-width="1.3" fill="none"/>
<path d="M1424.2,185.7V174.3" stroke="#000" stroke-width="2.8" stroke-opacity="1" fill="none"/>
<circle cx="1424.2" cy="180.0" r="1.8" fill="#000"/>
<path d="M1425.7,195.8V178.3M1420.2,178.3h11.0M1420.2,195.8h11.0" stroke="#000" stroke-width="1.3" fill="none"/>
<path d="M1425.7,192.7V181.3" stroke="#000" stroke-width="2.8" stroke-opacity="1" fill="none"/>
<circle cx="1425.7" cy="187.0" r="1.8" fill="#000"/>
<path d="M1428.0,186.2V156.4M1422.0,156.4h12.0M1422.0,186.2h12.0" stroke="#000" stroke-width="1.3" fill="none"/>
<path d="M1428.0,181.8V160.7" stroke="#000" stroke-width="3.4" stroke-opacity="1" fill="none"/>
<circle cx="1428.0" cy="171.3" r="1.8" fill="#000"/>
<path d="M1430.7,187.5V169.9M1425.7,169.9h10.0M1425.7,187.5h10.0" stroke="#000" stroke-width="1.3" fill="none"/>
<path d="M1430.7,184.8V172.6" stroke="#000" stroke-width="2.4" stroke-opacity="1" fill="none"/>
<circle cx="1430.7" cy="178.7" r="1.8" fill="#000"/>
<path d="M1433.9,173.9V145.8M1427.1,145.8h13.6M1427.1,173.9h13.6" stroke="#000" stroke-width="1.3" fill="none"/>
<path d="M1433.9,168.6V151.1" stroke="#000" stroke-width="3.2" stroke-opacity="1" fill="none"/>
<circle cx="1433.9" cy="159.9" r="1.8" fill="#000"/>
<path d="M1435.8,177.4V159.9M1430.8,159.9h10.0M1430.8,177.4h10.0" stroke="#000" stroke-width="1.3" fill="none"/>
<path d="M1435.8,174.8V162.5" stroke="#000" stroke-width="3.0" stroke-opacity="1" fill="none"/>
<circle cx="1435.8" cy="168.6" r="1.8" fill="#000"/>
<path d="M1437.2,185.3V167.7M1431.2,167.7h12.0M1431.2,185.3h12.0" stroke="#000" stroke-width="1.3" fill="none"/>
<path d="M1437.2,182.7V170.4" stroke="#000" stroke-width="3.0" stroke-opacity="1" fill="none"/>
<circle cx="1437.2" cy="176.5" r="1.8" fill="#000"/>
<path d="M1438.4,193.2V175.6M1433.4,175.6h10.0M1433.4,193.2h10.0" stroke="#000" stroke-width="1.3" fill="none"/>
<path d="M1438.4,190.5V178.3" stroke="#000" stroke-width="3.0" stroke-opacity="1" fill="none"/>
<circle cx="1438.4" cy="184.4" r="1.8" fill="#000"/>
<path d="M1439.7,201.1V183.5M1433.7,183.5h12.0M1433.7,201.1h12.0" stroke="#000" stroke-width="1.3" fill="none"/>
<path d="M1439.7,198.4V186.2" stroke="#000" stroke-width="3.0" stroke-opacity="1" fill="none"/>
<circle cx="1439.7" cy="192.3" r="1.8" fill="#000"/>
<path d="M1444.6,209.4V155.9M1437.1,155.9h15.0M1437.1,209.4h15.0" stroke="#000" stroke-width="1.0" stroke-opacity="0.8" fill="none"/>
<path d="M1437.4,180.0H1451.2M1437.4,180.0v0.0M1451.2,180.0v0.0" stroke="#000" stroke-width="1.0" stroke-opacity="0.8" fill="none"/>
<path d="M1447.6,211.6V158.1M1442.1,158.1h11.0M1442.1,211.6h11.0" stroke="#000" stroke-width="1.0" stroke-opacity="0.8" fill="none"/>
<path d="M1440.6,183.1H1455.4M1440.6,183.1v0.0M1455.4,183.1v0.0" stroke="#000" stroke-width="1.0" stroke-opacity="0.8" fill="none"/>
<circle cx="1445.9" cy="172.6" r="2.6" fill="#000"/>
<circle cx="1448.2" cy="175.2" r="2.4" fill="#000"/>
<path d="M1453.8,180.9V138.1M1446.8,138.1h14.0M1446.8,180.9h14.0" stroke="#000" stroke-width="1.2" fill="none"/>
<path d="M1453.8,178.3V149.3" stroke="#000" stroke-width="4.2" stroke-opacity="1" fill="none"/>
<circle cx="1453.8" cy="150.7" r="2.4" fill="#000"/>
<path d="M1460.1,183.1V133.1M1453.2,133.1h13.8M1453.2,183.1h13.8" stroke="#000" stroke-width="1.0" stroke-opacity="0.8" fill="none"/>
<path d="M1460.1,172.1V143.6" stroke="#000" stroke-width="3.2" stroke-opacity="0.55" fill="none"/>
<circle cx="1460.1" cy="153.3" r="2.2" fill="#000"/>
<path d="M1457.0,190.5V171.3M1451.5,171.3h11.0M1451.5,190.5h11.0" stroke="#000" stroke-width="1.3" fill="none"/>
<path d="M1457.0,187.5V174.3" stroke="#000" stroke-width="2.6" stroke-opacity="1" fill="none"/>
<circle cx="1457.0" cy="180.9" r="1.8" fill="#000"/>
<path d="M1458.4,197.6V178.3M1452.9,178.3h11.0M1452.9,197.6h11.0" stroke="#000" stroke-width="1.3" fill="none"/>
<path d="M1458.4,194.5V181.3" stroke="#000" stroke-width="2.6" stroke-opacity="1" fill="none"/>
<circle cx="1458.4" cy="187.9" r="1.8" fill="#000"/>
<path d="M1459.7,203.7V184.4M1454.2,184.4h11.0M1454.2,203.7h11.0" stroke="#000" stroke-width="1.3" fill="none"/>
<path d="M1459.7,200.6V187.5" stroke="#000" stroke-width="2.6" stroke-opacity="1" fill="none"/>
<circle cx="1459.7" cy="194.0" r="1.8" fill="#000"/>
<path d="M1450.9,218.2V180.9M1450.9,180.9h0.0M1450.9,218.2h0.0" stroke="#000" stroke-width="1.2" stroke-opacity="0.7" fill="none"/>
<circle cx="1450.9" cy="194.9" r="2.3" fill="#000"/>
<path d="M1450.1,197.8H1468.2M1450.1,197.8v0.0M1468.2,197.8v0.0" stroke="#000" stroke-width="1.1" fill="none"/>
<circle cx="1460.8" cy="197.8" r="2.3" fill="#000"/>
<path d="M1467.8,211.6V166.0M1461.0,166.0h13.6M1461.0,211.6h13.6" stroke="#000" stroke-width="1.1" fill="none"/>
<path d="M1460.7,186.4H1475.1M1460.7,181.4v10.0M1475.1,181.4v10.0" stroke="#000" stroke-width="1.1" fill="none"/>
<circle cx="1467.8" cy="186.4" r="2.3" fill="#000"/>
<path d="M1498.9,201.1H1518.0M1498.9,196.1v10.0M1518.0,196.1v10.0" stroke="#000" stroke-width="1.0" stroke-opacity="0.8" fill="none"/>
<circle cx="1508.3" cy="201.1" r="2.2" fill="#000"/>
<path d="M1475.6,203.3H1488.3M1475.6,193.3v20.0M1488.3,193.3v20.0" stroke="#000" stroke-width="1.0" fill="none"/>
<path d="M1488.3,222.5V165.6M1488.3,165.6h0.0M1488.3,222.5h0.0" stroke="#000" stroke-width="1.3" fill="none"/>
<path d="M1475.5,216.0V167.7M1475.5,167.7h0.0M1475.5,216.0h0.0" stroke="#000" stroke-width="1.0" stroke-opacity="0.8" fill="none"/>
<path d="M1490.4,204.1H1504.2M1490.4,204.1v0.0M1504.2,204.1v0.0" stroke="#000" stroke-width="2.0" fill="none"/>
<path d="M1496.6,236.1V178.7M1490.6,178.7h12.0M1490.6,236.1h12.0" stroke="#000" stroke-width="1.3" fill="none"/>
<path d="M1496.6,222.5V205.0" stroke="#000" stroke-width="2.6" stroke-opacity="1" fill="none"/>
<path d="M1505.3,240.7V180.9M1498.8,180.9h13.0M1498.8,240.7h13.0" stroke="#000" stroke-width="1.2" fill="none"/>
<path d="M1505.3,233.5V220.3" stroke="#000" stroke-width="2.6" stroke-opacity="0.7" fill="none"/>
<path d="M1487.3,190.1H1506.4M1487.3,184.1v12.0M1506.4,184.1v12.0" stroke="#000" stroke-width="1.0" fill="none"/>
<path d="M1472.4,220.3H1488.9M1472.4,216.3v8.0M1488.9,216.3v8.0" stroke="#000" stroke-width="1.0" stroke-opacity="0.8" fill="none"/>
<path d="M1475.6,180.9H1504.2M1475.6,175.9v10.0M1504.2,175.9v10.0" stroke="#000" stroke-width="1.0" stroke-opacity="0.6" fill="none"/>
<path d="M1460.7,166.0H1474.5M1460.7,166.0v0.0M1474.5,166.0v0.0" stroke="#000" stroke-width="1.0" stroke-opacity="0.8" fill="none"/>
<path d="M1474.4,224.7V166.0M1474.4,166.0h0.0M1474.4,224.7h0.0" stroke="#000" stroke-width="1.0" stroke-opacity="0.8" fill="none"/>
<path d="M1402.9,118.7V101.1M1396.4,101.1h13.0M1396.4,118.7h13.0" stroke="#000" stroke-width="1.3" fill="none"/>
<path d="M1402.9,109.9V109.9" stroke="#000" stroke-width="0" stroke-opacity="1" fill="none"/>
<path d="M1403.9,131.4V112.1M1396.9,112.1h14.0M1396.9,131.4h14.0" stroke="#000" stroke-width="1.3" fill="none"/>
<path d="M1403.9,121.7V121.7" stroke="#000" stroke-width="0" stroke-opacity="1" fill="none"/>
<path d="M1416.1,120.8V98.9M1408.6,98.9h15.0M1408.6,120.8h15.0" stroke="#000" stroke-width="1.3" fill="none"/>
<path d="M1416.1,117.8V102.0" stroke="#000" stroke-width="2.4" stroke-opacity="1" fill="none"/>
<circle cx="1416.1" cy="109.9" r="1.8" fill="#000"/>
<path d="M1410.8,143.6V126.1M1402.3,126.1h17.0M1402.3,143.6h17.0" stroke="#000" stroke-width="1.3" fill="none"/>
<path d="M1410.8,141.0V128.7" stroke="#000" stroke-width="2.6" stroke-opacity="1" fill="none"/>
<circle cx="1410.8" cy="134.9" r="1.8" fill="#000"/>
<path d="M1417.8,148.0V121.7M1411.3,121.7h13.0M1411.3,148.0h13.0" stroke="#000" stroke-width="1.3" fill="none"/>
<path d="M1417.8,144.5V125.2" stroke="#000" stroke-width="3.0" stroke-opacity="1" fill="none"/>
<circle cx="1417.8" cy="134.9" r="1.8" fill="#000"/>
<path d="M1407.1,118.7V101.1M1402.1,101.1h10.0M1402.1,118.7h10.0" stroke="#000" stroke-width="1.3" fill="none"/>
<path d="M1407.1,116.9V102.9" stroke="#000" stroke-width="3.0" stroke-opacity="1" fill="none"/>
<circle cx="1407.1" cy="109.9" r="1.8" fill="#000"/>
<path d="M1504.2,224.7V183.1M1504.2,183.1h0.0M1504.2,224.7h0.0" stroke="#000" stroke-width="1.2" stroke-opacity="0.85" fill="none"/>
<path d="M1509.2,216.0V185.3M1504.2,185.3h10.0M1504.2,216.0h10.0" stroke="#000" stroke-width="1.1" stroke-opacity="0.8" fill="none"/>
<path d="M1511.0,222.5V198.4M1506.0,198.4h10.0M1506.0,222.5h10.0" stroke="#000" stroke-width="1.1" stroke-opacity="0.8" fill="none"/>
<path d="M1504.2,210.3H1518.0M1504.2,206.3v8.0M1518.0,206.3v8.0" stroke="#000" stroke-width="1.1" stroke-opacity="0.8" fill="none"/>
<path d="M1465.8,220.3V193.2M1461.8,193.2h8.0M1461.8,220.3h8.0" stroke="#000" stroke-width="1.1" stroke-opacity="0.75" fill="none"/>
<path d="M1459.7,206.9H1472.4M1459.7,203.9v6.0M1472.4,203.9v6.0" stroke="#000" stroke-width="1.1" stroke-opacity="0.75" fill="none"/>
<path d="M1491.5,216.0V178.7M1486.5,178.7h10.0M1486.5,216.0h10.0" stroke="#000" stroke-width="1.1" stroke-opacity="0.7" fill="none"/>
<path d="M1501.1,226.9V191.9M1496.1,191.9h10.0M1496.1,226.9h10.0" stroke="#000" stroke-width="1.1" stroke-opacity="0.7" fill="none"/>
<path d="M1445.9,185.3H1460.7M1445.9,181.3v8.0M1460.7,181.3v8.0" stroke="#000" stroke-width="1.0" stroke-opacity="0.7" fill="none"/>
<path d="M1433.1,167.7H1448.0M1433.1,163.7v8.0M1448.0,163.7v8.0" stroke="#000" stroke-width="1.0" stroke-opacity="0.7" fill="none"/>
<path d="M1423.6,191.9H1436.3M1423.6,188.9v6.0M1436.3,188.9v6.0" stroke="#000" stroke-width="1.0" stroke-opacity="0.7" fill="none"/>
</g>
<g clip-path="url(#cp10)">
<path d="M410.4,535.8H516.6M410.4,529.1v13.4M516.6,529.1v13.4" stroke="#000" stroke-width="1.7" stroke-opacity="0.85" fill="none"/>
<circle cx="473.7" cy="535.8" r="2.3" fill="#000"/>
<path d="M473.7,575.4V504.2M467.0,504.2h13.4M467.0,575.4h13.4" stroke="#000" stroke-width="1.5" stroke-opacity="0.9" fill="none"/>
<path d="M356.8,547.8V485.7M350.1,485.7h13.4M350.1,547.8h13.4" stroke="#000" stroke-width="1.6" fill="none"/>
<circle cx="356.8" cy="515.0" r="2.2" fill="#000"/>
<path d="M304.3,515.0H410.4M304.3,508.4v13.2M410.4,508.4v13.2" stroke="#000" stroke-width="1.1" stroke-opacity="0.75" fill="none"/>
<path d="M283.4,516.4V469.3M276.7,469.3h13.4M276.7,516.4h13.4" stroke="#000" stroke-width="1.2" fill="none"/>
<path d="M261.3,492.3H306.4M261.3,485.7v13.2M306.4,485.7v13.2" stroke="#000" stroke-width="1.2" fill="none"/>
<circle cx="283.4" cy="492.3" r="2.2" fill="#000"/>
<path d="M272.5,575.4V421.5M265.5,421.5h14.0M265.5,575.4h14.0" stroke="#000" stroke-width="1.8" fill="none"/>
<circle cx="272.5" cy="473.8" r="2.2" fill="#000"/>
<path d="M276.7,480.3V469.3M270.7,469.3h12.0M270.7,480.3h12.0" stroke="#000" stroke-width="1.1" fill="none"/>
<path d="M269.3,475.0H283.4M269.3,469.5v11.0M283.4,469.5v11.0" stroke="#000" stroke-width="1.1" fill="none"/>
<circle cx="276.7" cy="475.0" r="2.0" fill="#000"/>
<path d="M283.6,446.5H307.0M283.6,439.5v14.0M307.0,439.5v14.0" stroke="#000" stroke-width="1.2" fill="none"/>
<circle cx="295.3" cy="446.5" r="2.2" fill="#000"/>
<path d="M295.3,575.4V381.0M288.6,381.0h13.4M288.6,575.4h13.4" stroke="#000" stroke-width="1.5" stroke-opacity="0.62" fill="none"/>
<path d="M253.1,575.4V481.6M246.6,481.6h13.0M246.6,575.4h13.0" stroke="#000" stroke-width="1.3" fill="none"/>
<path d="M245.2,524.7H261.5M245.2,517.7v14.0M261.5,517.7v14.0" stroke="#000" stroke-width="1.3" fill="none"/>
<circle cx="253.1" cy="524.7" r="2.3" fill="#000"/>
<path d="M253.3,481.6V443.9M247.0,443.9h12.6M247.0,481.6h12.6" stroke="#000" stroke-width="1.2" fill="none"/>
<path d="M245.4,461.4H261.3M245.4,449.4v24.0M261.3,449.4v24.0" stroke="#000" stroke-width="1.2" fill="none"/>
<circle cx="253.3" cy="461.4" r="2.2" fill="#000"/>
<path d="M244.1,497.4V365.7M237.2,365.7h13.8M237.2,497.4h13.8" stroke="#000" stroke-width="1.8" stroke-opacity="0.78" fill="none"/>
<circle cx="244.1" cy="449.8" r="2.2" fill="#000"/>
<path d="M229.1,427.2H245.1M229.1,420.4v13.6M245.1,420.4v13.6" stroke="#000" stroke-width="1.2" stroke-opacity="0.75" fill="none"/>
<circle cx="237.2" cy="427.2" r="2.2" fill="#000"/>
<path d="M237.2,468.0V390.1M230.5,390.1h13.4M230.5,468.0h13.4" stroke="#000" stroke-width="1.2" stroke-opacity="0.6" fill="none"/>
<path d="M207.4,461.4V407.5M200.7,407.5h13.4M200.7,461.4h13.4" stroke="#000" stroke-width="1.2" stroke-opacity="0.55" fill="none"/>
<path d="M185.9,434.6H228.9M185.9,427.6v14.0M228.9,427.6v14.0" stroke="#000" stroke-width="1.2" stroke-opacity="0.55" fill="none"/>
<circle cx="207.4" cy="434.6" r="2.0" fill="#000"/>
<path d="M235.8,497.4H249.6M235.8,497.4v0.0M249.6,497.4v0.0" stroke="#000" stroke-width="1.0" fill="none"/>
<circle cx="242.7" cy="497.4" r="2.2" fill="#000"/>
<path d="M193.6,516.5V429.0M186.8,429.0h13.6M186.8,516.5h13.6" stroke="#000" stroke-width="1.2" fill="none"/>
<path d="M187.0,486.2H200.8M187.0,481.2v10.0M200.8,481.2v10.0" stroke="#000" stroke-width="1.2" fill="none"/>
<circle cx="193.6" cy="486.2" r="2.2" fill="#000"/>
<path d="M207.0,510.3V424.2M200.0,424.2h14.0M200.0,510.3h14.0" stroke="#000" stroke-width="1.2" fill="none"/>
<circle cx="207.0" cy="466.3" r="2.2" fill="#000"/>
<circle cx="222.4" cy="476.8" r="3.0" fill="#000"/>
<path d="M222.7,499.1V475.9M217.2,475.9h11.0M217.2,499.1h11.0" stroke="#000" stroke-width="1.2" fill="none"/>
<path d="M216.4,487.7H229.6M216.4,483.7v8.0M229.6,483.7v8.0" stroke="#000" stroke-width="1.2" fill="none"/>
<circle cx="222.7" cy="487.7" r="2.2" fill="#000"/>
<circle cx="235.0" cy="463.6" r="2.2" fill="#000"/>
<circle cx="236.8" cy="473.3" r="2.2" fill="#000"/>
<circle cx="231.1" cy="490.4" r="2.0" fill="#000"/>
<circle cx="221.5" cy="453.1" r="2.0" fill="#000"/>
<path d="M187.0,489.9V461.4M187.0,461.4h0.0M187.0,489.9h0.0" stroke="#000" stroke-width="1.0" stroke-opacity="0.6" fill="none"/>
<circle cx="187.0" cy="475.5" r="2.2" fill="#000"/>
<circle cx="191.6" cy="469.9" r="2.2" fill="#000"/>
<path d="M167.6,476.8V449.6M161.6,449.6h12.0M161.6,476.8h12.0" stroke="#000" stroke-width="1.2" fill="none"/>
<path d="M158.2,463.3H171.9M158.2,463.3v0.0M171.9,463.3v0.0" stroke="#000" stroke-width="1.2" fill="none"/>
<circle cx="167.6" cy="463.3" r="2.3" fill="#000"/>
<circle cx="163.9" cy="467.0" r="2.4" fill="#000"/>
<circle cx="152.8" cy="470.5" r="2.4" fill="#000"/>
<circle cx="133.8" cy="452.7" r="2.3" fill="#000"/>
<circle cx="157.9" cy="351.2" r="2.4" fill="#000"/>
<circle cx="174.8" cy="405.5" r="2.3" fill="#000"/>
<circle cx="168.9" cy="412.2" r="2.3" fill="#000"/>
<path d="M129.5,348.3V329.3M122.3,329.3h14.4M122.3,348.3h14.4" stroke="#000" stroke-width="1.35" fill="none"/>
<path d="M129.5,345.9V331.7" stroke="#000" stroke-width="2.6" stroke-opacity="1" fill="none"/>
<circle cx="129.5" cy="338.7" r="2.3" fill="#000"/>
<path d="M130.4,374.2V358.4M125.8,358.4h9.2M125.8,374.2h9.2" stroke="#000" stroke-width="1.3" fill="none"/>
<path d="M130.4,372.0V360.6" stroke="#000" stroke-width="2.8" stroke-opacity="1" fill="none"/>
<circle cx="130.4" cy="366.3" r="2.0" fill="#000"/>
<path d="M139.0,380.6V351.2M132.0,351.2h14.0M132.0,380.6h14.0" stroke="#000" stroke-width="1.7" fill="none"/>
<path d="M139.0,377.7V354.0" stroke="#000" stroke-width="3.2" stroke-opacity="1" fill="none"/>
<circle cx="139.0" cy="365.9" r="2.0" fill="#000"/>
<path d="M133.8,395.2V368.1M128.3,368.1h11.0M128.3,395.2h11.0" stroke="#000" stroke-width="1.3" fill="none"/>
<path d="M133.8,392.6V370.7" stroke="#000" stroke-width="3.4" stroke-opacity="1" fill="none"/>
<circle cx="133.8" cy="381.7" r="2.0" fill="#000"/>
<path d="M136.1,385.6V366.3M129.6,366.3h13.0M129.6,385.6h13.0" stroke="#000" stroke-width="1.3" fill="none"/>
<path d="M136.1,383.8V368.1" stroke="#000" stroke-width="3.0" stroke-opacity="1" fill="none"/>
<circle cx="136.1" cy="376.0" r="2.0" fill="#000"/>
<path d="M131.8,386.9V369.4M125.8,369.4h12.0M125.8,386.9h12.0" stroke="#000" stroke-width="1.3" fill="none"/>
<path d="M131.8,384.7V371.6" stroke="#000" stroke-width="2.6" stroke-opacity="1" fill="none"/>
<circle cx="131.8" cy="378.1" r="2.0" fill="#000"/>
<path d="M131.3,394.8V380.8M125.8,380.8h11.0M125.8,394.8h11.0" stroke="#000" stroke-width="1.3" fill="none"/>
<path d="M131.3,393.1V382.5" stroke="#000" stroke-width="2.6" stroke-opacity="1" fill="none"/>
<circle cx="131.3" cy="387.8" r="2.0" fill="#000"/>
<path d="M143.6,405.8V376.8M136.8,376.8h13.6M136.8,405.8h13.6" stroke="#000" stroke-width="1.3" fill="none"/>
<path d="M143.6,403.1V379.5" stroke="#000" stroke-width="3.0" stroke-opacity="1" fill="none"/>
<circle cx="143.6" cy="391.3" r="2.0" fill="#000"/>
<path d="M140.8,394.4V372.5M134.8,372.5h12.0M134.8,394.4h12.0" stroke="#000" stroke-width="1.3" fill="none"/>
<path d="M140.8,392.2V374.6" stroke="#000" stroke-width="2.8" stroke-opacity="1" fill="none"/>
<circle cx="140.8" cy="383.4" r="2.0" fill="#000"/>
<path d="M135.0,397.0V381.2M128.0,381.2h14.0M128.0,397.0h14.0" stroke="#000" stroke-width="1.3" fill="none"/>
<path d="M135.0,395.2V383.0" stroke="#000" stroke-width="3.0" stroke-opacity="1" fill="none"/>
<circle cx="135.0" cy="389.1" r="2.0" fill="#000"/>
<path d="M137.6,397.4V374.6M132.6,374.6h10.0M132.6,397.4h10.0" stroke="#000" stroke-width="1.3" fill="none"/>
<path d="M137.6,394.8V377.3" stroke="#000" stroke-width="2.6" stroke-opacity="1" fill="none"/>
<circle cx="137.6" cy="386.0" r="2.0" fill="#000"/>
<path d="M145.6,428.6V411.0M140.1,411.0h11.0M140.1,428.6h11.0" stroke="#000" stroke-width="1.3" fill="none"/>
<path d="M145.6,425.5V414.1" stroke="#000" stroke-width="2.8" stroke-opacity="1" fill="none"/>
<circle cx="145.6" cy="419.8" r="1.8" fill="#000"/>
<path d="M147.0,436.0V418.5M142.5,418.5h9.0M142.5,436.0h9.0" stroke="#000" stroke-width="1.3" fill="none"/>
<path d="M147.0,432.9V421.5" stroke="#000" stroke-width="2.8" stroke-opacity="1" fill="none"/>
<circle cx="147.0" cy="427.2" r="1.8" fill="#000"/>
<path d="M148.5,443.9V426.4M143.0,426.4h11.0M143.0,443.9h11.0" stroke="#000" stroke-width="1.3" fill="none"/>
<path d="M148.5,440.8V429.4" stroke="#000" stroke-width="2.8" stroke-opacity="1" fill="none"/>
<circle cx="148.5" cy="435.1" r="1.8" fill="#000"/>
<path d="M150.0,451.8V434.3M145.5,434.3h9.0M145.5,451.8h9.0" stroke="#000" stroke-width="1.3" fill="none"/>
<path d="M150.0,448.7V437.3" stroke="#000" stroke-width="2.8" stroke-opacity="1" fill="none"/>
<circle cx="150.0" cy="443.0" r="1.8" fill="#000"/>
<path d="M151.4,458.8V441.3M145.9,441.3h11.0M145.9,458.8h11.0" stroke="#000" stroke-width="1.3" fill="none"/>
<path d="M151.4,455.7V444.3" stroke="#000" stroke-width="2.8" stroke-opacity="1" fill="none"/>
<circle cx="151.4" cy="450.0" r="1.8" fill="#000"/>
<path d="M153.8,449.2V419.4M147.8,419.4h12.0M147.8,449.2h12.0" stroke="#000" stroke-width="1.3" fill="none"/>
<path d="M153.8,444.8V423.7" stroke="#000" stroke-width="3.4" stroke-opacity="1" fill="none"/>
<circle cx="153.8" cy="434.3" r="1.8" fill="#000"/>
<path d="M156.4,450.5V432.9M151.4,432.9h10.0M151.4,450.5h10.0" stroke="#000" stroke-width="1.3" fill="none"/>
<path d="M156.4,447.8V435.6" stroke="#000" stroke-width="2.4" stroke-opacity="1" fill="none"/>
<circle cx="156.4" cy="441.7" r="1.8" fill="#000"/>
<path d="M159.6,436.9V408.8M152.8,408.8h13.6M152.8,436.9h13.6" stroke="#000" stroke-width="1.3" fill="none"/>
<path d="M159.6,431.6V414.1" stroke="#000" stroke-width="3.2" stroke-opacity="1" fill="none"/>
<circle cx="159.6" cy="422.9" r="1.8" fill="#000"/>
<path d="M161.5,440.4V422.9M156.5,422.9h10.0M156.5,440.4h10.0" stroke="#000" stroke-width="1.3" fill="none"/>
<path d="M161.5,437.8V425.5" stroke="#000" stroke-width="3.0" stroke-opacity="1" fill="none"/>
<circle cx="161.5" cy="431.6" r="1.8" fill="#000"/>
<path d="M162.9,448.3V430.8M156.9,430.8h12.0M156.9,448.3h12.0" stroke="#000" stroke-width="1.3" fill="none"/>
<path d="M162.9,445.7V433.4" stroke="#000" stroke-width="3.0" stroke-opacity="1" fill="none"/>
<circle cx="162.9" cy="439.5" r="1.8" fill="#000"/>
<path d="M164.2,456.2V438.6M159.2,438.6h10.0M159.2,456.2h10.0" stroke="#000" stroke-width="1.3" fill="none"/>
<path d="M164.2,453.5V441.3" stroke="#000" stroke-width="3.0" stroke-opacity="1" fill="none"/>
<circle cx="164.2" cy="447.4" r="1.8" fill="#000"/>
<path d="M165.5,464.1V446.5M159.5,446.5h12.0M159.5,464.1h12.0" stroke="#000" stroke-width="1.3" fill="none"/>
<path d="M165.5,461.4V449.2" stroke="#000" stroke-width="3.0" stroke-opacity="1" fill="none"/>
<circle cx="165.5" cy="455.3" r="1.8" fill="#000"/>
<path d="M170.3,472.4V418.9M162.8,418.9h15.0M162.8,472.4h15.0" stroke="#000" stroke-width="1.0" stroke-opacity="0.8" fill="none"/>
<path d="M163.1,443.0H176.9M163.1,443.0v0.0M176.9,443.0v0.0" stroke="#000" stroke-width="1.0" stroke-opacity="0.8" fill="none"/>
<path d="M173.3,474.6V421.1M167.8,421.1h11.0M167.8,474.6h11.0" stroke="#000" stroke-width="1.0" stroke-opacity="0.8" fill="none"/>
<path d="M166.3,446.1H181.2M166.3,446.1v0.0M181.2,446.1v0.0" stroke="#000" stroke-width="1.0" stroke-opacity="0.8" fill="none"/>
<circle cx="171.6" cy="435.6" r="2.6" fill="#000"/>
<circle cx="173.9" cy="438.2" r="2.4" fill="#000"/>
<path d="M179.6,443.9V401.1M172.6,401.1h14.0M172.6,443.9h14.0" stroke="#000" stroke-width="1.2" fill="none"/>
<path d="M179.6,441.3V412.3" stroke="#000" stroke-width="4.2" stroke-opacity="1" fill="none"/>
<circle cx="179.6" cy="413.7" r="2.4" fill="#000"/>
<path d="M185.8,446.1V396.1M178.9,396.1h13.8M178.9,446.1h13.8" stroke="#000" stroke-width="1.0" stroke-opacity="0.8" fill="none"/>
<path d="M185.8,435.1V406.6" stroke="#000" stroke-width="3.2" stroke-opacity="0.55" fill="none"/>
<circle cx="185.8" cy="416.3" r="2.2" fill="#000"/>
<path d="M182.8,453.5V434.3M177.3,434.3h11.0M177.3,453.5h11.0" stroke="#000" stroke-width="1.3" fill="none"/>
<path d="M182.8,450.5V437.3" stroke="#000" stroke-width="2.6" stroke-opacity="1" fill="none"/>
<circle cx="182.8" cy="443.9" r="1.8" fill="#000"/>
<path d="M184.1,460.6V441.3M178.6,441.3h11.0M178.6,460.6h11.0" stroke="#000" stroke-width="1.3" fill="none"/>
<path d="M184.1,457.5V444.3" stroke="#000" stroke-width="2.6" stroke-opacity="1" fill="none"/>
<circle cx="184.1" cy="450.9" r="1.8" fill="#000"/>
<path d="M185.4,466.7V447.4M179.9,447.4h11.0M179.9,466.7h11.0" stroke="#000" stroke-width="1.3" fill="none"/>
<path d="M185.4,463.6V450.5" stroke="#000" stroke-width="2.6" stroke-opacity="1" fill="none"/>
<circle cx="185.4" cy="457.0" r="1.8" fill="#000"/>
<path d="M176.6,481.2V443.9M176.6,443.9h0.0M176.6,481.2h0.0" stroke="#000" stroke-width="1.2" stroke-opacity="0.7" fill="none"/>
<circle cx="176.6" cy="457.9" r="2.3" fill="#000"/>
<path d="M175.9,460.8H193.9M175.9,460.8v0.0M193.9,460.8v0.0" stroke="#000" stroke-width="1.1" fill="none"/>
<circle cx="186.6" cy="460.8" r="2.3" fill="#000"/>
<path d="M193.6,474.6V429.0M186.8,429.0h13.6M186.8,474.6h13.6" stroke="#000" stroke-width="1.1" fill="none"/>
<path d="M186.5,449.4H200.8M186.5,444.4v10.0M200.8,444.4v10.0" stroke="#000" stroke-width="1.1" fill="none"/>
<circle cx="193.6" cy="449.4" r="2.3" fill="#000"/>
<path d="M224.7,464.1H243.8M224.7,459.1v10.0M243.8,459.1v10.0" stroke="#000" stroke-width="1.0" stroke-opacity="0.8" fill="none"/>
<circle cx="234.0" cy="464.1" r="2.2" fill="#000"/>
<path d="M201.3,466.3H214.1M201.3,456.3v20.0M214.1,456.3v20.0" stroke="#000" stroke-width="1.0" fill="none"/>
<path d="M214.1,485.5V428.6M214.1,428.6h0.0M214.1,485.5h0.0" stroke="#000" stroke-width="1.3" fill="none"/>
<path d="M201.2,479.0V430.8M201.2,430.8h0.0M201.2,479.0h0.0" stroke="#000" stroke-width="1.0" stroke-opacity="0.8" fill="none"/>
<path d="M216.2,467.1H230.0M216.2,467.1v0.0M230.0,467.1v0.0" stroke="#000" stroke-width="2.0" fill="none"/>
<path d="M222.4,499.1V441.7M216.4,441.7h12.0M216.4,499.1h12.0" stroke="#000" stroke-width="1.3" fill="none"/>
<path d="M222.4,485.5V468.0" stroke="#000" stroke-width="2.6" stroke-opacity="1" fill="none"/>
<path d="M231.1,503.7V443.9M224.6,443.9h13.0M224.6,503.7h13.0" stroke="#000" stroke-width="1.2" fill="none"/>
<path d="M231.1,496.5V483.3" stroke="#000" stroke-width="2.6" stroke-opacity="0.7" fill="none"/>
<path d="M213.0,453.1H232.1M213.0,447.1v12.0M232.1,447.1v12.0" stroke="#000" stroke-width="1.0" fill="none"/>
<path d="M198.2,483.3H214.6M198.2,479.3v8.0M214.6,479.3v8.0" stroke="#000" stroke-width="1.0" stroke-opacity="0.8" fill="none"/>
<path d="M201.3,443.9H230.0M201.3,438.9v10.0M230.0,438.9v10.0" stroke="#000" stroke-width="1.0" stroke-opacity="0.6" fill="none"/>
<path d="M186.5,429.0H200.3M186.5,429.0v0.0M200.3,429.0v0.0" stroke="#000" stroke-width="1.0" stroke-opacity="0.8" fill="none"/>
<path d="M200.2,487.7V429.0M200.2,429.0h0.0M200.2,487.7h0.0" stroke="#000" stroke-width="1.0" stroke-opacity="0.8" fill="none"/>
<path d="M128.6,381.7V364.1M122.1,364.1h13.0M122.1,381.7h13.0" stroke="#000" stroke-width="1.3" fill="none"/>
<path d="M128.6,372.9V372.9" stroke="#000" stroke-width="0" stroke-opacity="1" fill="none"/>
<path d="M129.7,394.4V375.1M122.7,375.1h14.0M122.7,394.4h14.0" stroke="#000" stroke-width="1.3" fill="none"/>
<path d="M129.7,384.7V384.7" stroke="#000" stroke-width="0" stroke-opacity="1" fill="none"/>
<path d="M141.9,383.8V361.9M134.4,361.9h15.0M134.4,383.8h15.0" stroke="#000" stroke-width="1.3" fill="none"/>
<path d="M141.9,380.8V365.0" stroke="#000" stroke-width="2.4" stroke-opacity="1" fill="none"/>
<circle cx="141.9" cy="372.9" r="1.8" fill="#000"/>
<path d="M136.6,406.6V389.1M128.1,389.1h17.0M128.1,406.6h17.0" stroke="#000" stroke-width="1.3" fill="none"/>
<path d="M136.6,404.0V391.7" stroke="#000" stroke-width="2.6" stroke-opacity="1" fill="none"/>
<circle cx="136.6" cy="397.9" r="1.8" fill="#000"/>
<path d="M143.6,411.0V384.7M137.1,384.7h13.0M137.1,411.0h13.0" stroke="#000" stroke-width="1.3" fill="none"/>
<path d="M143.6,407.5V388.2" stroke="#000" stroke-width="3.0" stroke-opacity="1" fill="none"/>
<circle cx="143.6" cy="397.9" r="1.8" fill="#000"/>
<path d="M132.9,381.7V364.1M127.9,364.1h10.0M127.9,381.7h10.0" stroke="#000" stroke-width="1.3" fill="none"/>
<path d="M132.9,379.9V365.9" stroke="#000" stroke-width="3.0" stroke-opacity="1" fill="none"/>
<circle cx="132.9" cy="372.9" r="1.8" fill="#000"/>
<path d="M230.0,487.7V446.1M230.0,446.1h0.0M230.0,487.7h0.0" stroke="#000" stroke-width="1.2" stroke-opacity="0.85" fill="none"/>
<path d="M235.0,479.0V448.3M230.0,448.3h10.0M230.0,479.0h10.0" stroke="#000" stroke-width="1.1" stroke-opacity="0.8" fill="none"/>
<path d="M236.8,485.5V461.4M231.8,461.4h10.0M231.8,485.5h10.0" stroke="#000" stroke-width="1.1" stroke-opacity="0.8" fill="none"/>
<path d="M230.0,473.3H243.8M230.0,469.3v8.0M243.8,469.3v8.0" stroke="#000" stroke-width="1.1" stroke-opacity="0.8" fill="none"/>
<path d="M191.6,483.3V456.2M187.6,456.2h8.0M187.6,483.3h8.0" stroke="#000" stroke-width="1.1" stroke-opacity="0.75" fill="none"/>
<path d="M185.4,469.9H198.2M185.4,466.9v6.0M198.2,466.9v6.0" stroke="#000" stroke-width="1.1" stroke-opacity="0.75" fill="none"/>
<path d="M217.3,479.0V441.7M212.3,441.7h10.0M212.3,479.0h10.0" stroke="#000" stroke-width="1.1" stroke-opacity="0.7" fill="none"/>
<path d="M226.8,489.9V454.9M221.8,454.9h10.0M221.8,489.9h10.0" stroke="#000" stroke-width="1.1" stroke-opacity="0.7" fill="none"/>
<path d="M171.6,448.3H186.5M171.6,444.3v8.0M186.5,444.3v8.0" stroke="#000" stroke-width="1.0" stroke-opacity="0.7" fill="none"/>
<path d="M158.9,430.8H173.7M158.9,426.8v8.0M173.7,426.8v8.0" stroke="#000" stroke-width="1.0" stroke-opacity="0.7" fill="none"/>
<path d="M149.3,454.9H162.1M149.3,451.9v6.0M162.1,451.9v6.0" stroke="#000" stroke-width="1.0" stroke-opacity="0.7" fill="none"/>
</g>
<g clip-path="url(#cp11)">
<path d="M835.0,535.8H941.1M835.0,529.1v13.4M941.1,529.1v13.4" stroke="#000" stroke-width="1.7" stroke-opacity="0.85" fill="none"/>
<circle cx="898.2" cy="535.8" r="2.3" fill="#000"/>
<path d="M898.2,575.4V504.2M891.5,504.2h13.4M891.5,575.4h13.4" stroke="#000" stroke-width="1.5" stroke-opacity="0.9" fill="none"/>
<path d="M781.3,547.8V485.7M774.6,485.7h13.4M774.6,547.8h13.4" stroke="#000" stroke-width="1.6" fill="none"/>
<circle cx="781.3" cy="515.0" r="2.2" fill="#000"/>
<path d="M728.8,515.0H835.0M728.8,508.4v13.2M835.0,508.4v13.2" stroke="#000" stroke-width="1.1" stroke-opacity="0.75" fill="none"/>
<path d="M707.9,516.4V469.3M701.2,469.3h13.4M701.2,516.4h13.4" stroke="#000" stroke-width="1.2" fill="none"/>
<path d="M685.8,492.3H730.9M685.8,485.7v13.2M730.9,485.7v13.2" stroke="#000" stroke-width="1.2" fill="none"/>
<circle cx="707.9" cy="492.3" r="2.2" fill="#000"/>
<path d="M697.0,575.4V421.5M690.0,421.5h14.0M690.0,575.4h14.0" stroke="#000" stroke-width="1.8" fill="none"/>
<circle cx="697.0" cy="473.8" r="2.2" fill="#000"/>
<path d="M701.2,480.3V469.3M695.2,469.3h12.0M695.2,480.3h12.0" stroke="#000" stroke-width="1.1" fill="none"/>
<path d="M693.8,475.0H707.9M693.8,469.5v11.0M707.9,469.5v11.0" stroke="#000" stroke-width="1.1" fill="none"/>
<circle cx="701.2" cy="475.0" r="2.0" fill="#000"/>
<path d="M708.1,446.5H731.5M708.1,439.5v14.0M731.5,439.5v14.0" stroke="#000" stroke-width="1.2" fill="none"/>
<circle cx="719.8" cy="446.5" r="2.2" fill="#000"/>
<path d="M719.8,575.4V381.0M713.1,381.0h13.4M713.1,575.4h13.4" stroke="#000" stroke-width="1.5" stroke-opacity="0.62" fill="none"/>
<path d="M677.6,575.4V481.6M671.1,481.6h13.0M671.1,575.4h13.0" stroke="#000" stroke-width="1.3" fill="none"/>
<path d="M669.7,524.7H686.0M669.7,517.7v14.0M686.0,517.7v14.0" stroke="#000" stroke-width="1.3" fill="none"/>
<circle cx="677.6" cy="524.7" r="2.3" fill="#000"/>
<path d="M677.8,481.6V443.9M671.5,443.9h12.6M671.5,481.6h12.6" stroke="#000" stroke-width="1.2" fill="none"/>
<path d="M669.9,461.4H685.8M669.9,449.4v24.0M685.8,449.4v24.0" stroke="#000" stroke-width="1.2" fill="none"/>
<circle cx="677.8" cy="461.4" r="2.2" fill="#000"/>
<path d="M668.6,497.4V365.7M661.7,365.7h13.8M661.7,497.4h13.8" stroke="#000" stroke-width="1.8" stroke-opacity="0.78" fill="none"/>
<circle cx="668.6" cy="449.8" r="2.2" fill="#000"/>
<path d="M653.6,427.2H669.6M653.6,420.4v13.6M669.6,420.4v13.6" stroke="#000" stroke-width="1.2" stroke-opacity="0.75" fill="none"/>
<circle cx="661.7" cy="427.2" r="2.2" fill="#000"/>
<path d="M661.7,468.0V390.1M655.0,390.1h13.4M655.0,468.0h13.4" stroke="#000" stroke-width="1.2" stroke-opacity="0.6" fill="none"/>
<path d="M631.9,461.4V407.5M625.2,407.5h13.4M625.2,461.4h13.4" stroke="#000" stroke-width="1.2" stroke-opacity="0.55" fill="none"/>
<path d="M610.4,434.6H653.4M610.4,427.6v14.0M653.4,427.6v14.0" stroke="#000" stroke-width="1.2" stroke-opacity="0.55" fill="none"/>
<circle cx="631.9" cy="434.6" r="2.0" fill="#000"/>
<path d="M660.3,497.4H674.1M660.3,497.4v0.0M674.1,497.4v0.0" stroke="#000" stroke-width="1.0" fill="none"/>
<circle cx="667.2" cy="497.4" r="2.2" fill="#000"/>
<path d="M618.1,516.5V429.0M611.3,429.0h13.6M611.3,516.5h13.6" stroke="#000" stroke-width="1.2" fill="none"/>
<path d="M611.5,486.2H625.3M611.5,481.2v10.0M625.3,481.2v10.0" stroke="#000" stroke-width="1.2" fill="none"/>
<circle cx="618.1" cy="486.2" r="2.2" fill="#000"/>
<path d="M631.5,510.3V424.2M624.5,424.2h14.0M624.5,510.3h14.0" stroke="#000" stroke-width="1.2" fill="none"/>
<circle cx="631.5" cy="466.3" r="2.2" fill="#000"/>
<circle cx="646.9" cy="476.8" r="3.0" fill="#000"/>
<path d="M647.2,499.1V475.9M641.7,475.9h11.0M641.7,499.1h11.0" stroke="#000" stroke-width="1.2" fill="none"/>
<path d="M640.9,487.7H654.1M640.9,483.7v8.0M654.1,483.7v8.0" stroke="#000" stroke-width="1.2" fill="none"/>
<circle cx="647.2" cy="487.7" r="2.2" fill="#000"/>
<circle cx="659.5" cy="463.6" r="2.2" fill="#000"/>
<circle cx="661.3" cy="473.3" r="2.2" fill="#000"/>
<circle cx="655.6" cy="490.4" r="2.0" fill="#000"/>
<circle cx="646.0" cy="453.1" r="2.0" fill="#000"/>
<path d="M611.5,489.9V461.4M611.5,461.4h0.0M611.5,489.9h0.0" stroke="#000" stroke-width="1.0" stroke-opacity="0.6" fill="none"/>
<circle cx="611.5" cy="475.5" r="2.2" fill="#000"/>
<circle cx="616.1" cy="469.9" r="2.2" fill="#000"/>
<path d="M592.1,476.8V449.6M586.1,449.6h12.0M586.1,476.8h12.0" stroke="#000" stroke-width="1.2" fill="none"/>
<path d="M582.7,463.3H596.4M582.7,463.3v0.0M596.4,463.3v0.0" stroke="#000" stroke-width="1.2" fill="none"/>
<circle cx="592.1" cy="463.3" r="2.3" fill="#000"/>
<circle cx="588.4" cy="467.0" r="2.4" fill="#000"/>
<circle cx="577.3" cy="470.5" r="2.4" fill="#000"/>
<circle cx="558.3" cy="452.7" r="2.3" fill="#000"/>
<circle cx="582.4" cy="351.2" r="2.4" fill="#000"/>
<circle cx="599.3" cy="405.5" r="2.3" fill="#000"/>
<circle cx="593.4" cy="412.2" r="2.3" fill="#000"/>
<path d="M554.0,348.3V329.3M546.8,329.3h14.4M546.8,348.3h14.4" stroke="#000" stroke-width="1.35" fill="none"/>
<path d="M554.0,345.9V331.7" stroke="#000" stroke-width="2.6" stroke-opacity="1" fill="none"/>
<circle cx="554.0" cy="338.7" r="2.3" fill="#000"/>
<path d="M554.9,374.2V358.4M550.3,358.4h9.2M550.3,374.2h9.2" stroke="#000" stroke-width="1.3" fill="none"/>
<path d="M554.9,372.0V360.6" stroke="#000" stroke-width="2.8" stroke-opacity="1" fill="none"/>
<circle cx="554.9" cy="366.3" r="2.0" fill="#000"/>
<path d="M563.5,380.6V351.2M556.5,351.2h14.0M556.5,380.6h14.0" stroke="#000" stroke-width="1.7" fill="none"/>
<path d="M563.5,377.7V354.0" stroke="#000" stroke-width="3.2" stroke-opacity="1" fill="none"/>
<circle cx="563.5" cy="365.9" r="2.0" fill="#000"/>
<path d="M558.3,395.2V368.1M552.8,368.1h11.0M552.8,395.2h11.0" stroke="#000" stroke-width="1.3" fill="none"/>
<path d="M558.3,392.6V370.7" stroke="#000" stroke-width="3.4" stroke-opacity="1" fill="none"/>
<circle cx="558.3" cy="381.7" r="2.0" fill="#000"/>
<path d="M560.6,385.6V366.3M554.1,366.3h13.0M554.1,385.6h13.0" stroke="#000" stroke-width="1.3" fill="none"/>
<path d="M560.6,383.8V368.1" stroke="#000" stroke-width="3.0" stroke-opacity="1" fill="none"/>
<circle cx="560.6" cy="376.0" r="2.0" fill="#000"/>
<path d="M556.3,386.9V369.4M550.3,369.4h12.0M550.3,386.9h12.0" stroke="#000" stroke-width="1.3" fill="none"/>
<path d="M556.3,384.7V371.6" stroke="#000" stroke-width="2.6" stroke-opacity="1" fill="none"/>
<circle cx="556.3" cy="378.1" r="2.0" fill="#000"/>
<path d="M555.8,394.8V380.8M550.3,380.8h11.0M550.3,394.8h11.0" stroke="#000" stroke-width="1.3" fill="none"/>
<path d="M555.8,393.1V382.5" stroke="#000" stroke-width="2.6" stroke-opacity="1" fill="none"/>
<circle cx="555.8" cy="387.8" r="2.0" fill="#000"/>
<path d="M568.1,405.8V376.8M561.3,376.8h13.6M561.3,405.8h13.6" stroke="#000" stroke-width="1.3" fill="none"/>
<path d="M568.1,403.1V379.5" stroke="#000" stroke-width="3.0" stroke-opacity="1" fill="none"/>
<circle cx="568.1" cy="391.3" r="2.0" fill="#000"/>
<path d="M565.3,394.4V372.5M559.3,372.5h12.0M559.3,394.4h12.0" stroke="#000" stroke-width="1.3" fill="none"/>
<path d="M565.3,392.2V374.6" stroke="#000" stroke-width="2.8" stroke-opacity="1" fill="none"/>
<circle cx="565.3" cy="383.4" r="2.0" fill="#000"/>
<path d="M559.5,397.0V381.2M552.5,381.2h14.0M552.5,397.0h14.0" stroke="#000" stroke-width="1.3" fill="none"/>
<path d="M559.5,395.2V383.0" stroke="#000" stroke-width="3.0" stroke-opacity="1" fill="none"/>
<circle cx="559.5" cy="389.1" r="2.0" fill="#000"/>
<path d="M562.1,397.4V374.6M557.1,374.6h10.0M557.1,397.4h10.0" stroke="#000" stroke-width="1.3" fill="none"/>
<path d="M562.1,394.8V377.3" stroke="#000" stroke-width="2.6" stroke-opacity="1" fill="none"/>
<circle cx="562.1" cy="386.0" r="2.0" fill="#000"/>
<path d="M570.1,428.6V411.0M564.6,411.0h11.0M564.6,428.6h11.0" stroke="#000" stroke-width="1.3" fill="none"/>
<path d="M570.1,425.5V414.1" stroke="#000" stroke-width="2.8" stroke-opacity="1" fill="none"/>
<circle cx="570.1" cy="419.8" r="1.8" fill="#000"/>
<path d="M571.5,436.0V418.5M567.0,418.5h9.0M567.0,436.0h9.0" stroke="#000" stroke-width="1.3" fill="none"/>
<path d="M571.5,432.9V421.5" stroke="#000" stroke-width="2.8" stroke-opacity="1" fill="none"/>
<circle cx="571.5" cy="427.2" r="1.8" fill="#000"/>
<path d="M573.0,443.9V426.4M567.5,426.4h11.0M567.5,443.9h11.0" stroke="#000" stroke-width="1.3" fill="none"/>
<path d="M573.0,440.8V429.4" stroke="#000" stroke-width="2.8" stroke-opacity="1" fill="none"/>
<circle cx="573.0" cy="435.1" r="1.8" fill="#000"/>
<path d="M574.5,451.8V434.3M570.0,434.3h9.0M570.0,451.8h9.0" stroke="#000" stroke-width="1.3" fill="none"/>
<path d="M574.5,448.7V437.3" stroke="#000" stroke-width="2.8" stroke-opacity="1" fill="none"/>
<circle cx="574.5" cy="443.0" r="1.8" fill="#000"/>
<path d="M575.9,458.8V441.3M570.4,441.3h11.0M570.4,458.8h11.0" stroke="#000" stroke-width="1.3" fill="none"/>
<path d="M575.9,455.7V444.3" stroke="#000" stroke-width="2.8" stroke-opacity="1" fill="none"/>
<circle cx="575.9" cy="450.0" r="1.8" fill="#000"/>
<path d="M578.3,449.2V419.4M572.3,419.4h12.0M572.3,449.2h12.0" stroke="#000" stroke-width="1.3" fill="none"/>
<path d="M578.3,444.8V423.7" stroke="#000" stroke-width="3.4" stroke-opacity="1" fill="none"/>
<circle cx="578.3" cy="434.3" r="1.8" fill="#000"/>
<path d="M580.9,450.5V432.9M575.9,432.9h10.0M575.9,450.5h10.0" stroke="#000" stroke-width="1.3" fill="none"/>
<path d="M580.9,447.8V435.6" stroke="#000" stroke-width="2.4" stroke-opacity="1" fill="none"/>
<circle cx="580.9" cy="441.7" r="1.8" fill="#000"/>
<path d="M584.1,436.9V408.8M577.3,408.8h13.6M577.3,436.9h13.6" stroke="#000" stroke-width="1.3" fill="none"/>
<path d="M584.1,431.6V414.1" stroke="#000" stroke-width="3.2" stroke-opacity="1" fill="none"/>
<circle cx="584.1" cy="422.9" r="1.8" fill="#000"/>
<path d="M586.0,440.4V422.9M581.0,422.9h10.0M581.0,440.4h10.0" stroke="#000" stroke-width="1.3" fill="none"/>
<path d="M586.0,437.8V425.5" stroke="#000" stroke-width="3.0" stroke-opacity="1" fill="none"/>
<circle cx="586.0" cy="431.6" r="1.8" fill="#000"/>
<path d="M587.4,448.3V430.8M581.4,430.8h12.0M581.4,448.3h12.0" stroke="#000" stroke-width="1.3" fill="none"/>
<path d="M587.4,445.7V433.4" stroke="#000" stroke-width="3.0" stroke-opacity="1" fill="none"/>
<circle cx="587.4" cy="439.5" r="1.8" fill="#000"/>
<path d="M588.7,456.2V438.6M583.7,438.6h10.0M583.7,456.2h10.0" stroke="#000" stroke-width="1.3" fill="none"/>
<path d="M588.7,453.5V441.3" stroke="#000" stroke-width="3.0" stroke-opacity="1" fill="none"/>
<circle cx="588.7" cy="447.4" r="1.8" fill="#000"/>
<path d="M590.0,464.1V446.5M584.0,446.5h12.0M584.0,464.1h12.0" stroke="#000" stroke-width="1.3" fill="none"/>
<path d="M590.0,461.4V449.2" stroke="#000" stroke-width="3.0" stroke-opacity="1" fill="none"/>
<circle cx="590.0" cy="455.3" r="1.8" fill="#000"/>
<path d="M594.8,472.4V418.9M587.3,418.9h15.0M587.3,472.4h15.0" stroke="#000" stroke-width="1.0" stroke-opacity="0.8" fill="none"/>
<path d="M587.6,443.0H601.4M587.6,443.0v0.0M601.4,443.0v0.0" stroke="#000" stroke-width="1.0" stroke-opacity="0.8" fill="none"/>
<path d="M597.8,474.6V421.1M592.3,421.1h11.0M592.3,474.6h11.0" stroke="#000" stroke-width="1.0" stroke-opacity="0.8" fill="none"/>
<path d="M590.8,446.1H605.7M590.8,446.1v0.0M605.7,446.1v0.0" stroke="#000" stroke-width="1.0" stroke-opacity="0.8" fill="none"/>
<circle cx="596.1" cy="435.6" r="2.6" fill="#000"/>
<circle cx="598.4" cy="438.2" r="2.4" fill="#000"/>
<path d="M604.1,443.9V401.1M597.1,401.1h14.0M597.1,443.9h14.0" stroke="#000" stroke-width="1.2" fill="none"/>
<path d="M604.1,441.3V412.3" stroke="#000" stroke-width="4.2" stroke-opacity="1" fill="none"/>
<circle cx="604.1" cy="413.7" r="2.4" fill="#000"/>
<path d="M610.3,446.1V396.1M603.4,396.1h13.8M603.4,446.1h13.8" stroke="#000" stroke-width="1.0" stroke-opacity="0.8" fill="none"/>
<path d="M610.3,435.1V406.6" stroke="#000" stroke-width="3.2" stroke-opacity="0.55" fill="none"/>
<circle cx="610.3" cy="416.3" r="2.2" fill="#000"/>
<path d="M607.3,453.5V434.3M601.8,434.3h11.0M601.8,453.5h11.0" stroke="#000" stroke-width="1.3" fill="none"/>
<path d="M607.3,450.5V437.3" stroke="#000" stroke-width="2.6" stroke-opacity="1" fill="none"/>
<circle cx="607.3" cy="443.9" r="1.8" fill="#000"/>
<path d="M608.6,460.6V441.3M603.1,441.3h11.0M603.1,460.6h11.0" stroke="#000" stroke-width="1.3" fill="none"/>
<path d="M608.6,457.5V444.3" stroke="#000" stroke-width="2.6" stroke-opacity="1" fill="none"/>
<circle cx="608.6" cy="450.9" r="1.8" fill="#000"/>
<path d="M609.9,466.7V447.4M604.4,447.4h11.0M604.4,466.7h11.0" stroke="#000" stroke-width="1.3" fill="none"/>
<path d="M609.9,463.6V450.5" stroke="#000" stroke-width="2.6" stroke-opacity="1" fill="none"/>
<circle cx="609.9" cy="457.0" r="1.8" fill="#000"/>
<path d="M601.1,481.2V443.9M601.1,443.9h0.0M601.1,481.2h0.0" stroke="#000" stroke-width="1.2" stroke-opacity="0.7" fill="none"/>
<circle cx="601.1" cy="457.9" r="2.3" fill="#000"/>
<path d="M600.4,460.8H618.4M600.4,460.8v0.0M618.4,460.8v0.0" stroke="#000" stroke-width="1.1" fill="none"/>
<circle cx="611.1" cy="460.8" r="2.3" fill="#000"/>
<path d="M618.1,474.6V429.0M611.3,429.0h13.6M611.3,474.6h13.6" stroke="#000" stroke-width="1.1" fill="none"/>
<path d="M611.0,449.4H625.3M611.0,444.4v10.0M625.3,444.4v10.0" stroke="#000" stroke-width="1.1" fill="none"/>
<circle cx="618.1" cy="449.4" r="2.3" fill="#000"/>
<path d="M649.2,464.1H668.3M649.2,459.1v10.0M668.3,459.1v10.0" stroke="#000" stroke-width="1.0" stroke-opacity="0.8" fill="none"/>
<circle cx="658.5" cy="464.1" r="2.2" fill="#000"/>
<path d="M625.8,466.3H638.6M625.8,456.3v20.0M638.6,456.3v20.0" stroke="#000" stroke-width="1.0" fill="none"/>
<path d="M638.6,485.5V428.6M638.6,428.6h0.0M638.6,485.5h0.0" stroke="#000" stroke-width="1.3" fill="none"/>
<path d="M625.7,479.0V430.8M625.7,430.8h0.0M625.7,479.0h0.0" stroke="#000" stroke-width="1.0" stroke-opacity="0.8" fill="none"/>
<path d="M640.7,467.1H654.5M640.7,467.1v0.0M654.5,467.1v0.0" stroke="#000" stroke-width="2.0" fill="none"/>
<path d="M646.9,499.1V441.7M640.9,441.7h12.0M640.9,499.1h12.0" stroke="#000" stroke-width="1.3" fill="none"/>
<path d="M646.9,485.5V468.0" stroke="#000" stroke-width="2.6" stroke-opacity="1" fill="none"/>
<path d="M655.6,503.7V443.9M649.1,443.9h13.0M649.1,503.7h13.0" stroke="#000" stroke-width="1.2" fill="none"/>
<path d="M655.6,496.5V483.3" stroke="#000" stroke-width="2.6" stroke-opacity="0.7" fill="none"/>
<path d="M637.5,453.1H656.6M637.5,447.1v12.0M656.6,447.1v12.0" stroke="#000" stroke-width="1.0" fill="none"/>
<path d="M622.6,483.3H639.1M622.6,479.3v8.0M639.1,479.3v8.0" stroke="#000" stroke-width="1.0" stroke-opacity="0.8" fill="none"/>
<path d="M625.8,443.9H654.5M625.8,438.9v10.0M654.5,438.9v10.0" stroke="#000" stroke-width="1.0" stroke-opacity="0.6" fill="none"/>
<path d="M611.0,429.0H624.8M611.0,429.0v0.0M624.8,429.0v0.0" stroke="#000" stroke-width="1.0" stroke-opacity="0.8" fill="none"/>
<path d="M624.7,487.7V429.0M624.7,429.0h0.0M624.7,487.7h0.0" stroke="#000" stroke-width="1.0" stroke-opacity="0.8" fill="none"/>
<path d="M553.1,381.7V364.1M546.6,364.1h13.0M546.6,381.7h13.0" stroke="#000" stroke-width="1.3" fill="none"/>
<path d="M553.1,372.9V372.9" stroke="#000" stroke-width="0" stroke-opacity="1" fill="none"/>
<path d="M554.2,394.4V375.1M547.2,375.1h14.0M547.2,394.4h14.0" stroke="#000" stroke-width="1.3" fill="none"/>
<path d="M554.2,384.7V384.7" stroke="#000" stroke-width="0" stroke-opacity="1" fill="none"/>
<path d="M566.4,383.8V361.9M558.9,361.9h15.0M558.9,383.8h15.0" stroke="#000" stroke-width="1.3" fill="none"/>
<path d="M566.4,380.8V365.0" stroke="#000" stroke-width="2.4" stroke-opacity="1" fill="none"/>
<circle cx="566.4" cy="372.9" r="1.8" fill="#000"/>
<path d="M561.1,406.6V389.1M552.6,389.1h17.0M552.6,406.6h17.0" stroke="#000" stroke-width="1.3" fill="none"/>
<path d="M561.1,404.0V391.7" stroke="#000" stroke-width="2.6" stroke-opacity="1" fill="none"/>
<circle cx="561.1" cy="397.9" r="1.8" fill="#000"/>
<path d="M568.1,411.0V384.7M561.6,384.7h13.0M561.6,411.0h13.0" stroke="#000" stroke-width="1.3" fill="none"/>
<path d="M568.1,407.5V388.2" stroke="#000" stroke-width="3.0" stroke-opacity="1" fill="none"/>
<circle cx="568.1" cy="397.9" r="1.8" fill="#000"/>
<path d="M557.4,381.7V364.1M552.4,364.1h10.0M552.4,381.7h10.0" stroke="#000" stroke-width="1.3" fill="none"/>
<path d="M557.4,379.9V365.9" stroke="#000" stroke-width="3.0" stroke-opacity="1" fill="none"/>
<circle cx="557.4" cy="372.9" r="1.8" fill="#000"/>
<path d="M654.5,487.7V446.1M654.5,446.1h0.0M654.5,487.7h0.0" stroke="#000" stroke-width="1.2" stroke-opacity="0.85" fill="none"/>
<path d="M659.5,479.0V448.3M654.5,448.3h10.0M654.5,479.0h10.0" stroke="#000" stroke-width="1.1" stroke-opacity="0.8" fill="none"/>
<path d="M661.3,485.5V461.4M656.3,461.4h10.0M656.3,485.5h10.0" stroke="#000" stroke-width="1.1" stroke-opacity="0.8" fill="none"/>
<path d="M654.5,473.3H668.3M654.5,469.3v8.0M668.3,469.3v8.0" stroke="#000" stroke-width="1.1" stroke-opacity="0.8" fill="none"/>
<path d="M616.1,483.3V456.2M612.1,456.2h8.0M612.1,483.3h8.0" stroke="#000" stroke-width="1.1" stroke-opacity="0.75" fill="none"/>
<path d="M609.9,469.9H622.6M609.9,466.9v6.0M622.6,466.9v6.0" stroke="#000" stroke-width="1.1" stroke-opacity="0.75" fill="none"/>
<path d="M641.8,479.0V441.7M636.8,441.7h10.0M636.8,479.0h10.0" stroke="#000" stroke-width="1.1" stroke-opacity="0.7" fill="none"/>
<path d="M651.3,489.9V454.9M646.3,454.9h10.0M646.3,489.9h10.0" stroke="#000" stroke-width="1.1" stroke-opacity="0.7" fill="none"/>
<path d="M596.1,448.3H611.0M596.1,444.3v8.0M611.0,444.3v8.0" stroke="#000" stroke-width="1.0" stroke-opacity="0.7" fill="none"/>
<path d="M583.4,430.8H598.2M583.4,426.8v8.0M598.2,426.8v8.0" stroke="#000" stroke-width="1.0" stroke-opacity="0.7" fill="none"/>
<path d="M573.8,454.9H586.6M573.8,451.9v6.0M586.6,451.9v6.0" stroke="#000" stroke-width="1.0" stroke-opacity="0.7" fill="none"/>
</g>
<g clip-path="url(#cp12)">
<path d="M1259.7,535.8H1365.8M1259.7,529.1v13.4M1365.8,529.1v13.4" stroke="#000" stroke-width="1.7" stroke-opacity="0.85" fill="none"/>
<circle cx="1322.9" cy="535.8" r="2.3" fill="#000"/>
<path d="M1322.9,575.4V504.2M1316.2,504.2h13.4M1316.2,575.4h13.4" stroke="#000" stroke-width="1.5" stroke-opacity="0.9" fill="none"/>
<path d="M1206.0,547.8V485.7M1199.3,485.7h13.4M1199.3,547.8h13.4" stroke="#000" stroke-width="1.6" fill="none"/>
<circle cx="1206.0" cy="515.0" r="2.2" fill="#000"/>
<path d="M1153.5,515.0H1259.7M1153.5,508.4v13.2M1259.7,508.4v13.2" stroke="#000" stroke-width="1.1" stroke-opacity="0.75" fill="none"/>
<path d="M1132.6,516.4V469.3M1125.9,469.3h13.4M1125.9,516.4h13.4" stroke="#000" stroke-width="1.2" fill="none"/>
<path d="M1110.5,492.3H1155.6M1110.5,485.7v13.2M1155.6,485.7v13.2" stroke="#000" stroke-width="1.2" fill="none"/>
<circle cx="1132.6" cy="492.3" r="2.2" fill="#000"/>
<path d="M1121.7,575.4V421.5M1114.7,421.5h14.0M1114.7,575.4h14.0" stroke="#000" stroke-width="1.8" fill="none"/>
<circle cx="1121.7" cy="473.8" r="2.2" fill="#000"/>
<path d="M1125.9,480.3V469.3M1119.9,469.3h12.0M1119.9,480.3h12.0" stroke="#000" stroke-width="1.1" fill="none"/>
<path d="M1118.5,475.0H1132.6M1118.5,469.5v11.0M1132.6,469.5v11.0" stroke="#000" stroke-width="1.1" fill="none"/>
<circle cx="1125.9" cy="475.0" r="2.0" fill="#000"/>
<path d="M1132.8,446.5H1156.2M1132.8,439.5v14.0M1156.2,439.5v14.0" stroke="#000" stroke-width="1.2" fill="none"/>
<circle cx="1144.5" cy="446.5" r="2.2" fill="#000"/>
<path d="M1144.5,575.4V381.0M1137.8,381.0h13.4M1137.8,575.4h13.4" stroke="#000" stroke-width="1.5" stroke-opacity="0.62" fill="none"/>
<path d="M1102.3,575.4V481.6M1095.8,481.6h13.0M1095.8,575.4h13.0" stroke="#000" stroke-width="1.3" fill="none"/>
<path d="M1094.4,524.7H1110.7M1094.4,517.7v14.0M1110.7,517.7v14.0" stroke="#000" stroke-width="1.3" fill="none"/>
<circle cx="1102.3" cy="524.7" r="2.3" fill="#000"/>
<path d="M1102.5,481.6V443.9M1096.2,443.9h12.6M1096.2,481.6h12.6" stroke="#000" stroke-width="1.2" fill="none"/>
<path d="M1094.6,461.4H1110.5M1094.6,449.4v24.0M1110.5,449.4v24.0" stroke="#000" stroke-width="1.2" fill="none"/>
<circle cx="1102.5" cy="461.4" r="2.2" fill="#000"/>
<path d="M1093.3,497.4V365.7M1086.4,365.7h13.8M1086.4,497.4h13.8" stroke="#000" stroke-width="1.8" stroke-opacity="0.78" fill="none"/>
<circle cx="1093.3" cy="449.8" r="2.2" fill="#000"/>
<path d="M1078.3,427.2H1094.3M1078.3,420.4v13.6M1094.3,420.4v13.6" stroke="#000" stroke-width="1.2" stroke-opacity="0.75" fill="none"/>
<circle cx="1086.4" cy="427.2" r="2.2" fill="#000"/>
<path d="M1086.4,468.0V390.1M1079.7,390.1h13.4M1079.7,468.0h13.4" stroke="#000" stroke-width="1.2" stroke-opacity="0.6" fill="none"/>
<path d="M1056.6,461.4V407.5M1049.9,407.5h13.4M1049.9,461.4h13.4" stroke="#000" stroke-width="1.2" stroke-opacity="0.55" fill="none"/>
<path d="M1035.1,434.6H1078.1M1035.1,427.6v14.0M1078.1,427.6v14.0" stroke="#000" stroke-width="1.2" stroke-opacity="0.55" fill="none"/>
<circle cx="1056.6" cy="434.6" r="2.0" fill="#000"/>
<path d="M1085.0,497.4H1098.8M1085.0,497.4v0.0M1098.8,497.4v0.0" stroke="#000" stroke-width="1.0" fill="none"/>
<circle cx="1091.9" cy="497.4" r="2.2" fill="#000"/>
<path d="M1042.8,516.5V429.0M1036.0,429.0h13.6M1036.0,516.5h13.6" stroke="#000" stroke-width="1.2" fill="none"/>
<path d="M1036.2,486.2H1050.0M1036.2,481.2v10.0M1050.0,481.2v10.0" stroke="#000" stroke-width="1.2" fill="none"/>
<circle cx="1042.8" cy="486.2" r="2.2" fill="#000"/>
<path d="M1056.2,510.3V424.2M1049.2,424.2h14.0M1049.2,510.3h14.0" stroke="#000" stroke-width="1.2" fill="none"/>
<circle cx="1056.2" cy="466.3" r="2.2" fill="#000"/>
<circle cx="1071.6" cy="476.8" r="3.0" fill="#000"/>
<path d="M1071.9,499.1V475.9M1066.4,475.9h11.0M1066.4,499.1h11.0" stroke="#000" stroke-width="1.2" fill="none"/>
<path d="M1065.6,487.7H1078.8M1065.6,483.7v8.0M1078.8,483.7v8.0" stroke="#000" stroke-width="1.2" fill="none"/>
<circle cx="1071.9" cy="487.7" r="2.2" fill="#000"/>
<circle cx="1084.2" cy="463.6" r="2.2" fill="#000"/>
<circle cx="1086.0" cy="473.3" r="2.2" fill="#000"/>
<circle cx="1080.3" cy="490.4" r="2.0" fill="#000"/>
<circle cx="1070.7" cy="453.1" r="2.0" fill="#000"/>
<path d="M1036.2,489.9V461.4M1036.2,461.4h0.0M1036.2,489.9h0.0" stroke="#000" stroke-width="1.0" stroke-opacity="0.6" fill="none"/>
<circle cx="1036.2" cy="475.5" r="2.2" fill="#000"/>
<circle cx="1040.8" cy="469.9" r="2.2" fill="#000"/>
<path d="M1016.8,476.8V449.6M1010.8,449.6h12.0M1010.8,476.8h12.0" stroke="#000" stroke-width="1.2" fill="none"/>
<path d="M1007.4,463.3H1021.1M1007.4,463.3v0.0M1021.1,463.3v0.0" stroke="#000" stroke-width="1.2" fill="none"/>
<circle cx="1016.8" cy="463.3" r="2.3" fill="#000"/>
<circle cx="1013.1" cy="467.0" r="2.4" fill="#000"/>
<circle cx="1002.0" cy="470.5" r="2.4" fill="#000"/>
<circle cx="983.0" cy="452.7" r="2.3" fill="#000"/>
<circle cx="1007.1" cy="351.2" r="2.4" fill="#000"/>
<circle cx="1024.0" cy="405.5" r="2.3" fill="#000"/>
<circle cx="1018.1" cy="412.2" r="2.3" fill="#000"/>
<path d="M978.7,348.3V329.3M971.5,329.3h14.4M971.5,348.3h14.4" stroke="#000" stroke-width="1.35" fill="none"/>
<path d="M978.7,345.9V331.7" stroke="#000" stroke-width="2.6" stroke-opacity="1" fill="none"/>
<circle cx="978.7" cy="338.7" r="2.3" fill="#000"/>
<path d="M979.6,374.2V358.4M975.0,358.4h9.2M975.0,374.2h9.2" stroke="#000" stroke-width="1.3" fill="none"/>
<path d="M979.6,372.0V360.6" stroke="#000" stroke-width="2.8" stroke-opacity="1" fill="none"/>
<circle cx="979.6" cy="366.3" r="2.0" fill="#000"/>
<path d="M988.2,380.6V351.2M981.2,351.2h14.0M981.2,380.6h14.0" stroke="#000" stroke-width="1.7" fill="none"/>
<path d="M988.2,377.7V354.0" stroke="#000" stroke-width="3.2" stroke-opacity="1" fill="none"/>
<circle cx="988.2" cy="365.9" r="2.0" fill="#000"/>
<path d="M983.0,395.2V368.1M977.5,368.1h11.0M977.5,395.2h11.0" stroke="#000" stroke-width="1.3" fill="none"/>
<path d="M983.0,392.6V370.7" stroke="#000" stroke-width="3.4" stroke-opacity="1" fill="none"/>
<circle cx="983.0" cy="381.7" r="2.0" fill="#000"/>
<path d="M985.3,385.6V366.3M978.8,366.3h13.0M978.8,385.6h13.0" stroke="#000" stroke-width="1.3" fill="none"/>
<path d="M985.3,383.8V368.1" stroke="#000" stroke-width="3.0" stroke-opacity="1" fill="none"/>
<circle cx="985.3" cy="376.0" r="2.0" fill="#000"/>
<path d="M981.0,386.9V369.4M975.0,369.4h12.0M975.0,386.9h12.0" stroke="#000" stroke-width="1.3" fill="none"/>
<path d="M981.0,384.7V371.6" stroke="#000" stroke-width="2.6" stroke-opacity="1" fill="none"/>
<circle cx="981.0" cy="378.1" r="2.0" fill="#000"/>
<path d="M980.5,394.8V380.8M975.0,380.8h11.0M975.0,394.8h11.0" stroke="#000" stroke-width="1.3" fill="none"/>
<path d="M980.5,393.1V382.5" stroke="#000" stroke-width="2.6" stroke-opacity="1" fill="none"/>
<circle cx="980.5" cy="387.8" r="2.0" fill="#000"/>
<path d="M992.8,405.8V376.8M986.0,376.8h13.6M986.0,405.8h13.6" stroke="#000" stroke-width="1.3" fill="none"/>
<path d="M992.8,403.1V379.5" stroke="#000" stroke-width="3.0" stroke-opacity="1" fill="none"/>
<circle cx="992.8" cy="391.3" r="2.0" fill="#000"/>
<path d="M990.0,394.4V372.5M984.0,372.5h12.0M984.0,394.4h12.0" stroke="#000" stroke-width="1.3" fill="none"/>
<path d="M990.0,392.2V374.6" stroke="#000" stroke-width="2.8" stroke-opacity="1" fill="none"/>
<circle cx="990.0" cy="383.4" r="2.0" fill="#000"/>
<path d="M984.2,397.0V381.2M977.2,381.2h14.0M977.2,397.0h14.0" stroke="#000" stroke-width="1.3" fill="none"/>
<path d="M984.2,395.2V383.0" stroke="#000" stroke-width="3.0" stroke-opacity="1" fill="none"/>
<circle cx="984.2" cy="389.1" r="2.0" fill="#000"/>
<path d="M986.8,397.4V374.6M981.8,374.6h10.0M981.8,397.4h10.0" stroke="#000" stroke-width="1.3" fill="none"/>
<path d="M986.8,394.8V377.3" stroke="#000" stroke-width="2.6" stroke-opacity="1" fill="none"/>
<circle cx="986.8" cy="386.0" r="2.0" fill="#000"/>
<path d="M994.8,428.6V411.0M989.3,411.0h11.0M989.3,428.6h11.0" stroke="#000" stroke-width="1.3" fill="none"/>
<path d="M994.8,425.5V414.1" stroke="#000" stroke-width="2.8" stroke-opacity="1" fill="none"/>
<circle cx="994.8" cy="419.8" r="1.8" fill="#000"/>
<path d="M996.2,436.0V418.5M991.7,418.5h9.0M991.7,436.0h9.0" stroke="#000" stroke-width="1.3" fill="none"/>
<path d="M996.2,432.9V421.5" stroke="#000" stroke-width="2.8" stroke-opacity="1" fill="none"/>
<circle cx="996.2" cy="427.2" r="1.8" fill="#000"/>
<path d="M997.7,443.9V426.4M992.2,426.4h11.0M992.2,443.9h11.0" stroke="#000" stroke-width="1.3" fill="none"/>
<path d="M997.7,440.8V429.4" stroke="#000" stroke-width="2.8" stroke-opacity="1" fill="none"/>
<circle cx="997.7" cy="435.1" r="1.8" fill="#000"/>
<path d="M999.2,451.8V434.3M994.7,434.3h9.0M994.7,451.8h9.0" stroke="#000" stroke-width="1.3" fill="none"/>
<path d="M999.2,448.7V437.3" stroke="#000" stroke-width="2.8" stroke-opacity="1" fill="none"/>
<circle cx="999.2" cy="443.0" r="1.8" fill="#000"/>
<path d="M1000.6,458.8V441.3M995.1,441.3h11.0M995.1,458.8h11.0" stroke="#000" stroke-width="1.3" fill="none"/>
<path d="M1000.6,455.7V444.3" stroke="#000" stroke-width="2.8" stroke-opacity="1" fill="none"/>
<circle cx="1000.6" cy="450.0" r="1.8" fill="#000"/>
<path d="M1003.0,449.2V419.4M997.0,419.4h12.0M997.0,449.2h12.0" stroke="#000" stroke-width="1.3" fill="none"/>
<path d="M1003.0,444.8V423.7" stroke="#000" stroke-width="3.4" stroke-opacity="1" fill="none"/>
<circle cx="1003.0" cy="434.3" r="1.8" fill="#000"/>
<path d="M1005.6,450.5V432.9M1000.6,432.9h10.0M1000.6,450.5h10.0" stroke="#000" stroke-width="1.3" fill="none"/>
<path d="M1005.6,447.8V435.6" stroke="#000" stroke-width="2.4" stroke-opacity="1" fill="none"/>
<circle cx="1005.6" cy="441.7" r="1.8" fill="#000"/>
<path d="M1008.8,436.9V408.8M1002.0,408.8h13.6M1002.0,436.9h13.6" stroke="#000" stroke-width="1.3" fill="none"/>
<path d="M1008.8,431.6V414.1" stroke="#000" stroke-width="3.2" stroke-opacity="1" fill="none"/>
<circle cx="1008.8" cy="422.9" r="1.8" fill="#000"/>
<path d="M1010.7,440.4V422.9M1005.7,422.9h10.0M1005.7,440.4h10.0" stroke="#000" stroke-width="1.3" fill="none"/>
<path d="M1010.7,437.8V425.5" stroke="#000" stroke-width="3.0" stroke-opacity="1" fill="none"/>
<circle cx="1010.7" cy="431.6" r="1.8" fill="#000"/>
<path d="M1012.1,448.3V430.8M1006.1,430.8h12.0M1006.1,448.3h12.0" stroke="#000" stroke-width="1.3" fill="none"/>
<path d="M1012.1,445.7V433.4" stroke="#000" stroke-width="3.0" stroke-opacity="1" fill="none"/>
<circle cx="1012.1" cy="439.5" r="1.8" fill="#000"/>
<path d="M1013.4,456.2V438.6M1008.4,438.6h10.0M1008.4,456.2h10.0" stroke="#000" stroke-width="1.3" fill="none"/>
<path d="M1013.4,453.5V441.3" stroke="#000" stroke-width="3.0" stroke-opacity="1" fill="none"/>
<circle cx="1013.4" cy="447.4" r="1.8" fill="#000"/>
<path d="M1014.7,464.1V446.5M1008.7,446.5h12.0M1008.7,464.1h12.0" stroke="#000" stroke-width="1.3" fill="none"/>
<path d="M1014.7,461.4V449.2" stroke="#000" stroke-width="3.0" stroke-opacity="1" fill="none"/>
<circle cx="1014.7" cy="455.3" r="1.8" fill="#000"/>
<path d="M1019.5,472.4V418.9M1012.0,418.9h15.0M1012.0,472.4h15.0" stroke="#000" stroke-width="1.0" stroke-opacity="0.8" fill="none"/>
<path d="M1012.3,443.0H1026.1M1012.3,443.0v0.0M1026.1,443.0v0.0" stroke="#000" stroke-width="1.0" stroke-opacity="0.8" fill="none"/>
<path d="M1022.5,474.6V421.1M1017.0,421.1h11.0M1017.0,474.6h11.0" stroke="#000" stroke-width="1.0" stroke-opacity="0.8" fill="none"/>
<path d="M1015.5,446.1H1030.4M1015.5,446.1v0.0M1030.4,446.1v0.0" stroke="#000" stroke-width="1.0" stroke-opacity="0.8" fill="none"/>
<circle cx="1020.8" cy="435.6" r="2.6" fill="#000"/>
<circle cx="1023.1" cy="438.2" r="2.4" fill="#000"/>
<path d="M1028.8,443.9V401.1M1021.8,401.1h14.0M1021.8,443.9h14.0" stroke="#000" stroke-width="1.2" fill="none"/>
<path d="M1028.8,441.3V412.3" stroke="#000" stroke-width="4.2" stroke-opacity="1" fill="none"/>
<circle cx="1028.8" cy="413.7" r="2.4" fill="#000"/>
<path d="M1035.0,446.1V396.1M1028.1,396.1h13.8M1028.1,446.1h13.8" stroke="#000" stroke-width="1.0" stroke-opacity="0.8" fill="none"/>
<path d="M1035.0,435.1V406.6" stroke="#000" stroke-width="3.2" stroke-opacity="0.55" fill="none"/>
<circle cx="1035.0" cy="416.3" r="2.2" fill="#000"/>
<path d="M1032.0,453.5V434.3M1026.5,434.3h11.0M1026.5,453.5h11.0" stroke="#000" stroke-width="1.3" fill="none"/>
<path d="M1032.0,450.5V437.3" stroke="#000" stroke-width="2.6" stroke-opacity="1" fill="none"/>
<circle cx="1032.0" cy="443.9" r="1.8" fill="#000"/>
<path d="M1033.3,460.6V441.3M1027.8,441.3h11.0M1027.8,460.6h11.0" stroke="#000" stroke-width="1.3" fill="none"/>
<path d="M1033.3,457.5V444.3" stroke="#000" stroke-width="2.6" stroke-opacity="1" fill="none"/>
<circle cx="1033.3" cy="450.9" r="1.8" fill="#000"/>
<path d="M1034.6,466.7V447.4M1029.1,447.4h11.0M1029.1,466.7h11.0" stroke="#000" stroke-width="1.3" fill="none"/>
<path d="M1034.6,463.6V450.5" stroke="#000" stroke-width="2.6" stroke-opacity="1" fill="none"/>
<circle cx="1034.6" cy="457.0" r="1.8" fill="#000"/>
<path d="M1025.8,481.2V443.9M1025.8,443.9h0.0M1025.8,481.2h0.0" stroke="#000" stroke-width="1.2" stroke-opacity="0.7" fill="none"/>
<circle cx="1025.8" cy="457.9" r="2.3" fill="#000"/>
<path d="M1025.1,460.8H1043.1M1025.1,460.8v0.0M1043.1,460.8v0.0" stroke="#000" stroke-width="1.1" fill="none"/>
<circle cx="1035.8" cy="460.8" r="2.3" fill="#000"/>
<path d="M1042.8,474.6V429.0M1036.0,429.0h13.6M1036.0,474.6h13.6" stroke="#000" stroke-width="1.1" fill="none"/>
<path d="M1035.7,449.4H1050.0M1035.7,444.4v10.0M1050.0,444.4v10.0" stroke="#000" stroke-width="1.1" fill="none"/>
<circle cx="1042.8" cy="449.4" r="2.3" fill="#000"/>
<path d="M1073.9,464.1H1093.0M1073.9,459.1v10.0M1093.0,459.1v10.0" stroke="#000" stroke-width="1.0" stroke-opacity="0.8" fill="none"/>
<circle cx="1083.2" cy="464.1" r="2.2" fill="#000"/>
<path d="M1050.5,466.3H1063.3M1050.5,456.3v20.0M1063.3,456.3v20.0" stroke="#000" stroke-width="1.0" fill="none"/>
<path d="M1063.3,485.5V428.6M1063.3,428.6h0.0M1063.3,485.5h0.0" stroke="#000" stroke-width="1.3" fill="none"/>
<path d="M1050.4,479.0V430.8M1050.4,430.8h0.0M1050.4,479.0h0.0" stroke="#000" stroke-width="1.0" stroke-opacity="0.8" fill="none"/>
<path d="M1065.4,467.1H1079.2M1065.4,467.1v0.0M1079.2,467.1v0.0" stroke="#000" stroke-width="2.0" fill="none"/>
<path d="M1071.6,499.1V441.7M1065.6,441.7h12.0M1065.6,499.1h12.0" stroke="#000" stroke-width="1.3" fill="none"/>
<path d="M1071.6,485.5V468.0" stroke="#000" stroke-width="2.6" stroke-opacity="1" fill="none"/>
<path d="M1080.3,503.7V443.9M1073.8,443.9h13.0M1073.8,503.7h13.0" stroke="#000" stroke-width="1.2" fill="none"/>
<path d="M1080.3,496.5V483.3" stroke="#000" stroke-width="2.6" stroke-opacity="0.7" fill="none"/>
<path d="M1062.2,453.1H1081.3M1062.2,447.1v12.0M1081.3,447.1v12.0" stroke="#000" stroke-width="1.0" fill="none"/>
<path d="M1047.4,483.3H1063.8M1047.4,479.3v8.0M1063.8,479.3v8.0" stroke="#000" stroke-width="1.0" stroke-opacity="0.8" fill="none"/>
<path d="M1050.5,443.9H1079.2M1050.5,438.9v10.0M1079.2,438.9v10.0" stroke="#000" stroke-width="1.0" stroke-opacity="0.6" fill="none"/>
<path d="M1035.7,429.0H1049.5M1035.7,429.0v0.0M1049.5,429.0v0.0" stroke="#000" stroke-width="1.0" stroke-opacity="0.8" fill="none"/>
<path d="M1049.4,487.7V429.0M1049.4,429.0h0.0M1049.4,487.7h0.0" stroke="#000" stroke-width="1.0" stroke-opacity="0.8" fill="none"/>
<path d="M977.8,381.7V364.1M971.3,364.1h13.0M971.3,381.7h13.0" stroke="#000" stroke-width="1.3" fill="none"/>
<path d="M977.8,372.9V372.9" stroke="#000" stroke-width="0" stroke-opacity="1" fill="none"/>
<path d="M978.9,394.4V375.1M971.9,375.1h14.0M971.9,394.4h14.0" stroke="#000" stroke-width="1.3" fill="none"/>
<path d="M978.9,384.7V384.7" stroke="#000" stroke-width="0" stroke-opacity="1" fill="none"/>
<path d="M991.1,383.8V361.9M983.6,361.9h15.0M983.6,383.8h15.0" stroke="#000" stroke-width="1.3" fill="none"/>
<path d="M991.1,380.8V365.0" stroke="#000" stroke-width="2.4" stroke-opacity="1" fill="none"/>
<circle cx="991.1" cy="372.9" r="1.8" fill="#000"/>
<path d="M985.8,406.6V389.1M977.3,389.1h17.0M977.3,406.6h17.0" stroke="#000" stroke-width="1.3" fill="none"/>
<path d="M985.8,404.0V391.7" stroke="#000" stroke-width="2.6" stroke-opacity="1" fill="none"/>
<circle cx="985.8" cy="397.9" r="1.8" fill="#000"/>
<path d="M992.8,411.0V384.7M986.3,384.7h13.0M986.3,411.0h13.0" stroke="#000" stroke-width="1.3" fill="none"/>
<path d="M992.8,407.5V388.2" stroke="#000" stroke-width="3.0" stroke-opacity="1" fill="none"/>
<circle cx="992.8" cy="397.9" r="1.8" fill="#000"/>
<path d="M982.1,381.7V364.1M977.1,364.1h10.0M977.1,381.7h10.0" stroke="#000" stroke-width="1.3" fill="none"/>
<path d="M982.1,379.9V365.9" stroke="#000" stroke-width="3.0" stroke-opacity="1" fill="none"/>
<circle cx="982.1" cy="372.9" r="1.8" fill="#000"/>
<path d="M1079.2,487.7V446.1M1079.2,446.1h0.0M1079.2,487.7h0.0" stroke="#000" stroke-width="1.2" stroke-opacity="0.85" fill="none"/>
<path d="M1084.2,479.0V448.3M1079.2,448.3h10.0M1079.2,479.0h10.0" stroke="#000" stroke-width="1.1" stroke-opacity="0.8" fill="none"/>
<path d="M1086.0,485.5V461.4M1081.0,461.4h10.0M1081.0,485.5h10.0" stroke="#000" stroke-width="1.1" stroke-opacity="0.8" fill="none"/>
<path d="M1079.2,473.3H1093.0M1079.2,469.3v8.0M1093.0,469.3v8.0" stroke="#000" stroke-width="1.1" stroke-opacity="0.8" fill="none"/>
<path d="M1040.8,483.3V456.2M1036.8,456.2h8.0M1036.8,483.3h8.0" stroke="#000" stroke-width="1.1" stroke-opacity="0.75" fill="none"/>
<path d="M1034.6,469.9H1047.4M1034.6,466.9v6.0M1047.4,466.9v6.0" stroke="#000" stroke-width="1.1" stroke-opacity="0.75" fill="none"/>
<path d="M1066.5,479.0V441.7M1061.5,441.7h10.0M1061.5,479.0h10.0" stroke="#000" stroke-width="1.1" stroke-opacity="0.7" fill="none"/>
<path d="M1076.0,489.9V454.9M1071.0,454.9h10.0M1071.0,489.9h10.0" stroke="#000" stroke-width="1.1" stroke-opacity="0.7" fill="none"/>
<path d="M1020.8,448.3H1035.7M1020.8,444.3v8.0M1035.7,444.3v8.0" stroke="#000" stroke-width="1.0" stroke-opacity="0.7" fill="none"/>
<path d="M1008.1,430.8H1022.9M1008.1,426.8v8.0M1022.9,426.8v8.0" stroke="#000" stroke-width="1.0" stroke-opacity="0.7" fill="none"/>
<path d="M998.5,454.9H1011.3M998.5,451.9v6.0M1011.3,451.9v6.0" stroke="#000" stroke-width="1.0" stroke-opacity="0.7" fill="none"/>
</g>
<g clip-path="url(#cp13)">
<path d="M1684.7,535.8H1790.8M1684.7,529.1v13.4M1790.8,529.1v13.4" stroke="#000" stroke-width="1.7" stroke-opacity="0.85" fill="none"/>
<circle cx="1748.0" cy="535.8" r="2.3" fill="#000"/>
<path d="M1748.0,575.4V504.2M1741.3,504.2h13.4M1741.3,575.4h13.4" stroke="#000" stroke-width="1.5" stroke-opacity="0.9" fill="none"/>
<path d="M1631.1,547.8V485.7M1624.4,485.7h13.4M1624.4,547.8h13.4" stroke="#000" stroke-width="1.6" fill="none"/>
<circle cx="1631.1" cy="515.0" r="2.2" fill="#000"/>
<path d="M1578.5,515.0H1684.7M1578.5,508.4v13.2M1684.7,508.4v13.2" stroke="#000" stroke-width="1.1" stroke-opacity="0.75" fill="none"/>
<path d="M1557.6,516.4V469.3M1550.9,469.3h13.4M1550.9,516.4h13.4" stroke="#000" stroke-width="1.2" fill="none"/>
<path d="M1535.6,492.3H1580.7M1535.6,485.7v13.2M1580.7,485.7v13.2" stroke="#000" stroke-width="1.2" fill="none"/>
<circle cx="1557.6" cy="492.3" r="2.2" fill="#000"/>
<path d="M1546.7,575.4V421.5M1539.7,421.5h14.0M1539.7,575.4h14.0" stroke="#000" stroke-width="1.8" fill="none"/>
<circle cx="1546.7" cy="473.8" r="2.2" fill="#000"/>
<path d="M1551.0,480.3V469.3M1545.0,469.3h12.0M1545.0,480.3h12.0" stroke="#000" stroke-width="1.1" fill="none"/>
<path d="M1543.5,475.0H1557.6M1543.5,469.5v11.0M1557.6,469.5v11.0" stroke="#000" stroke-width="1.1" fill="none"/>
<circle cx="1551.0" cy="475.0" r="2.0" fill="#000"/>
<path d="M1557.9,446.5H1581.2M1557.9,439.5v14.0M1581.2,439.5v14.0" stroke="#000" stroke-width="1.2" fill="none"/>
<circle cx="1569.5" cy="446.5" r="2.2" fill="#000"/>
<path d="M1569.5,575.4V381.0M1562.8,381.0h13.4M1562.8,575.4h13.4" stroke="#000" stroke-width="1.5" stroke-opacity="0.62" fill="none"/>
<path d="M1527.4,575.4V481.6M1520.9,481.6h13.0M1520.9,575.4h13.0" stroke="#000" stroke-width="1.3" fill="none"/>
<path d="M1519.4,524.7H1535.8M1519.4,517.7v14.0M1535.8,517.7v14.0" stroke="#000" stroke-width="1.3" fill="none"/>
<circle cx="1527.4" cy="524.7" r="2.3" fill="#000"/>
<path d="M1527.6,481.6V443.9M1521.3,443.9h12.6M1521.3,481.6h12.6" stroke="#000" stroke-width="1.2" fill="none"/>
<path d="M1519.6,461.4H1535.6M1519.6,449.4v24.0M1535.6,449.4v24.0" stroke="#000" stroke-width="1.2" fill="none"/>
<circle cx="1527.6" cy="461.4" r="2.2" fill="#000"/>
<path d="M1518.4,497.4V365.7M1511.5,365.7h13.8M1511.5,497.4h13.8" stroke="#000" stroke-width="1.8" stroke-opacity="0.78" fill="none"/>
<circle cx="1518.4" cy="449.8" r="2.2" fill="#000"/>
<path d="M1503.4,427.2H1519.3M1503.4,420.4v13.6M1519.3,420.4v13.6" stroke="#000" stroke-width="1.2" stroke-opacity="0.75" fill="none"/>
<circle cx="1511.5" cy="427.2" r="2.2" fill="#000"/>
<path d="M1511.5,468.0V390.1M1504.8,390.1h13.4M1504.8,468.0h13.4" stroke="#000" stroke-width="1.2" stroke-opacity="0.6" fill="none"/>
<path d="M1481.6,461.4V407.5M1474.9,407.5h13.4M1474.9,461.4h13.4" stroke="#000" stroke-width="1.2" stroke-opacity="0.55" fill="none"/>
<path d="M1460.2,434.6H1503.2M1460.2,427.6v14.0M1503.2,427.6v14.0" stroke="#000" stroke-width="1.2" stroke-opacity="0.55" fill="none"/>
<circle cx="1481.6" cy="434.6" r="2.0" fill="#000"/>
<path d="M1510.1,497.4H1523.9M1510.1,497.4v0.0M1523.9,497.4v0.0" stroke="#000" stroke-width="1.0" fill="none"/>
<circle cx="1517.0" cy="497.4" r="2.2" fill="#000"/>
<path d="M1467.8,516.5V429.0M1461.0,429.0h13.6M1461.0,516.5h13.6" stroke="#000" stroke-width="1.2" fill="none"/>
<path d="M1461.3,486.2H1475.1M1461.3,481.2v10.0M1475.1,481.2v10.0" stroke="#000" stroke-width="1.2" fill="none"/>
<circle cx="1467.8" cy="486.2" r="2.2" fill="#000"/>
<path d="M1481.2,510.3V424.2M1474.2,424.2h14.0M1474.2,510.3h14.0" stroke="#000" stroke-width="1.2" fill="none"/>
<circle cx="1481.2" cy="466.3" r="2.2" fill="#000"/>
<circle cx="1496.6" cy="476.8" r="3.0" fill="#000"/>
<path d="M1496.9,499.1V475.9M1491.4,475.9h11.0M1491.4,499.1h11.0" stroke="#000" stroke-width="1.2" fill="none"/>
<path d="M1490.7,487.7H1503.8M1490.7,483.7v8.0M1503.8,483.7v8.0" stroke="#000" stroke-width="1.2" fill="none"/>
<circle cx="1496.9" cy="487.7" r="2.2" fill="#000"/>
<circle cx="1509.2" cy="463.6" r="2.2" fill="#000"/>
<circle cx="1511.0" cy="473.3" r="2.2" fill="#000"/>
<circle cx="1505.3" cy="490.4" r="2.0" fill="#000"/>
<circle cx="1495.8" cy="453.1" r="2.0" fill="#000"/>
<path d="M1461.3,489.9V461.4M1461.3,461.4h0.0M1461.3,489.9h0.0" stroke="#000" stroke-width="1.0" stroke-opacity="0.6" fill="none"/>
<circle cx="1461.3" cy="475.5" r="2.2" fill="#000"/>
<circle cx="1465.8" cy="469.9" r="2.2" fill="#000"/>
<path d="M1441.8,476.8V449.6M1435.8,449.6h12.0M1435.8,476.8h12.0" stroke="#000" stroke-width="1.2" fill="none"/>
<path d="M1432.5,463.3H1446.2M1432.5,463.3v0.0M1446.2,463.3v0.0" stroke="#000" stroke-width="1.2" fill="none"/>
<circle cx="1441.8" cy="463.3" r="2.3" fill="#000"/>
<circle cx="1438.1" cy="467.0" r="2.4" fill="#000"/>
<circle cx="1427.1" cy="470.5" r="2.4" fill="#000"/>
<circle cx="1408.1" cy="452.7" r="2.3" fill="#000"/>
<circle cx="1432.2" cy="351.2" r="2.4" fill="#000"/>
<circle cx="1449.0" cy="405.5" r="2.3" fill="#000"/>
<circle cx="1443.1" cy="412.2" r="2.3" fill="#000"/>
<path d="M1403.8,348.3V329.3M1396.6,329.3h14.4M1396.6,348.3h14.4" stroke="#000" stroke-width="1.35" fill="none"/>
<path d="M1403.8,345.9V331.7" stroke="#000" stroke-width="2.6" stroke-opacity="1" fill="none"/>
<circle cx="1403.8" cy="338.7" r="2.3" fill="#000"/>
<path d="M1404.7,374.2V358.4M1400.1,358.4h9.2M1400.1,374.2h9.2" stroke="#000" stroke-width="1.3" fill="none"/>
<path d="M1404.7,372.0V360.6" stroke="#000" stroke-width="2.8" stroke-opacity="1" fill="none"/>
<circle cx="1404.7" cy="366.3" r="2.0" fill="#000"/>
<path d="M1413.3,380.6V351.2M1406.3,351.2h14.0M1406.3,380.6h14.0" stroke="#000" stroke-width="1.7" fill="none"/>
<path d="M1413.3,377.7V354.0" stroke="#000" stroke-width="3.2" stroke-opacity="1" fill="none"/>
<circle cx="1413.3" cy="365.9" r="2.0" fill="#000"/>
<path d="M1408.1,395.2V368.1M1402.6,368.1h11.0M1402.6,395.2h11.0" stroke="#000" stroke-width="1.3" fill="none"/>
<path d="M1408.1,392.6V370.7" stroke="#000" stroke-width="3.4" stroke-opacity="1" fill="none"/>
<circle cx="1408.1" cy="381.7" r="2.0" fill="#000"/>
<path d="M1410.3,385.6V366.3M1403.8,366.3h13.0M1403.8,385.6h13.0" stroke="#000" stroke-width="1.3" fill="none"/>
<path d="M1410.3,383.8V368.1" stroke="#000" stroke-width="3.0" stroke-opacity="1" fill="none"/>
<circle cx="1410.3" cy="376.0" r="2.0" fill="#000"/>
<path d="M1406.1,386.9V369.4M1400.1,369.4h12.0M1400.1,386.9h12.0" stroke="#000" stroke-width="1.3" fill="none"/>
<path d="M1406.1,384.7V371.6" stroke="#000" stroke-width="2.6" stroke-opacity="1" fill="none"/>
<circle cx="1406.1" cy="378.1" r="2.0" fill="#000"/>
<path d="M1405.5,394.8V380.8M1400.0,380.8h11.0M1400.0,394.8h11.0" stroke="#000" stroke-width="1.3" fill="none"/>
<path d="M1405.5,393.1V382.5" stroke="#000" stroke-width="2.6" stroke-opacity="1" fill="none"/>
<circle cx="1405.5" cy="387.8" r="2.0" fill="#000"/>
<path d="M1417.8,405.8V376.8M1411.0,376.8h13.6M1411.0,405.8h13.6" stroke="#000" stroke-width="1.3" fill="none"/>
<path d="M1417.8,403.1V379.5" stroke="#000" stroke-width="3.0" stroke-opacity="1" fill="none"/>
<circle cx="1417.8" cy="391.3" r="2.0" fill="#000"/>
<path d="M1415.1,394.4V372.5M1409.1,372.5h12.0M1409.1,394.4h12.0" stroke="#000" stroke-width="1.3" fill="none"/>
<path d="M1415.1,392.2V374.6" stroke="#000" stroke-width="2.8" stroke-opacity="1" fill="none"/>
<circle cx="1415.1" cy="383.4" r="2.0" fill="#000"/>
<path d="M1409.2,397.0V381.2M1402.2,381.2h14.0M1402.2,397.0h14.0" stroke="#000" stroke-width="1.3" fill="none"/>
<path d="M1409.2,395.2V383.0" stroke="#000" stroke-width="3.0" stroke-opacity="1" fill="none"/>
<circle cx="1409.2" cy="389.1" r="2.0" fill="#000"/>
<path d="M1411.9,397.4V374.6M1406.9,374.6h10.0M1406.9,397.4h10.0" stroke="#000" stroke-width="1.3" fill="none"/>
<path d="M1411.9,394.8V377.3" stroke="#000" stroke-width="2.6" stroke-opacity="1" fill="none"/>
<circle cx="1411.9" cy="386.0" r="2.0" fill="#000"/>
<path d="M1419.9,428.6V411.0M1414.4,411.0h11.0M1414.4,428.6h11.0" stroke="#000" stroke-width="1.3" fill="none"/>
<path d="M1419.9,425.5V414.1" stroke="#000" stroke-width="2.8" stroke-opacity="1" fill="none"/>
<circle cx="1419.9" cy="419.8" r="1.8" fill="#000"/>
<path d="M1421.2,436.0V418.5M1416.7,418.5h9.0M1416.7,436.0h9.0" stroke="#000" stroke-width="1.3" fill="none"/>
<path d="M1421.2,432.9V421.5" stroke="#000" stroke-width="2.8" stroke-opacity="1" fill="none"/>
<circle cx="1421.2" cy="427.2" r="1.8" fill="#000"/>
<path d="M1422.7,443.9V426.4M1417.2,426.4h11.0M1417.2,443.9h11.0" stroke="#000" stroke-width="1.3" fill="none"/>
<path d="M1422.7,440.8V429.4" stroke="#000" stroke-width="2.8" stroke-opacity="1" fill="none"/>
<circle cx="1422.7" cy="435.1" r="1.8" fill="#000"/>
<path d="M1424.2,451.8V434.3M1419.7,434.3h9.0M1419.7,451.8h9.0" stroke="#000" stroke-width="1.3" fill="none"/>
<path d="M1424.2,448.7V437.3" stroke="#000" stroke-width="2.8" stroke-opacity="1" fill="none"/>
<circle cx="1424.2" cy="443.0" r="1.8" fill="#000"/>
<path d="M1425.7,458.8V441.3M1420.2,441.3h11.0M1420.2,458.8h11.0" stroke="#000" stroke-width="1.3" fill="none"/>
<path d="M1425.7,455.7V444.3" stroke="#000" stroke-width="2.8" stroke-opacity="1" fill="none"/>
<circle cx="1425.7" cy="450.0" r="1.8" fill="#000"/>
<path d="M1428.0,449.2V419.4M1422.0,419.4h12.0M1422.0,449.2h12.0" stroke="#000" stroke-width="1.3" fill="none"/>
<path d="M1428.0,444.8V423.7" stroke="#000" stroke-width="3.4" stroke-opacity="1" fill="none"/>
<circle cx="1428.0" cy="434.3" r="1.8" fill="#000"/>
<path d="M1430.7,450.5V432.9M1425.7,432.9h10.0M1425.7,450.5h10.0" stroke="#000" stroke-width="1.3" fill="none"/>
<path d="M1430.7,447.8V435.6" stroke="#000" stroke-width="2.4" stroke-opacity="1" fill="none"/>
<circle cx="1430.7" cy="441.7" r="1.8" fill="#000"/>
<path d="M1433.9,436.9V408.8M1427.1,408.8h13.6M1427.1,436.9h13.6" stroke="#000" stroke-width="1.3" fill="none"/>
<path d="M1433.9,431.6V414.1" stroke="#000" stroke-width="3.2" stroke-opacity="1" fill="none"/>
<circle cx="1433.9" cy="422.9" r="1.8" fill="#000"/>
<path d="M1435.8,440.4V422.9M1430.8,422.9h10.0M1430.8,440.4h10.0" stroke="#000" stroke-width="1.3" fill="none"/>
<path d="M1435.8,437.8V425.5" stroke="#000" stroke-width="3.0" stroke-opacity="1" fill="none"/>
<circle cx="1435.8" cy="431.6" r="1.8" fill="#000"/>
<path d="M1437.2,448.3V430.8M1431.2,430.8h12.0M1431.2,448.3h12.0" stroke="#000" stroke-width="1.3" fill="none"/>
<path d="M1437.2,445.7V433.4" stroke="#000" stroke-width="3.0" stroke-opacity="1" fill="none"/>
<circle cx="1437.2" cy="439.5" r="1.8" fill="#000"/>
<path d="M1438.4,456.2V438.6M1433.4,438.6h10.0M1433.4,456.2h10.0" stroke="#000" stroke-width="1.3" fill="none"/>
<path d="M1438.4,453.5V441.3" stroke="#000" stroke-width="3.0" stroke-opacity="1" fill="none"/>
<circle cx="1438.4" cy="447.4" r="1.8" fill="#000"/>
<path d="M1439.7,464.1V446.5M1433.7,446.5h12.0M1433.7,464.1h12.0" stroke="#000" stroke-width="1.3" fill="none"/>
<path d="M1439.7,461.4V449.2" stroke="#000" stroke-width="3.0" stroke-opacity="1" fill="none"/>
<circle cx="1439.7" cy="455.3" r="1.8" fill="#000"/>
<path d="M1444.6,472.4V418.9M1437.1,418.9h15.0M1437.1,472.4h15.0" stroke="#000" stroke-width="1.0" stroke-opacity="0.8" fill="none"/>
<path d="M1437.4,443.0H1451.2M1437.4,443.0v0.0M1451.2,443.0v0.0" stroke="#000" stroke-width="1.0" stroke-opacity="0.8" fill="none"/>
<path d="M1447.6,474.6V421.1M1442.1,421.1h11.0M1442.1,474.6h11.0" stroke="#000" stroke-width="1.0" stroke-opacity="0.8" fill="none"/>
<path d="M1440.6,446.1H1455.4M1440.6,446.1v0.0M1455.4,446.1v0.0" stroke="#000" stroke-width="1.0" stroke-opacity="0.8" fill="none"/>
<circle cx="1445.9" cy="435.6" r="2.6" fill="#000"/>
<circle cx="1448.2" cy="438.2" r="2.4" fill="#000"/>
<path d="M1453.8,443.9V401.1M1446.8,401.1h14.0M1446.8,443.9h14.0" stroke="#000" stroke-width="1.2" fill="none"/>
<path d="M1453.8,441.3V412.3" stroke="#000" stroke-width="4.2" stroke-opacity="1" fill="none"/>
<circle cx="1453.8" cy="413.7" r="2.4" fill="#000"/>
<path d="M1460.1,446.1V396.1M1453.2,396.1h13.8M1453.2,446.1h13.8" stroke="#000" stroke-width="1.0" stroke-opacity="0.8" fill="none"/>
<path d="M1460.1,435.1V406.6" stroke="#000" stroke-width="3.2" stroke-opacity="0.55" fill="none"/>
<circle cx="1460.1" cy="416.3" r="2.2" fill="#000"/>
<path d="M1457.0,453.5V434.3M1451.5,434.3h11.0M1451.5,453.5h11.0" stroke="#000" stroke-width="1.3" fill="none"/>
<path d="M1457.0,450.5V437.3" stroke="#000" stroke-width="2.6" stroke-opacity="1" fill="none"/>
<circle cx="1457.0" cy="443.9" r="1.8" fill="#000"/>
<path d="M1458.4,460.6V441.3M1452.9,441.3h11.0M1452.9,460.6h11.0" stroke="#000" stroke-width="1.3" fill="none"/>
<path d="M1458.4,457.5V444.3" stroke="#000" stroke-width="2.6" stroke-opacity="1" fill="none"/>
<circle cx="1458.4" cy="450.9" r="1.8" fill="#000"/>
<path d="M1459.7,466.7V447.4M1454.2,447.4h11.0M1454.2,466.7h11.0" stroke="#000" stroke-width="1.3" fill="none"/>
<path d="M1459.7,463.6V450.5" stroke="#000" stroke-width="2.6" stroke-opacity="1" fill="none"/>
<circle cx="1459.7" cy="457.0" r="1.8" fill="#000"/>
<path d="M1450.9,481.2V443.9M1450.9,443.9h0.0M1450.9,481.2h0.0" stroke="#000" stroke-width="1.2" stroke-opacity="0.7" fill="none"/>
<circle cx="1450.9" cy="457.9" r="2.3" fill="#000"/>
<path d="M1450.1,460.8H1468.2M1450.1,460.8v0.0M1468.2,460.8v0.0" stroke="#000" stroke-width="1.1" fill="none"/>
<circle cx="1460.8" cy="460.8" r="2.3" fill="#000"/>
<path d="M1467.8,474.6V429.0M1461.0,429.0h13.6M1461.0,474.6h13.6" stroke="#000" stroke-width="1.1" fill="none"/>
<path d="M1460.7,449.4H1475.1M1460.7,444.4v10.0M1475.1,444.4v10.0" stroke="#000" stroke-width="1.1" fill="none"/>
<circle cx="1467.8" cy="449.4" r="2.3" fill="#000"/>
<path d="M1498.9,464.1H1518.0M1498.9,459.1v10.0M1518.0,459.1v10.0" stroke="#000" stroke-width="1.0" stroke-opacity="0.8" fill="none"/>
<circle cx="1508.3" cy="464.1" r="2.2" fill="#000"/>
<path d="M1475.6,466.3H1488.3M1475.6,456.3v20.0M1488.3,456.3v20.0" stroke="#000" stroke-width="1.0" fill="none"/>
<path d="M1488.3,485.5V428.6M1488.3,428.6h0.0M1488.3,485.5h0.0" stroke="#000" stroke-width="1.3" fill="none"/>
<path d="M1475.5,479.0V430.8M1475.5,430.8h0.0M1475.5,479.0h0.0" stroke="#000" stroke-width="1.0" stroke-opacity="0.8" fill="none"/>
<path d="M1490.4,467.1H1504.2M1490.4,467.1v0.0M1504.2,467.1v0.0" stroke="#000" stroke-width="2.0" fill="none"/>
<path d="M1496.6,499.1V441.7M1490.6,441.7h12.0M1490.6,499.1h12.0" stroke="#000" stroke-width="1.3" fill="none"/>
<path d="M1496.6,485.5V468.0" stroke="#000" stroke-width="2.6" stroke-opacity="1" fill="none"/>
<path d="M1505.3,503.7V443.9M1498.8,443.9h13.0M1498.8,503.7h13.0" stroke="#000" stroke-width="1.2" fill="none"/>
<path d="M1505.3,496.5V483.3" stroke="#000" stroke-width="2.6" stroke-opacity="0.7" fill="none"/>
<path d="M1487.3,453.1H1506.4M1487.3,447.1v12.0M1506.4,447.1v12.0" stroke="#000" stroke-width="1.0" fill="none"/>
<path d="M1472.4,483.3H1488.9M1472.4,479.3v8.0M1488.9,479.3v8.0" stroke="#000" stroke-width="1.0" stroke-opacity="0.8" fill="none"/>
<path d="M1475.6,443.9H1504.2M1475.6,438.9v10.0M1504.2,438.9v10.0" stroke="#000" stroke-width="1.0" stroke-opacity="0.6" fill="none"/>
<path d="M1460.7,429.0H1474.5M1460.7,429.0v0.0M1474.5,429.0v0.0" stroke="#000" stroke-width="1.0" stroke-opacity="0.8" fill="none"/>
<path d="M1474.4,487.7V429.0M1474.4,429.0h0.0M1474.4,487.7h0.0" stroke="#000" stroke-width="1.0" stroke-opacity="0.8" fill="none"/>
<path d="M1402.9,381.7V364.1M1396.4,364.1h13.0M1396.4,381.7h13.0" stroke="#000" stroke-width="1.3" fill="none"/>
<path d="M1402.9,372.9V372.9" stroke="#000" stroke-width="0" stroke-opacity="1" fill="none"/>
<path d="M1403.9,394.4V375.1M1396.9,375.1h14.0M1396.9,394.4h14.0" stroke="#000" stroke-width="1.3" fill="none"/>
<path d="M1403.9,384.7V384.7" stroke="#000" stroke-width="0" stroke-opacity="1" fill="none"/>
<path d="M1416.1,383.8V361.9M1408.6,361.9h15.0M1408.6,383.8h15.0" stroke="#000" stroke-width="1.3" fill="none"/>
<path d="M1416.1,380.8V365.0" stroke="#000" stroke-width="2.4" stroke-opacity="1" fill="none"/>
<circle cx="1416.1" cy="372.9" r="1.8" fill="#000"/>
<path d="M1410.8,406.6V389.1M1402.3,389.1h17.0M1402.3,406.6h17.0" stroke="#000" stroke-width="1.3" fill="none"/>
<path d="M1410.8,404.0V391.7" stroke="#000" stroke-width="2.6" stroke-opacity="1" fill="none"/>
<circle cx="1410.8" cy="397.9" r="1.8" fill="#000"/>
<path d="M1417.8,411.0V384.7M1411.3,384.7h13.0M1411.3,411.0h13.0" stroke="#000" stroke-width="1.3" fill="none"/>
<path d="M1417.8,407.5V388.2" stroke="#000" stroke-width="3.0" stroke-opacity="1" fill="none"/>
<circle cx="1417.8" cy="397.9" r="1.8" fill="#000"/>
<path d="M1407.1,381.7V364.1M1402.1,364.1h10.0M1402.1,381.7h10.0" stroke="#000" stroke-width="1.3" fill="none"/>
<path d="M1407.1,379.9V365.9" stroke="#000" stroke-width="3.0" stroke-opacity="1" fill="none"/>
<circle cx="1407.1" cy="372.9" r="1.8" fill="#000"/>
<path d="M1504.2,487.7V446.1M1504.2,446.1h0.0M1504.2,487.7h0.0" stroke="#000" stroke-width="1.2" stroke-opacity="0.85" fill="none"/>
<path d="M1509.2,479.0V448.3M1504.2,448.3h10.0M1504.2,479.0h10.0" stroke="#000" stroke-width="1.1" stroke-opacity="0.8" fill="none"/>
<path d="M1511.0,485.5V461.4M1506.0,461.4h10.0M1506.0,485.5h10.0" stroke="#000" stroke-width="1.1" stroke-opacity="0.8" fill="none"/>
<path d="M1504.2,473.3H1518.0M1504.2,469.3v8.0M1518.0,469.3v8.0" stroke="#000" stroke-width="1.1" stroke-opacity="0.8" fill="none"/>
<path d="M1465.8,483.3V456.2M1461.8,456.2h8.0M1461.8,483.3h8.0" stroke="#000" stroke-width="1.1" stroke-opacity="0.75" fill="none"/>
<path d="M1459.7,469.9H1472.4M1459.7,466.9v6.0M1472.4,466.9v6.0" stroke="#000" stroke-width="1.1" stroke-opacity="0.75" fill="none"/>
<path d="M1491.5,479.0V441.7M1486.5,441.7h10.0M1486.5,479.0h10.0" stroke="#000" stroke-width="1.1" stroke-opacity="0.7" fill="none"/>
<path d="M1501.1,489.9V454.9M1496.1,454.9h10.0M1496.1,489.9h10.0" stroke="#000" stroke-width="1.1" stroke-opacity="0.7" fill="none"/>
<path d="M1445.9,448.3H1460.7M1445.9,444.3v8.0M1460.7,444.3v8.0" stroke="#000" stroke-width="1.0" stroke-opacity="0.7" fill="none"/>
<path d="M1433.1,430.8H1448.0M1433.1,426.8v8.0M1448.0,426.8v8.0" stroke="#000" stroke-width="1.0" stroke-opacity="0.7" fill="none"/>
<path d="M1423.6,454.9H1436.3M1423.6,451.9v6.0M1436.3,451.9v6.0" stroke="#000" stroke-width="1.0" stroke-opacity="0.7" fill="none"/>
</g>
<g stroke="#8c8c8c" stroke-width="1" fill="none">
<path d="M92.0,49.4H1790.7M92.0,575.4H1790.7M92.0,49.4V575.4M1790.7,49.4V575.4"/>
<path d="M941.2,49.4V575.4M1366.25,49.4V575.4" stroke="#5c5c5c" stroke-width="1.3"/>
</g>
<path d="M92.0,312.4H1790.7" stroke="#444" stroke-width="1" fill="none"/>
<path d="M517.3,49.4h40.6M942.0,49.4h40.6M1367.0,49.4h40.6" stroke="#fff" stroke-opacity="0.5" stroke-width="1.6" fill="none"/>
<path d="M516.4,285.3V312.4M516.4,530.5V575.4" stroke="#555" stroke-width="1" fill="none"/>
<path d="M113.2,49.4v4.2M113.2,575.4v-4.2M113.2,308.2v8.4M155.7,49.4v4.2M155.7,575.4v-4.2M155.7,308.2v8.4M176.9,49.4v4.2M176.9,575.4v-4.2M176.9,308.2v8.4M198.2,49.4v4.2M198.2,575.4v-4.2M198.2,308.2v8.4M219.4,49.4v4.2M219.4,575.4v-4.2M219.4,308.2v8.4M240.6,49.4v4.2M240.6,575.4v-4.2M240.6,308.2v8.4M261.8,49.4v4.2M261.8,575.4v-4.2M261.8,308.2v8.4M283.1,49.4v4.2M283.1,575.4v-4.2M283.1,308.2v8.4M304.3,49.4v4.2M304.3,575.4v-4.2M304.3,308.2v8.4M325.5,49.4v4.2M325.5,575.4v-4.2M325.5,308.2v8.4M346.8,49.4v4.2M346.8,575.4v-4.2M346.8,308.2v8.4M368.0,49.4v4.2M368.0,575.4v-4.2M368.0,308.2v8.4M389.2,49.4v4.2M389.2,575.4v-4.2M389.2,308.2v8.4M410.4,49.4v4.2M410.4,575.4v-4.2M410.4,308.2v8.4M431.7,49.4v4.2M431.7,575.4v-4.2M431.7,308.2v8.4M452.9,49.4v4.2M452.9,575.4v-4.2M452.9,308.2v8.4M474.1,49.4v4.2M474.1,575.4v-4.2M474.1,308.2v8.4M495.4,49.4v4.2M495.4,575.4v-4.2M495.4,308.2v8.4M537.7,49.4v4.2M537.7,575.4v-4.2M537.7,308.2v8.4M580.2,49.4v4.2M580.2,575.4v-4.2M580.2,308.2v8.4M601.4,49.4v4.2M601.4,575.4v-4.2M601.4,308.2v8.4M622.6,49.4v4.2M622.6,575.4v-4.2M622.6,308.2v8.4M643.9,49.4v4.2M643.9,575.4v-4.2M643.9,308.2v8.4M665.1,49.4v4.2M665.1,575.4v-4.2M665.1,308.2v8.4M686.3,49.4v4.2M686.3,575.4v-4.2M686.3,308.2v8.4M707.6,49.4v4.2M707.6,575.4v-4.2M707.6,308.2v8.4M728.8,49.4v4.2M728.8,575.4v-4.2M728.8,308.2v8.4M750.0,49.4v4.2M750.0,575.4v-4.2M750.0,308.2v8.4M771.3,49.4v4.2M771.3,575.4v-4.2M771.3,308.2v8.4M792.5,49.4v4.2M792.5,575.4v-4.2M792.5,308.2v8.4M813.7,49.4v4.2M813.7,575.4v-4.2M813.7,308.2v8.4M835.0,49.4v4.2M835.0,575.4v-4.2M835.0,308.2v8.4M856.2,49.4v4.2M856.2,575.4v-4.2M856.2,308.2v8.4M877.4,49.4v4.2M877.4,575.4v-4.2M877.4,308.2v8.4M898.6,49.4v4.2M898.6,575.4v-4.2M898.6,308.2v8.4M919.9,49.4v4.2M919.9,575.4v-4.2M919.9,308.2v8.4M962.4,49.4v4.2M962.4,575.4v-4.2M962.4,308.2v8.4M1004.9,49.4v4.2M1004.9,575.4v-4.2M1004.9,308.2v8.4M1026.1,49.4v4.2M1026.1,575.4v-4.2M1026.1,308.2v8.4M1047.4,49.4v4.2M1047.4,575.4v-4.2M1047.4,308.2v8.4M1068.6,49.4v4.2M1068.6,575.4v-4.2M1068.6,308.2v8.4M1089.8,49.4v4.2M1089.8,575.4v-4.2M1089.8,308.2v8.4M1111.0,49.4v4.2M1111.0,575.4v-4.2M1111.0,308.2v8.4M1132.3,49.4v4.2M1132.3,575.4v-4.2M1132.3,308.2v8.4M1153.5,49.4v4.2M1153.5,575.4v-4.2M1153.5,308.2v8.4M1174.7,49.4v4.2M1174.7,575.4v-4.2M1174.7,308.2v8.4M1196.0,49.4v4.2M1196.0,575.4v-4.2M1196.0,308.2v8.4M1217.2,49.4v4.2M1217.2,575.4v-4.2M1217.2,308.2v8.4M1238.4,49.4v4.2M1238.4,575.4v-4.2M1238.4,308.2v8.4M1259.7,49.4v4.2M1259.7,575.4v-4.2M1259.7,308.2v8.4M1280.9,49.4v4.2M1280.9,575.4v-4.2M1280.9,308.2v8.4M1302.1,49.4v4.2M1302.1,575.4v-4.2M1302.1,308.2v8.4M1323.3,49.4v4.2M1323.3,575.4v-4.2M1323.3,308.2v8.4M1344.6,49.4v4.2M1344.6,575.4v-4.2M1344.6,308.2v8.4M1387.5,49.4v4.2M1387.5,575.4v-4.2M1387.5,308.2v8.4M1429.9,49.4v4.2M1429.9,575.4v-4.2M1429.9,308.2v8.4M1451.2,49.4v4.2M1451.2,575.4v-4.2M1451.2,308.2v8.4M1472.4,49.4v4.2M1472.4,575.4v-4.2M1472.4,308.2v8.4M1493.6,49.4v4.2M1493.6,575.4v-4.2M1493.6,308.2v8.4M1514.9,49.4v4.2M1514.9,575.4v-4.2M1514.9,308.2v8.4M1536.1,49.4v4.2M1536.1,575.4v-4.2M1536.1,308.2v8.4M1557.3,49.4v4.2M1557.3,575.4v-4.2M1557.3,308.2v8.4M1578.5,49.4v4.2M1578.5,575.4v-4.2M1578.5,308.2v8.4M1599.8,49.4v4.2M1599.8,575.4v-4.2M1599.8,308.2v8.4M1621.0,49.4v4.2M1621.0,575.4v-4.2M1621.0,308.2v8.4M1642.2,49.4v4.2M1642.2,575.4v-4.2M1642.2,308.2v8.4M1663.5,49.4v4.2M1663.5,575.4v-4.2M1663.5,308.2v8.4M1684.7,49.4v4.2M1684.7,575.4v-4.2M1684.7,308.2v8.4M1705.9,49.4v4.2M1705.9,575.4v-4.2M1705.9,308.2v8.4M1727.2,49.4v4.2M1727.2,575.4v-4.2M1727.2,308.2v8.4M1748.4,49.4v4.2M1748.4,575.4v-4.2M1748.4,308.2v8.4M1769.6,49.4v4.2M1769.6,575.4v-4.2M1769.6,308.2v8.4" stroke="#8c8c8c" stroke-width="1" fill="none"/>
<path d="M92.0,303.6h3.6M1790.7,303.6h-3.6M937.6,303.6h7.2M1362.65,303.6h7.2M512.5,303.6h7.6M92.0,294.9h3.6M1790.7,294.9h-3.6M937.6,294.9h7.2M1362.65,294.9h7.2M512.5,294.9h7.6M92.0,286.1h3.6M1790.7,286.1h-3.6M937.6,286.1h7.2M1362.65,286.1h7.2M512.5,286.1h7.6M92.0,277.3h3.6M1790.7,277.3h-3.6M937.6,277.3h7.2M1362.65,277.3h7.2M512.5,277.3h7.6M92.0,268.6h6M1790.7,268.6h-6M935.2,268.6h12M1360.25,268.6h12M512.5,268.6h7.6M92.0,259.8h3.6M1790.7,259.8h-3.6M937.6,259.8h7.2M1362.65,259.8h7.2M512.5,259.8h7.6M92.0,251.0h3.6M1790.7,251.0h-3.6M937.6,251.0h7.2M1362.65,251.0h7.2M512.5,251.0h7.6M92.0,242.3h3.6M1790.7,242.3h-3.6M937.6,242.3h7.2M1362.65,242.3h7.2M518.3,242.3h1.2M92.0,233.5h3.6M1790.7,233.5h-3.6M937.6,233.5h7.2M1362.65,233.5h7.2M518.3,233.5h1.2M92.0,224.7h6M1790.7,224.7h-6M935.2,224.7h12M1360.25,224.7h12M518.3,224.7h2.2M92.0,216.0h3.6M1790.7,216.0h-3.6M937.6,216.0h7.2M1362.65,216.0h7.2M518.3,216.0h1.2M92.0,207.2h3.6M1790.7,207.2h-3.6M937.6,207.2h7.2M1362.65,207.2h7.2M518.3,207.2h1.2M92.0,198.4h3.6M1790.7,198.4h-3.6M937.6,198.4h7.2M1362.65,198.4h7.2M512.5,198.4h7.6M92.0,189.7h3.6M1790.7,189.7h-3.6M937.6,189.7h7.2M1362.65,189.7h7.2M512.5,189.7h7.6M92.0,180.9h6M1790.7,180.9h-6M935.2,180.9h12M1360.25,180.9h12M512.5,180.9h7.6M92.0,172.1h3.6M1790.7,172.1h-3.6M937.6,172.1h7.2M1362.65,172.1h7.2M512.5,172.1h7.6M92.0,163.4h3.6M1790.7,163.4h-3.6M937.6,163.4h7.2M1362.65,163.4h7.2M512.5,163.4h7.6M92.0,154.6h3.6M1790.7,154.6h-3.6M937.6,154.6h7.2M1362.65,154.6h7.2M512.5,154.6h7.6M92.0,145.8h3.6M1790.7,145.8h-3.6M937.6,145.8h7.2M1362.65,145.8h7.2M512.5,145.8h7.6M92.0,137.1h6M1790.7,137.1h-6M935.2,137.1h12M1360.25,137.1h12M512.5,137.1h7.6M92.0,128.3h3.6M1790.7,128.3h-3.6M937.6,128.3h7.2M1362.65,128.3h7.2M518.3,128.3h1.2M92.0,119.5h3.6M1790.7,119.5h-3.6M937.6,119.5h7.2M1362.65,119.5h7.2M518.3,119.5h1.2M92.0,110.8h3.6M1790.7,110.8h-3.6M937.6,110.8h7.2M1362.65,110.8h7.2M518.3,110.8h1.2M92.0,102.0h3.6M1790.7,102.0h-3.6M937.6,102.0h7.2M1362.65,102.0h7.2M518.3,102.0h1.2M92.0,93.2h6M1790.7,93.2h-6M935.2,93.2h12M1360.25,93.2h12M518.3,93.2h2.2M92.0,84.5h3.6M1790.7,84.5h-3.6M937.6,84.5h7.2M1362.65,84.5h7.2M512.5,84.5h7.6M92.0,75.7h3.6M1790.7,75.7h-3.6M937.6,75.7h7.2M1362.65,75.7h7.2M512.5,75.7h7.6M92.0,66.9h3.6M1790.7,66.9h-3.6M937.6,66.9h7.2M1362.65,66.9h7.2M512.5,66.9h7.6M92.0,58.2h3.6M1790.7,58.2h-3.6M937.6,58.2h7.2M1362.65,58.2h7.2M512.5,58.2h7.6M92.0,566.6h3.6M1790.7,566.6h-3.6M937.6,566.6h7.2M1362.65,566.6h7.2M512.5,566.6h7.6M92.0,557.9h3.6M1790.7,557.9h-3.6M937.6,557.9h7.2M1362.65,557.9h7.2M512.5,557.9h7.6M92.0,549.1h3.6M1790.7,549.1h-3.6M937.6,549.1h7.2M1362.65,549.1h7.2M512.5,549.1h7.6M92.0,540.3h3.6M1790.7,540.3h-3.6M937.6,540.3h7.2M1362.65,540.3h7.2M512.5,540.3h7.6M92.0,531.6h6M1790.7,531.6h-6M935.2,531.6h12M1360.25,531.6h12M512.5,531.6h7.6M92.0,522.8h3.6M1790.7,522.8h-3.6M937.6,522.8h7.2M1362.65,522.8h7.2M518.3,522.8h1.2M92.0,514.0h3.6M1790.7,514.0h-3.6M937.6,514.0h7.2M1362.65,514.0h7.2M518.3,514.0h1.2M92.0,505.3h3.6M1790.7,505.3h-3.6M937.6,505.3h7.2M1362.65,505.3h7.2M518.3,505.3h1.2M92.0,496.5h3.6M1790.7,496.5h-3.6M937.6,496.5h7.2M1362.65,496.5h7.2M518.3,496.5h1.2M92.0,487.7h6M1790.7,487.7h-6M935.2,487.7h12M1360.25,487.7h12M518.3,487.7h2.2M92.0,479.0h3.6M1790.7,479.0h-3.6M937.6,479.0h7.2M1362.65,479.0h7.2M512.5,479.0h7.6M92.0,470.2h3.6M1790.7,470.2h-3.6M937.6,470.2h7.2M1362.65,470.2h7.2M512.5,470.2h7.6M92.0,461.4h3.6M1790.7,461.4h-3.6M937.6,461.4h7.2M1362.65,461.4h7.2M512.5,461.4h7.6M92.0,452.7h3.6M1790.7,452.7h-3.6M937.6,452.7h7.2M1362.65,452.7h7.2M512.5,452.7h7.6M92.0,443.9h6M1790.7,443.9h-6M935.2,443.9h12M1360.25,443.9h12M512.5,443.9h7.6M92.0,435.1h3.6M1790.7,435.1h-3.6M937.6,435.1h7.2M1362.65,435.1h7.2M512.5,435.1h7.6M92.0,426.4h3.6M1790.7,426.4h-3.6M937.6,426.4h7.2M1362.65,426.4h7.2M512.5,426.4h7.6M92.0,417.6h3.6M1790.7,417.6h-3.6M937.6,417.6h7.2M1362.65,417.6h7.2M512.5,417.6h7.6M92.0,408.8h3.6M1790.7,408.8h-3.6M937.6,408.8h7.2M1362.65,408.8h7.2M518.3,408.8h1.2M92.0,400.1h6M1790.7,400.1h-6M935.2,400.1h12M1360.25,400.1h12M518.3,400.1h2.2M92.0,391.3h3.6M1790.7,391.3h-3.6M937.6,391.3h7.2M1362.65,391.3h7.2M518.3,391.3h1.2M92.0,382.5h3.6M1790.7,382.5h-3.6M937.6,382.5h7.2M1362.65,382.5h7.2M518.3,382.5h1.2M92.0,373.8h3.6M1790.7,373.8h-3.6M937.6,373.8h7.2M1362.65,373.8h7.2M518.3,373.8h1.2M92.0,365.0h3.6M1790.7,365.0h-3.6M937.6,365.0h7.2M1362.65,365.0h7.2M512.5,365.0h7.6M92.0,356.2h6M1790.7,356.2h-6M935.2,356.2h12M1360.25,356.2h12M512.5,356.2h7.6M92.0,347.5h3.6M1790.7,347.5h-3.6M937.6,347.5h7.2M1362.65,347.5h7.2M512.5,347.5h7.6M92.0,338.7h3.6M1790.7,338.7h-3.6M937.6,338.7h7.2M1362.65,338.7h7.2M512.5,338.7h7.6M92.0,329.9h3.6M1790.7,329.9h-3.6M937.6,329.9h7.2M1362.65,329.9h7.2M512.5,329.9h7.6M92.0,321.2h3.6M1790.7,321.2h-3.6M937.6,321.2h7.2M1362.65,321.2h7.2M512.5,321.2h7.6" stroke="#8c8c8c" stroke-width="1" fill="none"/>
<text x="88" y="322.0" font-size="19.5" text-anchor="end" fill="#000">0</text>
<text x="88" y="278.2" font-size="19.5" text-anchor="end" fill="#000">1</text>
<text x="88" y="234.3" font-size="19.5" text-anchor="end" fill="#000">2</text>
<text x="88" y="190.5" font-size="19.5" text-anchor="end" fill="#000">3</text>
<text x="88" y="146.7" font-size="19.5" text-anchor="end" fill="#000">4</text>
<text x="88" y="102.8" font-size="19.5" text-anchor="end" fill="#000">5</text>
<text x="88" y="59.0" font-size="19.5" text-anchor="end" fill="#000">6</text>
<text x="88" y="585.0" font-size="19.5" text-anchor="end" fill="#000">0</text>
<text x="88" y="541.2" font-size="19.5" text-anchor="end" fill="#000">1</text>
<text x="88" y="497.3" font-size="19.5" text-anchor="end" fill="#000">2</text>
<text x="88" y="453.5" font-size="19.5" text-anchor="end" fill="#000">3</text>
<text x="88" y="409.7" font-size="19.5" text-anchor="end" fill="#000">4</text>
<text x="94.7" y="601.2" font-size="19.5" text-anchor="middle" fill="#000">0</text>
<text x="200.8" y="601.2" font-size="19.5" text-anchor="middle" fill="#000">10</text>
<text x="307.0" y="601.2" font-size="19.5" text-anchor="middle" fill="#000">20</text>
<text x="413.1" y="601.2" font-size="19.5" text-anchor="middle" fill="#000">30</text>
<text x="519.2" y="601.2" font-size="19.5" text-anchor="middle" fill="#000">0</text>
<text x="625.4" y="601.2" font-size="19.5" text-anchor="middle" fill="#000">10</text>
<text x="731.5" y="601.2" font-size="19.5" text-anchor="middle" fill="#000">20</text>
<text x="837.7" y="601.2" font-size="19.5" text-anchor="middle" fill="#000">30</text>
<text x="943.9" y="601.2" font-size="19.5" text-anchor="middle" fill="#000">0</text>
<text x="1050.1" y="601.2" font-size="19.5" text-anchor="middle" fill="#000">10</text>
<text x="1156.2" y="601.2" font-size="19.5" text-anchor="middle" fill="#000">20</text>
<text x="1262.4" y="601.2" font-size="19.5" text-anchor="middle" fill="#000">30</text>
<text x="1369.0" y="601.2" font-size="19.5" text-anchor="middle" fill="#000">0</text>
<text x="1475.1" y="601.2" font-size="19.5" text-anchor="middle" fill="#000">10</text>
<text x="1581.2" y="601.2" font-size="19.5" text-anchor="middle" fill="#000">20</text>
<text x="1687.4" y="601.2" font-size="19.5" text-anchor="middle" fill="#000">30</text>
<text x="1792.0" y="601.2" font-size="19.5" text-anchor="middle" fill="#000">40</text>
<text x="410.2" y="99.8" font-size="19.4" text-anchor="middle" fill="#1a1aff">CZ</text>
<text x="834.8" y="99.8" font-size="19.4" text-anchor="middle" fill="#1a1aff">COZ</text>
<text x="1259.5" y="99.8" font-size="19.4" text-anchor="middle" fill="#1a1aff">KS</text>
<text x="1684.5" y="99.8" font-size="19.4" text-anchor="middle" fill="#1a1aff">SB</text>
<text x="410.2" y="362.8" font-size="19.4" text-anchor="middle" fill="#1a1aff">BLW</text>
<text x="410.2" y="393.2" font-size="19.4" text-anchor="middle" fill="#1a1aff">(x50)</text>
<text x="834.8" y="362.8" font-size="19.4" text-anchor="middle" fill="#1a1aff">ABO</text>
<text x="834.8" y="393.2" font-size="19.4" text-anchor="middle" fill="#1a1aff">(x10)</text>
<text x="1259.5" y="362.8" font-size="19.4" text-anchor="middle" fill="#1a1aff">LAT14</text>
<text x="1259.5" y="393.2" font-size="19.4" text-anchor="middle" fill="#1a1aff">(x500)</text>
<text x="1684.5" y="362.8" font-size="19.4" text-anchor="middle" fill="#1a1aff">RQCD</text>
<text x="1684.5" y="393.2" font-size="19.4" text-anchor="middle" fill="#1a1aff">(x100)</text>
<g fill="#000">
<text class="s" x="882.1" y="644" font-size="27" font-style="italic">Q</text>
<text class="s" x="902.6" y="633.2" font-size="17">2</text>
<text class="s" x="922" y="644.6" font-size="29.5">(</text>
<text class="s" x="931" y="644" font-size="27" textLength="50.5" lengthAdjust="spacingAndGlyphs">GeV</text>
<text class="s" x="979.8" y="632.2" font-size="17">2</text>
<text class="s" x="989.5" y="644.6" font-size="29.5">)</text>
</g>
<g fill="#000" transform="translate(52.1,419) rotate(-90)">
<text class="s" x="-0.1" y="0" font-size="27" font-style="italic">Q</text>
<text class="s" x="20.4" y="-10.8" font-size="17">4</text>
<text class="s" x="31.0" y="-0.7" font-size="29.5">|</text>
<text class="s" x="40" y="0" font-size="27" font-style="italic">F</text>
<text class="s" x="59.5" y="-10.5" font-size="17" font-style="italic">p</text>
<text class="s" x="56" y="5.5" font-size="17">1</text>
<text class="s" x="69" y="-0.7" font-size="29.5">(</text>
<text class="s" x="79.2" y="0" font-size="27" font-style="italic">Q</text>
<text class="s" x="99.3" y="-10.8" font-size="17">2</text>
<text class="s" x="108.8" y="-0.7" font-size="29.5">)</text>
<text class="s" x="120.0" y="-0.7" font-size="29.5">|</text>
<text class="s" x="134.5" y="-0.7" font-size="29.5">(</text>
<text class="s" x="143.6" y="0" font-size="27" textLength="48.5" lengthAdjust="spacingAndGlyphs">GeV</text>
<text class="s" x="193.0" y="-11.8" font-size="17">4</text>
<text class="s" x="202.6" y="-0.7" font-size="29.5">)</text>
</g>

</svg></body></html>
